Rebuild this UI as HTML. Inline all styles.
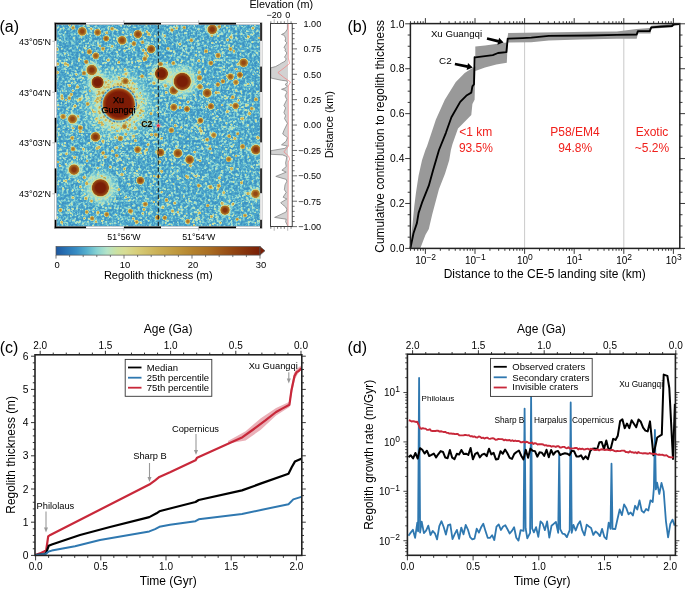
<!DOCTYPE html><html><head><meta charset="utf-8"><style>html,body{margin:0;padding:0;background:#fff;overflow:hidden}svg{display:block;will-change:transform}</style></head><body><svg width="685" height="589" viewBox="0 0 685 589" font-family="'Liberation Sans', sans-serif"><rect width="685" height="589" fill="#fff"/><text x="347.5" y="32.2" font-size="16" text-anchor="start" fill="#000" >(b)</text>
<line x1="524.6" y1="23.6" x2="524.6" y2="248.4" stroke="#bbb" stroke-width="0.8" />
<line x1="623.8" y1="23.6" x2="623.8" y2="248.4" stroke="#bbb" stroke-width="0.8" />
<polygon points="410.4,248.2 411.8,231.6 414.3,206.1 416,192.5 418.6,175.5 422,160.2 425.4,150 427.1,146.1 435.9,119.6 444.8,99.7 455.8,82 464.7,73.1 471.3,68.7 475.3,66.5 475.3,46.6 485,45.5 506.8,42.5 508.2,32.9 590,31.7 616.8,31.6 636.7,29.1 649.7,28 651.3,25.7 672,23.9 679.6,23.5 679.6,24.5 675,25 672,27.3 651.3,28.8 650.5,33.4 637.9,33.4 636.7,38.8 616.8,38.8 580,39.5 548.8,40.4 531.3,42.2 507.7,42.5 506.8,62.7 496.3,64.4 485,67.6 475.3,70.9 474.6,99.7 472.4,104.1 471.3,115.1 466.9,119.6 458,128.4 452.5,143.9 450.9,150 449.2,160.2 445,173.8 439,189.1 432.2,214.6 428.8,229 425.4,235 420.3,248.2" fill="#999" />
<polyline points="410.4,248.2 413.5,233.3 416.9,223.1 418.6,212.9 422,202.7 428.8,185.7 433,170.4 439,150 445.9,132.8 451.4,117.3 460.2,101.9 466.9,95.2 471.3,92.6 472.4,86.4 474,84.2 474.6,57.2 475.3,57.4 492.8,55.1 498,53 506.4,52.2 507.7,38.7 522.6,38.1 531.3,37.6 548.8,35.9 590,35.5 616.8,34.9 636.7,34.5 637.9,31.1 649.7,31.1 651.3,27.3 662.8,26.5 672,26 673.5,24.5 679.6,24.2" fill="none" stroke="#000" stroke-width="1.85" stroke-linejoin="round" />
<rect x="410.4" y="23.6" width="269.4" height="224.8" fill="none" stroke="#222" stroke-width="1.5"/>
<line x1="405.2" y1="248.4" x2="410.4" y2="248.4" stroke="#222" stroke-width="0.9" />
<line x1="679.8" y1="248.4" x2="685" y2="248.4" stroke="#222" stroke-width="0.9" />
<line x1="407.7" y1="237.17" x2="410.4" y2="237.17" stroke="#222" stroke-width="0.9" />
<line x1="679.8" y1="237.17" x2="682.5" y2="237.17" stroke="#222" stroke-width="0.9" />
<line x1="407.7" y1="225.94" x2="410.4" y2="225.94" stroke="#222" stroke-width="0.9" />
<line x1="679.8" y1="225.94" x2="682.5" y2="225.94" stroke="#222" stroke-width="0.9" />
<line x1="407.7" y1="214.71" x2="410.4" y2="214.71" stroke="#222" stroke-width="0.9" />
<line x1="679.8" y1="214.71" x2="682.5" y2="214.71" stroke="#222" stroke-width="0.9" />
<line x1="405.2" y1="203.48" x2="410.4" y2="203.48" stroke="#222" stroke-width="0.9" />
<line x1="679.8" y1="203.48" x2="685" y2="203.48" stroke="#222" stroke-width="0.9" />
<line x1="407.7" y1="192.25" x2="410.4" y2="192.25" stroke="#222" stroke-width="0.9" />
<line x1="679.8" y1="192.25" x2="682.5" y2="192.25" stroke="#222" stroke-width="0.9" />
<line x1="407.7" y1="181.02" x2="410.4" y2="181.02" stroke="#222" stroke-width="0.9" />
<line x1="679.8" y1="181.02" x2="682.5" y2="181.02" stroke="#222" stroke-width="0.9" />
<line x1="407.7" y1="169.79" x2="410.4" y2="169.79" stroke="#222" stroke-width="0.9" />
<line x1="679.8" y1="169.79" x2="682.5" y2="169.79" stroke="#222" stroke-width="0.9" />
<line x1="405.2" y1="158.56" x2="410.4" y2="158.56" stroke="#222" stroke-width="0.9" />
<line x1="679.8" y1="158.56" x2="685" y2="158.56" stroke="#222" stroke-width="0.9" />
<line x1="407.7" y1="147.33" x2="410.4" y2="147.33" stroke="#222" stroke-width="0.9" />
<line x1="679.8" y1="147.33" x2="682.5" y2="147.33" stroke="#222" stroke-width="0.9" />
<line x1="407.7" y1="136.1" x2="410.4" y2="136.1" stroke="#222" stroke-width="0.9" />
<line x1="679.8" y1="136.1" x2="682.5" y2="136.1" stroke="#222" stroke-width="0.9" />
<line x1="407.7" y1="124.87" x2="410.4" y2="124.87" stroke="#222" stroke-width="0.9" />
<line x1="679.8" y1="124.87" x2="682.5" y2="124.87" stroke="#222" stroke-width="0.9" />
<line x1="405.2" y1="113.64" x2="410.4" y2="113.64" stroke="#222" stroke-width="0.9" />
<line x1="679.8" y1="113.64" x2="685" y2="113.64" stroke="#222" stroke-width="0.9" />
<line x1="407.7" y1="102.41" x2="410.4" y2="102.41" stroke="#222" stroke-width="0.9" />
<line x1="679.8" y1="102.41" x2="682.5" y2="102.41" stroke="#222" stroke-width="0.9" />
<line x1="407.7" y1="91.18" x2="410.4" y2="91.18" stroke="#222" stroke-width="0.9" />
<line x1="679.8" y1="91.18" x2="682.5" y2="91.18" stroke="#222" stroke-width="0.9" />
<line x1="407.7" y1="79.95" x2="410.4" y2="79.95" stroke="#222" stroke-width="0.9" />
<line x1="679.8" y1="79.95" x2="682.5" y2="79.95" stroke="#222" stroke-width="0.9" />
<line x1="405.2" y1="68.72" x2="410.4" y2="68.72" stroke="#222" stroke-width="0.9" />
<line x1="679.8" y1="68.72" x2="685" y2="68.72" stroke="#222" stroke-width="0.9" />
<line x1="407.7" y1="57.49" x2="410.4" y2="57.49" stroke="#222" stroke-width="0.9" />
<line x1="679.8" y1="57.49" x2="682.5" y2="57.49" stroke="#222" stroke-width="0.9" />
<line x1="407.7" y1="46.26" x2="410.4" y2="46.26" stroke="#222" stroke-width="0.9" />
<line x1="679.8" y1="46.26" x2="682.5" y2="46.26" stroke="#222" stroke-width="0.9" />
<line x1="407.7" y1="35.03" x2="410.4" y2="35.03" stroke="#222" stroke-width="0.9" />
<line x1="679.8" y1="35.03" x2="682.5" y2="35.03" stroke="#222" stroke-width="0.9" />
<line x1="405.2" y1="23.8" x2="410.4" y2="23.8" stroke="#222" stroke-width="0.9" />
<line x1="679.8" y1="23.8" x2="685" y2="23.8" stroke="#222" stroke-width="0.9" />
<text x="404.4" y="252.1" font-size="10.3" text-anchor="end" fill="#000" >0.0</text>
<text x="404.4" y="207.18" font-size="10.3" text-anchor="end" fill="#000" >0.2</text>
<text x="404.4" y="162.26" font-size="10.3" text-anchor="end" fill="#000" >0.4</text>
<text x="404.4" y="117.34" font-size="10.3" text-anchor="end" fill="#000" >0.6</text>
<text x="404.4" y="72.42" font-size="10.3" text-anchor="end" fill="#000" >0.8</text>
<text x="404.4" y="27.5" font-size="10.3" text-anchor="end" fill="#000" >1.0</text>
<line x1="410.47" y1="248.4" x2="410.47" y2="250.8" stroke="#222" stroke-width="0.9" />
<line x1="410.47" y1="21.2" x2="410.47" y2="23.6" stroke="#222" stroke-width="0.9" />
<line x1="414.4" y1="248.4" x2="414.4" y2="250.8" stroke="#222" stroke-width="0.9" />
<line x1="414.4" y1="21.2" x2="414.4" y2="23.6" stroke="#222" stroke-width="0.9" />
<line x1="417.72" y1="248.4" x2="417.72" y2="250.8" stroke="#222" stroke-width="0.9" />
<line x1="417.72" y1="21.2" x2="417.72" y2="23.6" stroke="#222" stroke-width="0.9" />
<line x1="420.59" y1="248.4" x2="420.59" y2="250.8" stroke="#222" stroke-width="0.9" />
<line x1="420.59" y1="21.2" x2="420.59" y2="23.6" stroke="#222" stroke-width="0.9" />
<line x1="423.13" y1="248.4" x2="423.13" y2="250.8" stroke="#222" stroke-width="0.9" />
<line x1="423.13" y1="21.2" x2="423.13" y2="23.6" stroke="#222" stroke-width="0.9" />
<line x1="425.4" y1="248.4" x2="425.4" y2="253.9" stroke="#222" stroke-width="0.9" />
<line x1="425.4" y1="18.1" x2="425.4" y2="23.6" stroke="#222" stroke-width="0.9" />
<line x1="440.33" y1="248.4" x2="440.33" y2="250.8" stroke="#222" stroke-width="0.9" />
<line x1="440.33" y1="21.2" x2="440.33" y2="23.6" stroke="#222" stroke-width="0.9" />
<line x1="449.07" y1="248.4" x2="449.07" y2="250.8" stroke="#222" stroke-width="0.9" />
<line x1="449.07" y1="21.2" x2="449.07" y2="23.6" stroke="#222" stroke-width="0.9" />
<line x1="455.26" y1="248.4" x2="455.26" y2="250.8" stroke="#222" stroke-width="0.9" />
<line x1="455.26" y1="21.2" x2="455.26" y2="23.6" stroke="#222" stroke-width="0.9" />
<line x1="460.07" y1="248.4" x2="460.07" y2="250.8" stroke="#222" stroke-width="0.9" />
<line x1="460.07" y1="21.2" x2="460.07" y2="23.6" stroke="#222" stroke-width="0.9" />
<line x1="464" y1="248.4" x2="464" y2="250.8" stroke="#222" stroke-width="0.9" />
<line x1="464" y1="21.2" x2="464" y2="23.6" stroke="#222" stroke-width="0.9" />
<line x1="467.32" y1="248.4" x2="467.32" y2="250.8" stroke="#222" stroke-width="0.9" />
<line x1="467.32" y1="21.2" x2="467.32" y2="23.6" stroke="#222" stroke-width="0.9" />
<line x1="470.19" y1="248.4" x2="470.19" y2="250.8" stroke="#222" stroke-width="0.9" />
<line x1="470.19" y1="21.2" x2="470.19" y2="23.6" stroke="#222" stroke-width="0.9" />
<line x1="472.73" y1="248.4" x2="472.73" y2="250.8" stroke="#222" stroke-width="0.9" />
<line x1="472.73" y1="21.2" x2="472.73" y2="23.6" stroke="#222" stroke-width="0.9" />
<line x1="475" y1="248.4" x2="475" y2="253.9" stroke="#222" stroke-width="0.9" />
<line x1="475" y1="18.1" x2="475" y2="23.6" stroke="#222" stroke-width="0.9" />
<line x1="489.93" y1="248.4" x2="489.93" y2="250.8" stroke="#222" stroke-width="0.9" />
<line x1="489.93" y1="21.2" x2="489.93" y2="23.6" stroke="#222" stroke-width="0.9" />
<line x1="498.67" y1="248.4" x2="498.67" y2="250.8" stroke="#222" stroke-width="0.9" />
<line x1="498.67" y1="21.2" x2="498.67" y2="23.6" stroke="#222" stroke-width="0.9" />
<line x1="504.86" y1="248.4" x2="504.86" y2="250.8" stroke="#222" stroke-width="0.9" />
<line x1="504.86" y1="21.2" x2="504.86" y2="23.6" stroke="#222" stroke-width="0.9" />
<line x1="509.67" y1="248.4" x2="509.67" y2="250.8" stroke="#222" stroke-width="0.9" />
<line x1="509.67" y1="21.2" x2="509.67" y2="23.6" stroke="#222" stroke-width="0.9" />
<line x1="513.6" y1="248.4" x2="513.6" y2="250.8" stroke="#222" stroke-width="0.9" />
<line x1="513.6" y1="21.2" x2="513.6" y2="23.6" stroke="#222" stroke-width="0.9" />
<line x1="516.92" y1="248.4" x2="516.92" y2="250.8" stroke="#222" stroke-width="0.9" />
<line x1="516.92" y1="21.2" x2="516.92" y2="23.6" stroke="#222" stroke-width="0.9" />
<line x1="519.79" y1="248.4" x2="519.79" y2="250.8" stroke="#222" stroke-width="0.9" />
<line x1="519.79" y1="21.2" x2="519.79" y2="23.6" stroke="#222" stroke-width="0.9" />
<line x1="522.33" y1="248.4" x2="522.33" y2="250.8" stroke="#222" stroke-width="0.9" />
<line x1="522.33" y1="21.2" x2="522.33" y2="23.6" stroke="#222" stroke-width="0.9" />
<line x1="524.6" y1="248.4" x2="524.6" y2="253.9" stroke="#222" stroke-width="0.9" />
<line x1="524.6" y1="18.1" x2="524.6" y2="23.6" stroke="#222" stroke-width="0.9" />
<line x1="539.53" y1="248.4" x2="539.53" y2="250.8" stroke="#222" stroke-width="0.9" />
<line x1="539.53" y1="21.2" x2="539.53" y2="23.6" stroke="#222" stroke-width="0.9" />
<line x1="548.27" y1="248.4" x2="548.27" y2="250.8" stroke="#222" stroke-width="0.9" />
<line x1="548.27" y1="21.2" x2="548.27" y2="23.6" stroke="#222" stroke-width="0.9" />
<line x1="554.46" y1="248.4" x2="554.46" y2="250.8" stroke="#222" stroke-width="0.9" />
<line x1="554.46" y1="21.2" x2="554.46" y2="23.6" stroke="#222" stroke-width="0.9" />
<line x1="559.27" y1="248.4" x2="559.27" y2="250.8" stroke="#222" stroke-width="0.9" />
<line x1="559.27" y1="21.2" x2="559.27" y2="23.6" stroke="#222" stroke-width="0.9" />
<line x1="563.2" y1="248.4" x2="563.2" y2="250.8" stroke="#222" stroke-width="0.9" />
<line x1="563.2" y1="21.2" x2="563.2" y2="23.6" stroke="#222" stroke-width="0.9" />
<line x1="566.52" y1="248.4" x2="566.52" y2="250.8" stroke="#222" stroke-width="0.9" />
<line x1="566.52" y1="21.2" x2="566.52" y2="23.6" stroke="#222" stroke-width="0.9" />
<line x1="569.39" y1="248.4" x2="569.39" y2="250.8" stroke="#222" stroke-width="0.9" />
<line x1="569.39" y1="21.2" x2="569.39" y2="23.6" stroke="#222" stroke-width="0.9" />
<line x1="571.93" y1="248.4" x2="571.93" y2="250.8" stroke="#222" stroke-width="0.9" />
<line x1="571.93" y1="21.2" x2="571.93" y2="23.6" stroke="#222" stroke-width="0.9" />
<line x1="574.2" y1="248.4" x2="574.2" y2="253.9" stroke="#222" stroke-width="0.9" />
<line x1="574.2" y1="18.1" x2="574.2" y2="23.6" stroke="#222" stroke-width="0.9" />
<line x1="589.13" y1="248.4" x2="589.13" y2="250.8" stroke="#222" stroke-width="0.9" />
<line x1="589.13" y1="21.2" x2="589.13" y2="23.6" stroke="#222" stroke-width="0.9" />
<line x1="597.87" y1="248.4" x2="597.87" y2="250.8" stroke="#222" stroke-width="0.9" />
<line x1="597.87" y1="21.2" x2="597.87" y2="23.6" stroke="#222" stroke-width="0.9" />
<line x1="604.06" y1="248.4" x2="604.06" y2="250.8" stroke="#222" stroke-width="0.9" />
<line x1="604.06" y1="21.2" x2="604.06" y2="23.6" stroke="#222" stroke-width="0.9" />
<line x1="608.87" y1="248.4" x2="608.87" y2="250.8" stroke="#222" stroke-width="0.9" />
<line x1="608.87" y1="21.2" x2="608.87" y2="23.6" stroke="#222" stroke-width="0.9" />
<line x1="612.8" y1="248.4" x2="612.8" y2="250.8" stroke="#222" stroke-width="0.9" />
<line x1="612.8" y1="21.2" x2="612.8" y2="23.6" stroke="#222" stroke-width="0.9" />
<line x1="616.12" y1="248.4" x2="616.12" y2="250.8" stroke="#222" stroke-width="0.9" />
<line x1="616.12" y1="21.2" x2="616.12" y2="23.6" stroke="#222" stroke-width="0.9" />
<line x1="618.99" y1="248.4" x2="618.99" y2="250.8" stroke="#222" stroke-width="0.9" />
<line x1="618.99" y1="21.2" x2="618.99" y2="23.6" stroke="#222" stroke-width="0.9" />
<line x1="621.53" y1="248.4" x2="621.53" y2="250.8" stroke="#222" stroke-width="0.9" />
<line x1="621.53" y1="21.2" x2="621.53" y2="23.6" stroke="#222" stroke-width="0.9" />
<line x1="623.8" y1="248.4" x2="623.8" y2="253.9" stroke="#222" stroke-width="0.9" />
<line x1="623.8" y1="18.1" x2="623.8" y2="23.6" stroke="#222" stroke-width="0.9" />
<line x1="638.73" y1="248.4" x2="638.73" y2="250.8" stroke="#222" stroke-width="0.9" />
<line x1="638.73" y1="21.2" x2="638.73" y2="23.6" stroke="#222" stroke-width="0.9" />
<line x1="647.47" y1="248.4" x2="647.47" y2="250.8" stroke="#222" stroke-width="0.9" />
<line x1="647.47" y1="21.2" x2="647.47" y2="23.6" stroke="#222" stroke-width="0.9" />
<line x1="653.66" y1="248.4" x2="653.66" y2="250.8" stroke="#222" stroke-width="0.9" />
<line x1="653.66" y1="21.2" x2="653.66" y2="23.6" stroke="#222" stroke-width="0.9" />
<line x1="658.47" y1="248.4" x2="658.47" y2="250.8" stroke="#222" stroke-width="0.9" />
<line x1="658.47" y1="21.2" x2="658.47" y2="23.6" stroke="#222" stroke-width="0.9" />
<line x1="662.4" y1="248.4" x2="662.4" y2="250.8" stroke="#222" stroke-width="0.9" />
<line x1="662.4" y1="21.2" x2="662.4" y2="23.6" stroke="#222" stroke-width="0.9" />
<line x1="665.72" y1="248.4" x2="665.72" y2="250.8" stroke="#222" stroke-width="0.9" />
<line x1="665.72" y1="21.2" x2="665.72" y2="23.6" stroke="#222" stroke-width="0.9" />
<line x1="668.59" y1="248.4" x2="668.59" y2="250.8" stroke="#222" stroke-width="0.9" />
<line x1="668.59" y1="21.2" x2="668.59" y2="23.6" stroke="#222" stroke-width="0.9" />
<line x1="671.13" y1="248.4" x2="671.13" y2="250.8" stroke="#222" stroke-width="0.9" />
<line x1="671.13" y1="21.2" x2="671.13" y2="23.6" stroke="#222" stroke-width="0.9" />
<line x1="673.4" y1="248.4" x2="673.4" y2="253.9" stroke="#222" stroke-width="0.9" />
<line x1="673.4" y1="18.1" x2="673.4" y2="23.6" stroke="#222" stroke-width="0.9" />
<text x="425.7" y="264.2" font-size="10" text-anchor="middle">10<tspan font-size="8.5" dy="-4.3">−2</tspan></text>
<text x="475.3" y="264.2" font-size="10" text-anchor="middle">10<tspan font-size="8.5" dy="-4.3">−1</tspan></text>
<text x="524.9" y="264.2" font-size="10" text-anchor="middle">10<tspan font-size="8.5" dy="-4.3">0</tspan></text>
<text x="574.5" y="264.2" font-size="10" text-anchor="middle">10<tspan font-size="8.5" dy="-4.3">1</tspan></text>
<text x="624.1" y="264.2" font-size="10" text-anchor="middle">10<tspan font-size="8.5" dy="-4.3">2</tspan></text>
<text x="673.7" y="264.2" font-size="10" text-anchor="middle">10<tspan font-size="8.5" dy="-4.3">3</tspan></text>
<text x="544.7" y="277.6" font-size="12" text-anchor="middle" fill="#000" >Distance to the CE-5 landing site (km)</text>
<text transform="translate(383.5,136.3) rotate(-90)" font-size="11.9" text-anchor="middle">Cumulative contribution to regolith thickness</text>
<text x="475.7" y="136.4" font-size="12" text-anchor="middle" fill="#f0201c" >&lt;1 km</text>
<text x="475.9" y="151.6" font-size="12" text-anchor="middle" fill="#f0201c" >93.5%</text>
<text x="574.9" y="136.4" font-size="12" text-anchor="middle" fill="#f0201c" >P58/EM4</text>
<text x="575.2" y="151.6" font-size="12" text-anchor="middle" fill="#f0201c" >94.8%</text>
<text x="652" y="136.4" font-size="12" text-anchor="middle" fill="#f0201c" >Exotic</text>
<text x="651.9" y="151.6" font-size="12" text-anchor="middle" fill="#f0201c" >~5.2%</text>
<text x="456.5" y="37" font-size="9.7" text-anchor="middle" fill="#000" >Xu Guangqi</text>
<text x="445.4" y="64" font-size="9.9" text-anchor="middle" fill="#000" >C2</text>
<line x1="487" y1="38.5" x2="498.75" y2="41.4" stroke="#000" stroke-width="2.8" />
<polygon points="503.6,42.6 497.4,44.78 499.12,37.79" fill="#000" />
<line x1="454.9" y1="64" x2="467.79" y2="66.54" stroke="#000" stroke-width="2.8" />
<polygon points="472.7,67.5 466.61,69.97 468,62.91" fill="#000" />
<text x="-0.3" y="352.8" font-size="16" text-anchor="start" fill="#000" >(c)</text>
<polygon points="228,441 245.6,431.2 260.8,418.2 276.1,408 289,402 291,388 294,373 297,368.5 301.3,365.5 301.3,370 298,373.5 295,379 292,393 289.5,407 276.1,415.5 260.8,429.8 245.6,440.5 228,443.5" fill="#eab0b8" />
<polyline points="35.3,555 40,553.4 44,551.4 46.2,550.2 48.2,536.3 50.3,534.9 149.3,484.6 155.1,480.3 159.4,476.9 170,472.3 195.5,460.3 197.1,457.7 242.5,437.2 253.2,429.5 265.4,420.4 276.1,412 282.2,408.6 289.4,404.8 291.4,390.6 294.5,376 296.8,371.9 298.7,371 301.3,368.4" fill="none" stroke="#c8283a" stroke-width="2.2" stroke-linejoin="round" />
<polyline points="35.3,555 44,554 46.1,553 48.7,545.8 51.8,544.5 80,535 110,527 149.3,517.1 156.5,513.3 159.4,511.3 170,508.5 195.5,502 198.7,500 242,490.4 261.2,483.4 288.5,473.8 291.7,467.3 294.9,461.6 301.3,458.7" fill="none" stroke="#000" stroke-width="2.2" stroke-linejoin="round" />
<polyline points="35.3,555 45.7,554.1 48.7,551.5 51.8,550.6 75,546.2 100,540 149.3,531.4 155.1,529.1 159.4,526.8 170,524.8 195.5,521.2 198.7,519.3 242,513.9 288.5,504.2 293.3,499.4 301.3,496.9" fill="none" stroke="#2f78b0" stroke-width="2.0" stroke-linejoin="round" />
<rect x="35.0" y="354.8" width="266.8" height="200.59999999999997" fill="none" stroke="#222" stroke-width="1.6"/>
<line x1="31" y1="555.4" x2="35" y2="555.4" stroke="#222" stroke-width="0.9" />
<line x1="301.8" y1="555.4" x2="305.8" y2="555.4" stroke="#222" stroke-width="0.9" />
<line x1="32.8" y1="548.76" x2="35" y2="548.76" stroke="#222" stroke-width="0.9" />
<line x1="301.8" y1="548.76" x2="304" y2="548.76" stroke="#222" stroke-width="0.9" />
<line x1="32.8" y1="542.12" x2="35" y2="542.12" stroke="#222" stroke-width="0.9" />
<line x1="301.8" y1="542.12" x2="304" y2="542.12" stroke="#222" stroke-width="0.9" />
<line x1="32.8" y1="535.48" x2="35" y2="535.48" stroke="#222" stroke-width="0.9" />
<line x1="301.8" y1="535.48" x2="304" y2="535.48" stroke="#222" stroke-width="0.9" />
<line x1="32.8" y1="528.84" x2="35" y2="528.84" stroke="#222" stroke-width="0.9" />
<line x1="301.8" y1="528.84" x2="304" y2="528.84" stroke="#222" stroke-width="0.9" />
<line x1="31" y1="522.2" x2="35" y2="522.2" stroke="#222" stroke-width="0.9" />
<line x1="301.8" y1="522.2" x2="305.8" y2="522.2" stroke="#222" stroke-width="0.9" />
<line x1="32.8" y1="515.56" x2="35" y2="515.56" stroke="#222" stroke-width="0.9" />
<line x1="301.8" y1="515.56" x2="304" y2="515.56" stroke="#222" stroke-width="0.9" />
<line x1="32.8" y1="508.92" x2="35" y2="508.92" stroke="#222" stroke-width="0.9" />
<line x1="301.8" y1="508.92" x2="304" y2="508.92" stroke="#222" stroke-width="0.9" />
<line x1="32.8" y1="502.28" x2="35" y2="502.28" stroke="#222" stroke-width="0.9" />
<line x1="301.8" y1="502.28" x2="304" y2="502.28" stroke="#222" stroke-width="0.9" />
<line x1="32.8" y1="495.64" x2="35" y2="495.64" stroke="#222" stroke-width="0.9" />
<line x1="301.8" y1="495.64" x2="304" y2="495.64" stroke="#222" stroke-width="0.9" />
<line x1="31" y1="489" x2="35" y2="489" stroke="#222" stroke-width="0.9" />
<line x1="301.8" y1="489" x2="305.8" y2="489" stroke="#222" stroke-width="0.9" />
<line x1="32.8" y1="482.36" x2="35" y2="482.36" stroke="#222" stroke-width="0.9" />
<line x1="301.8" y1="482.36" x2="304" y2="482.36" stroke="#222" stroke-width="0.9" />
<line x1="32.8" y1="475.72" x2="35" y2="475.72" stroke="#222" stroke-width="0.9" />
<line x1="301.8" y1="475.72" x2="304" y2="475.72" stroke="#222" stroke-width="0.9" />
<line x1="32.8" y1="469.08" x2="35" y2="469.08" stroke="#222" stroke-width="0.9" />
<line x1="301.8" y1="469.08" x2="304" y2="469.08" stroke="#222" stroke-width="0.9" />
<line x1="32.8" y1="462.44" x2="35" y2="462.44" stroke="#222" stroke-width="0.9" />
<line x1="301.8" y1="462.44" x2="304" y2="462.44" stroke="#222" stroke-width="0.9" />
<line x1="31" y1="455.8" x2="35" y2="455.8" stroke="#222" stroke-width="0.9" />
<line x1="301.8" y1="455.8" x2="305.8" y2="455.8" stroke="#222" stroke-width="0.9" />
<line x1="32.8" y1="449.16" x2="35" y2="449.16" stroke="#222" stroke-width="0.9" />
<line x1="301.8" y1="449.16" x2="304" y2="449.16" stroke="#222" stroke-width="0.9" />
<line x1="32.8" y1="442.52" x2="35" y2="442.52" stroke="#222" stroke-width="0.9" />
<line x1="301.8" y1="442.52" x2="304" y2="442.52" stroke="#222" stroke-width="0.9" />
<line x1="32.8" y1="435.88" x2="35" y2="435.88" stroke="#222" stroke-width="0.9" />
<line x1="301.8" y1="435.88" x2="304" y2="435.88" stroke="#222" stroke-width="0.9" />
<line x1="32.8" y1="429.24" x2="35" y2="429.24" stroke="#222" stroke-width="0.9" />
<line x1="301.8" y1="429.24" x2="304" y2="429.24" stroke="#222" stroke-width="0.9" />
<line x1="31" y1="422.6" x2="35" y2="422.6" stroke="#222" stroke-width="0.9" />
<line x1="301.8" y1="422.6" x2="305.8" y2="422.6" stroke="#222" stroke-width="0.9" />
<line x1="32.8" y1="415.96" x2="35" y2="415.96" stroke="#222" stroke-width="0.9" />
<line x1="301.8" y1="415.96" x2="304" y2="415.96" stroke="#222" stroke-width="0.9" />
<line x1="32.8" y1="409.32" x2="35" y2="409.32" stroke="#222" stroke-width="0.9" />
<line x1="301.8" y1="409.32" x2="304" y2="409.32" stroke="#222" stroke-width="0.9" />
<line x1="32.8" y1="402.68" x2="35" y2="402.68" stroke="#222" stroke-width="0.9" />
<line x1="301.8" y1="402.68" x2="304" y2="402.68" stroke="#222" stroke-width="0.9" />
<line x1="32.8" y1="396.04" x2="35" y2="396.04" stroke="#222" stroke-width="0.9" />
<line x1="301.8" y1="396.04" x2="304" y2="396.04" stroke="#222" stroke-width="0.9" />
<line x1="31" y1="389.4" x2="35" y2="389.4" stroke="#222" stroke-width="0.9" />
<line x1="301.8" y1="389.4" x2="305.8" y2="389.4" stroke="#222" stroke-width="0.9" />
<line x1="32.8" y1="382.76" x2="35" y2="382.76" stroke="#222" stroke-width="0.9" />
<line x1="301.8" y1="382.76" x2="304" y2="382.76" stroke="#222" stroke-width="0.9" />
<line x1="32.8" y1="376.12" x2="35" y2="376.12" stroke="#222" stroke-width="0.9" />
<line x1="301.8" y1="376.12" x2="304" y2="376.12" stroke="#222" stroke-width="0.9" />
<line x1="32.8" y1="369.48" x2="35" y2="369.48" stroke="#222" stroke-width="0.9" />
<line x1="301.8" y1="369.48" x2="304" y2="369.48" stroke="#222" stroke-width="0.9" />
<line x1="32.8" y1="362.84" x2="35" y2="362.84" stroke="#222" stroke-width="0.9" />
<line x1="301.8" y1="362.84" x2="304" y2="362.84" stroke="#222" stroke-width="0.9" />
<line x1="31" y1="356.2" x2="35" y2="356.2" stroke="#222" stroke-width="0.9" />
<line x1="301.8" y1="356.2" x2="305.8" y2="356.2" stroke="#222" stroke-width="0.9" />
<text x="28.5" y="559" font-size="10.3" text-anchor="end" fill="#000" >0</text>
<text x="28.5" y="525.8" font-size="10.3" text-anchor="end" fill="#000" >1</text>
<text x="28.5" y="492.6" font-size="10.3" text-anchor="end" fill="#000" >2</text>
<text x="28.5" y="459.4" font-size="10.3" text-anchor="end" fill="#000" >3</text>
<text x="28.5" y="426.2" font-size="10.3" text-anchor="end" fill="#000" >4</text>
<text x="28.5" y="393" font-size="10.3" text-anchor="end" fill="#000" >5</text>
<text x="28.5" y="359.8" font-size="10.3" text-anchor="end" fill="#000" >6</text>
<line x1="35.6" y1="555.4" x2="35.6" y2="560.4" stroke="#222" stroke-width="0.9" />
<line x1="48.64" y1="555.4" x2="48.64" y2="557.9" stroke="#222" stroke-width="0.9" />
<line x1="61.68" y1="555.4" x2="61.68" y2="557.9" stroke="#222" stroke-width="0.9" />
<line x1="74.72" y1="555.4" x2="74.72" y2="557.9" stroke="#222" stroke-width="0.9" />
<line x1="87.76" y1="555.4" x2="87.76" y2="557.9" stroke="#222" stroke-width="0.9" />
<line x1="100.8" y1="555.4" x2="100.8" y2="560.4" stroke="#222" stroke-width="0.9" />
<line x1="113.84" y1="555.4" x2="113.84" y2="557.9" stroke="#222" stroke-width="0.9" />
<line x1="126.88" y1="555.4" x2="126.88" y2="557.9" stroke="#222" stroke-width="0.9" />
<line x1="139.92" y1="555.4" x2="139.92" y2="557.9" stroke="#222" stroke-width="0.9" />
<line x1="152.96" y1="555.4" x2="152.96" y2="557.9" stroke="#222" stroke-width="0.9" />
<line x1="166" y1="555.4" x2="166" y2="560.4" stroke="#222" stroke-width="0.9" />
<line x1="179.04" y1="555.4" x2="179.04" y2="557.9" stroke="#222" stroke-width="0.9" />
<line x1="192.08" y1="555.4" x2="192.08" y2="557.9" stroke="#222" stroke-width="0.9" />
<line x1="205.12" y1="555.4" x2="205.12" y2="557.9" stroke="#222" stroke-width="0.9" />
<line x1="218.16" y1="555.4" x2="218.16" y2="557.9" stroke="#222" stroke-width="0.9" />
<line x1="231.2" y1="555.4" x2="231.2" y2="560.4" stroke="#222" stroke-width="0.9" />
<line x1="244.24" y1="555.4" x2="244.24" y2="557.9" stroke="#222" stroke-width="0.9" />
<line x1="257.28" y1="555.4" x2="257.28" y2="557.9" stroke="#222" stroke-width="0.9" />
<line x1="270.32" y1="555.4" x2="270.32" y2="557.9" stroke="#222" stroke-width="0.9" />
<line x1="283.36" y1="555.4" x2="283.36" y2="557.9" stroke="#222" stroke-width="0.9" />
<line x1="296.4" y1="555.4" x2="296.4" y2="560.4" stroke="#222" stroke-width="0.9" />
<text x="35.6" y="569.5" font-size="10" text-anchor="middle" fill="#000" >0.0</text>
<text x="100.8" y="569.5" font-size="10" text-anchor="middle" fill="#000" >0.5</text>
<text x="166" y="569.5" font-size="10" text-anchor="middle" fill="#000" >1.0</text>
<text x="231.2" y="569.5" font-size="10" text-anchor="middle" fill="#000" >1.5</text>
<text x="296.4" y="569.5" font-size="10" text-anchor="middle" fill="#000" >2.0</text>
<line x1="301" y1="350.8" x2="301" y2="354.8" stroke="#222" stroke-width="0.9" />
<line x1="287.96" y1="352.6" x2="287.96" y2="354.8" stroke="#222" stroke-width="0.9" />
<line x1="274.92" y1="352.6" x2="274.92" y2="354.8" stroke="#222" stroke-width="0.9" />
<line x1="261.88" y1="352.6" x2="261.88" y2="354.8" stroke="#222" stroke-width="0.9" />
<line x1="248.84" y1="352.6" x2="248.84" y2="354.8" stroke="#222" stroke-width="0.9" />
<line x1="235.8" y1="350.8" x2="235.8" y2="354.8" stroke="#222" stroke-width="0.9" />
<line x1="222.76" y1="352.6" x2="222.76" y2="354.8" stroke="#222" stroke-width="0.9" />
<line x1="209.72" y1="352.6" x2="209.72" y2="354.8" stroke="#222" stroke-width="0.9" />
<line x1="196.68" y1="352.6" x2="196.68" y2="354.8" stroke="#222" stroke-width="0.9" />
<line x1="183.64" y1="352.6" x2="183.64" y2="354.8" stroke="#222" stroke-width="0.9" />
<line x1="170.6" y1="350.8" x2="170.6" y2="354.8" stroke="#222" stroke-width="0.9" />
<line x1="157.56" y1="352.6" x2="157.56" y2="354.8" stroke="#222" stroke-width="0.9" />
<line x1="144.52" y1="352.6" x2="144.52" y2="354.8" stroke="#222" stroke-width="0.9" />
<line x1="131.48" y1="352.6" x2="131.48" y2="354.8" stroke="#222" stroke-width="0.9" />
<line x1="118.44" y1="352.6" x2="118.44" y2="354.8" stroke="#222" stroke-width="0.9" />
<line x1="105.4" y1="350.8" x2="105.4" y2="354.8" stroke="#222" stroke-width="0.9" />
<line x1="92.36" y1="352.6" x2="92.36" y2="354.8" stroke="#222" stroke-width="0.9" />
<line x1="79.32" y1="352.6" x2="79.32" y2="354.8" stroke="#222" stroke-width="0.9" />
<line x1="66.28" y1="352.6" x2="66.28" y2="354.8" stroke="#222" stroke-width="0.9" />
<line x1="53.24" y1="352.6" x2="53.24" y2="354.8" stroke="#222" stroke-width="0.9" />
<line x1="40.2" y1="350.8" x2="40.2" y2="354.8" stroke="#222" stroke-width="0.9" />
<text x="301" y="348.5" font-size="10" text-anchor="middle" fill="#000" >0.0</text>
<text x="235.8" y="348.5" font-size="10" text-anchor="middle" fill="#000" >0.5</text>
<text x="170.6" y="348.5" font-size="10" text-anchor="middle" fill="#000" >1.0</text>
<text x="105.4" y="348.5" font-size="10" text-anchor="middle" fill="#000" >1.5</text>
<text x="40.2" y="348.5" font-size="10" text-anchor="middle" fill="#000" >2.0</text>
<text x="168.2" y="585.3" font-size="12" text-anchor="middle" fill="#000" >Time (Gyr)</text>
<text x="168.2" y="333" font-size="12" text-anchor="middle" fill="#000" >Age (Ga)</text>
<text transform="translate(14.8,454.85) rotate(-90)" font-size="11.9" text-anchor="middle">Regolith thickness (m)</text>
<rect x="125.2" y="359.4" width="86.6" height="36.9" fill="#fff" stroke="#333" stroke-width="0.9"/>
<line x1="128" y1="367.5" x2="141.5" y2="367.5" stroke="#000" stroke-width="1.8" />
<line x1="128" y1="377.7" x2="141.5" y2="377.7" stroke="#2f78b0" stroke-width="1.8" />
<line x1="128" y1="387.7" x2="141.5" y2="387.7" stroke="#c8283a" stroke-width="1.8" />
<text x="146.8" y="370.8" font-size="9.5" text-anchor="start" fill="#000" >Median</text>
<text x="146.8" y="381" font-size="9.5" text-anchor="start" fill="#000" >25th percentile</text>
<text x="146.8" y="391" font-size="9.5" text-anchor="start" fill="#000" >75th percentile</text>
<text x="55.4" y="508.8" font-size="9.3" text-anchor="middle" fill="#000" >Philolaus</text>
<line x1="46" y1="511.5" x2="46" y2="528.5" stroke="#999" stroke-width="1.1" />
<polygon points="46,532.5 44,527.5 48,527.5" fill="#999" />
<text x="150" y="459" font-size="9.3" text-anchor="middle" fill="#000" >Sharp B</text>
<line x1="149.5" y1="463" x2="149.5" y2="478" stroke="#999" stroke-width="1.1" />
<polygon points="149.5,482 147.5,477 151.5,477" fill="#999" />
<text x="195.5" y="432" font-size="9.3" text-anchor="middle" fill="#000" >Copernicus</text>
<line x1="196" y1="434" x2="196" y2="451" stroke="#999" stroke-width="1.1" />
<polygon points="196,455 194,450 198,450" fill="#999" />
<text x="273.2" y="368.8" font-size="9.3" text-anchor="middle" fill="#000" >Xu Guangqi</text>
<line x1="288.8" y1="372.3" x2="288.8" y2="379.5" stroke="#999" stroke-width="1.1" />
<polygon points="288.8,383.5 286.8,378.5 290.8,378.5" fill="#999" />
<text x="347.5" y="352.8" font-size="16" text-anchor="start" fill="#000" >(d)</text>
<polyline points="408.5,535.7 410.7,532.62 412.9,529.81 415.1,537.77 417.3,522.68 418.1,531.3 419.1,378 420.1,532.61 421.7,521.6 423.9,533.03 426.1,530.62 428.3,525.6 430.5,534.97 432.7,530.95 434.9,533.29 437.1,539.41 439.3,526.12 441.5,521.23 443.7,527.02 445.9,534.56 448.1,525.05 450.3,524.39 452.5,539.11 454.7,534.2 456.9,529.84 459.1,538.83 461.3,527.54 463.5,534.32 465.7,524.97 467.9,529.62 470.1,537.12 472.3,539.28 474.5,538.61 476.7,528.69 478.9,532.66 481.1,527.33 483.3,523.72 485.5,530.93 487.7,537.74 489.9,537.97 492.1,535.22 494.3,540 496.5,526.54 498.7,524.38 500.9,530.01 503.1,526.5 505.3,525.28 507.5,529.28 509.7,533.51 511.9,530.88 514.1,527.31 516.3,537.78 518.5,540.64 520.7,530.05 523.6,530.92 524.6,408.6 525.6,528.17 527.3,538.46 530.1,532.85 531.1,396 532.1,528.38 533.9,532.41 536.1,527.18 538.3,536.83 540.5,521.38 542.7,523.72 544.9,530.1 547.1,521.49 549.3,537.59 551.5,525.75 553.7,523.82 555.9,521.94 558.2,532.8 559.2,454 560.2,529.04 562.5,533.6 564.7,534.1 566.9,537.15 569.7,530.01 570.7,402.4 571.7,532.73 573.5,524.99 575.7,530.5 577.9,524.57 580.1,521.22 582.3,530.44 584.5,535.28 586.7,524.58 588.9,526.45 591.1,527.91 593.3,534.95 595.5,531.41 597.7,533.29 599.9,536.12 602.1,528.87 604.3,536.84 606.5,539.12 608.7,522.74 610.5,528.84 611.5,463.7 612.5,528.89 615.3,528.98 617.5,519.07 619.7,509.47 621.9,515.1 624.1,504.37 626.3,508.14 628.5,514.28 630.7,512.57 632.9,515.45 635.1,505.77 637.3,509.46 639.5,500.46 641.7,510.74 643.9,512.6 646.1,509 648.3,510.45 650.5,500.3 652.7,502.06 653.9,488.14 654.9,430 655.9,489.38 657.1,482.75 659.3,493.96 661.5,482.9 663.7,491.37 665.9,520.76 668.1,537.33 670.3,523.84 672.5,519.6 674.7,525.6" fill="none" stroke="#2f78b0" stroke-width="1.8" stroke-linejoin="round" />
<polyline points="408.5,457.09 410.8,455.3 413.1,458.41 415.4,452.99 417.7,458.5 420,448.16 422.3,449.81 424.6,453.5 426.9,450.69 429.2,455.98 431.5,454.92 433.8,453.56 436.1,457.43 438.4,454.05 440.7,451.1 443,451.96 445.3,457.55 447.6,458.24 449.9,449.96 452.2,457.69 454.5,459.13 456.8,453.83 459.1,454.44 461.4,450 463.7,454.04 466,453.68 468.3,454.93 470.6,448.02 472.9,459.35 475.2,453.93 477.5,452.57 479.8,457.4 482.1,454.57 484.4,453.73 486.7,456.16 489,448.68 491.3,454.38 493.6,452.91 495.9,459.45 498.2,459.07 500.5,451.25 502.8,453.72 505.1,449.59 507.4,453.3 509.7,457.91 512,458.95 514.3,453.89 516.6,452 518.9,450.52 521.2,455.66 523.5,459.37 525.8,449.85 528.1,457.67 530.4,448.62 532.7,450.7 535,451.12 537.3,456.67 539.6,452.31 541.9,452.74 544.2,455.93 546.5,449.78 548.8,457.32 551.1,450.05 553.4,454.72 555.7,451.63 558,451.02 560.3,455.04 562.6,453.94 564.9,453.23 567.2,453.71 569.5,455.13 571.8,450.72 574.1,451.28 576.4,456.43 578.7,456.54 581,455.26 583.3,459.14 585.6,456.29 587.9,459.26 590.2,451.05 592.5,448.63 594.8,448.55 597.1,449.45 599.4,442.22 601.7,442.01 604,449.1 606.3,440.45 608.6,449.62 610.9,448.09 613.2,438.85 615.5,439.92 617.8,435.66 620.1,421.16 622.4,419.36 624.7,428.33 627,423.55 629.3,428.11 631.6,420.29 633.9,423.76 636.2,427.3 638.5,419.44 640.8,421.78 643.1,427.71 645.4,430.6 647.7,431.43 650,421.35 652.3,443.86 653.4,455.3 657.2,437.5 661.8,434.7 663.7,374.6 667.4,375.9 669.3,388 673,459 674.9,403.9" fill="none" stroke="#000" stroke-width="2.0" stroke-linejoin="round" />
<polyline points="408.8,420.23 410.2,420.69 411.6,421.51 413,421.17 414.4,421.53 415.8,421.95 417.2,421.69 418.6,424.76 420,428.15 421.4,428.84 422.8,428.1 424.2,428.64 425.6,428.59 427,429.84 428.4,429.92 429.8,429.25 431.2,430.81 432.6,431.03 434,430.84 435.4,431.03 436.8,430.63 438.2,430.68 439.6,431.64 441,431.23 442.4,431.66 443.8,431.97 445.2,431.92 446.6,432.74 448,432.9 449.4,433.65 450.8,433.39 452.2,433.75 453.6,433.74 455,434.15 456.4,434.06 457.8,433.99 459.2,435.19 460.6,435.38 462,435.35 463.4,435.35 464.8,434.99 466.2,435.06 467.6,435.33 469,435.21 470.4,436.38 471.8,436.05 473.2,436.87 474.6,436.41 476,437.4 477.4,437.43 478.8,436.44 480.2,436.92 481.6,438.09 483,437.66 484.4,438.56 485.8,437.94 487.2,437.65 488.6,438.57 490,438.92 491.4,438.35 492.8,438.23 494.2,438.72 495.6,439.74 497,439.59 498.4,438.84 499.8,439.16 501.2,439.1 502.6,439.18 504,440.35 505.4,439.62 506.8,440.3 508.2,440.28 509.6,440.06 511,440.96 512.4,440.26 513.8,441.12 515.2,440.52 516.6,441.09 518,440.94 519.4,441.16 520.8,442.28 522.2,442.18 523.6,441.62 525,442.58 526.4,441.77 527.8,442.19 529.2,443.08 530.6,443.03 532,442.52 533.4,444.02 534.8,443.18 536.2,443.49 537.6,444.46 539,444.09 540.4,444.3 541.8,444.23 543.2,444.51 544.6,445.44 546,445.14 547.4,445.78 548.8,445.6 550.2,445.85 551.6,446.7 553,446.18 554.4,446.44 555.8,446.99 557.2,446.18 558.6,446.28 560,447.47 561.4,447.49 562.8,446.83 564.2,446.89 565.6,447.8 567,448.23 568.4,447.33 569.8,448.53 571.2,448.57 572.6,448.33 574,448.21 575.4,447.91 576.8,447.96 578.2,449.4 579.6,448.48 581,449.2 582.4,448.64 583.8,449.5 585.2,449.25 586.6,448.89 588,448.79 589.4,449.62 590.8,448.78 592.2,449.07 593.6,449.6 595,450.08 596.4,449.81 597.8,449.41 599.2,450.37 600.6,449.44 602,449.24 603.4,449.67 604.8,449.98 606.2,449.51 607.6,449.74 609,450.07 610.4,450.43 611.8,449.88 613.2,450.27 614.6,451.08 616,451.27 617.4,450.95 618.8,451.14 620.2,451.14 621.6,450.66 623,450.65 624.4,450.77 625.8,452.17 627.2,452.02 628.6,452.52 630,451.35 631.4,452.35 632.8,452.28 634.2,452.77 635.6,452.29 637,453.31 638.4,452.08 639.8,452.81 641.2,453.14 642.6,453.44 644,453.28 645.4,453.3 646.8,453.49 648.2,453.73 649.6,453.01 651,453.54 652.4,453.91 653.8,453.99 655.2,453.59 656.6,454.35 658,454.69 659.4,454.52 660.8,454.83 662.2,454.73 663.6,455.25 665,455.55 666.4,455.13 667.8,456.24 669.2,457.07 670.6,457.24 672,457.35 673.4,457.2" fill="none" stroke="#c8283a" stroke-width="1.9" stroke-linejoin="round" />
<rect x="407.4" y="354.2" width="268.0" height="201.09999999999997" fill="none" stroke="#222" stroke-width="1.6"/>
<line x1="405.2" y1="555.57" x2="407.4" y2="555.57" stroke="#222" stroke-width="0.8" />
<line x1="675.4" y1="555.57" x2="677.6" y2="555.57" stroke="#222" stroke-width="0.8" />
<line x1="405.2" y1="551.66" x2="407.4" y2="551.66" stroke="#222" stroke-width="0.8" />
<line x1="675.4" y1="551.66" x2="677.6" y2="551.66" stroke="#222" stroke-width="0.8" />
<line x1="405.2" y1="548.35" x2="407.4" y2="548.35" stroke="#222" stroke-width="0.8" />
<line x1="675.4" y1="548.35" x2="677.6" y2="548.35" stroke="#222" stroke-width="0.8" />
<line x1="405.2" y1="545.49" x2="407.4" y2="545.49" stroke="#222" stroke-width="0.8" />
<line x1="675.4" y1="545.49" x2="677.6" y2="545.49" stroke="#222" stroke-width="0.8" />
<line x1="405.2" y1="542.96" x2="407.4" y2="542.96" stroke="#222" stroke-width="0.8" />
<line x1="675.4" y1="542.96" x2="677.6" y2="542.96" stroke="#222" stroke-width="0.8" />
<line x1="403.4" y1="540.7" x2="407.4" y2="540.7" stroke="#222" stroke-width="0.8" />
<line x1="675.4" y1="540.7" x2="679.4" y2="540.7" stroke="#222" stroke-width="0.8" />
<line x1="405.2" y1="525.83" x2="407.4" y2="525.83" stroke="#222" stroke-width="0.8" />
<line x1="675.4" y1="525.83" x2="677.6" y2="525.83" stroke="#222" stroke-width="0.8" />
<line x1="405.2" y1="517.13" x2="407.4" y2="517.13" stroke="#222" stroke-width="0.8" />
<line x1="675.4" y1="517.13" x2="677.6" y2="517.13" stroke="#222" stroke-width="0.8" />
<line x1="405.2" y1="510.96" x2="407.4" y2="510.96" stroke="#222" stroke-width="0.8" />
<line x1="675.4" y1="510.96" x2="677.6" y2="510.96" stroke="#222" stroke-width="0.8" />
<line x1="405.2" y1="506.17" x2="407.4" y2="506.17" stroke="#222" stroke-width="0.8" />
<line x1="675.4" y1="506.17" x2="677.6" y2="506.17" stroke="#222" stroke-width="0.8" />
<line x1="405.2" y1="502.26" x2="407.4" y2="502.26" stroke="#222" stroke-width="0.8" />
<line x1="675.4" y1="502.26" x2="677.6" y2="502.26" stroke="#222" stroke-width="0.8" />
<line x1="405.2" y1="498.95" x2="407.4" y2="498.95" stroke="#222" stroke-width="0.8" />
<line x1="675.4" y1="498.95" x2="677.6" y2="498.95" stroke="#222" stroke-width="0.8" />
<line x1="405.2" y1="496.09" x2="407.4" y2="496.09" stroke="#222" stroke-width="0.8" />
<line x1="675.4" y1="496.09" x2="677.6" y2="496.09" stroke="#222" stroke-width="0.8" />
<line x1="405.2" y1="493.56" x2="407.4" y2="493.56" stroke="#222" stroke-width="0.8" />
<line x1="675.4" y1="493.56" x2="677.6" y2="493.56" stroke="#222" stroke-width="0.8" />
<line x1="403.4" y1="491.3" x2="407.4" y2="491.3" stroke="#222" stroke-width="0.8" />
<line x1="675.4" y1="491.3" x2="679.4" y2="491.3" stroke="#222" stroke-width="0.8" />
<line x1="405.2" y1="476.43" x2="407.4" y2="476.43" stroke="#222" stroke-width="0.8" />
<line x1="675.4" y1="476.43" x2="677.6" y2="476.43" stroke="#222" stroke-width="0.8" />
<line x1="405.2" y1="467.73" x2="407.4" y2="467.73" stroke="#222" stroke-width="0.8" />
<line x1="675.4" y1="467.73" x2="677.6" y2="467.73" stroke="#222" stroke-width="0.8" />
<line x1="405.2" y1="461.56" x2="407.4" y2="461.56" stroke="#222" stroke-width="0.8" />
<line x1="675.4" y1="461.56" x2="677.6" y2="461.56" stroke="#222" stroke-width="0.8" />
<line x1="405.2" y1="456.77" x2="407.4" y2="456.77" stroke="#222" stroke-width="0.8" />
<line x1="675.4" y1="456.77" x2="677.6" y2="456.77" stroke="#222" stroke-width="0.8" />
<line x1="405.2" y1="452.86" x2="407.4" y2="452.86" stroke="#222" stroke-width="0.8" />
<line x1="675.4" y1="452.86" x2="677.6" y2="452.86" stroke="#222" stroke-width="0.8" />
<line x1="405.2" y1="449.55" x2="407.4" y2="449.55" stroke="#222" stroke-width="0.8" />
<line x1="675.4" y1="449.55" x2="677.6" y2="449.55" stroke="#222" stroke-width="0.8" />
<line x1="405.2" y1="446.69" x2="407.4" y2="446.69" stroke="#222" stroke-width="0.8" />
<line x1="675.4" y1="446.69" x2="677.6" y2="446.69" stroke="#222" stroke-width="0.8" />
<line x1="405.2" y1="444.16" x2="407.4" y2="444.16" stroke="#222" stroke-width="0.8" />
<line x1="675.4" y1="444.16" x2="677.6" y2="444.16" stroke="#222" stroke-width="0.8" />
<line x1="403.4" y1="441.9" x2="407.4" y2="441.9" stroke="#222" stroke-width="0.8" />
<line x1="675.4" y1="441.9" x2="679.4" y2="441.9" stroke="#222" stroke-width="0.8" />
<line x1="405.2" y1="427.03" x2="407.4" y2="427.03" stroke="#222" stroke-width="0.8" />
<line x1="675.4" y1="427.03" x2="677.6" y2="427.03" stroke="#222" stroke-width="0.8" />
<line x1="405.2" y1="418.33" x2="407.4" y2="418.33" stroke="#222" stroke-width="0.8" />
<line x1="675.4" y1="418.33" x2="677.6" y2="418.33" stroke="#222" stroke-width="0.8" />
<line x1="405.2" y1="412.16" x2="407.4" y2="412.16" stroke="#222" stroke-width="0.8" />
<line x1="675.4" y1="412.16" x2="677.6" y2="412.16" stroke="#222" stroke-width="0.8" />
<line x1="405.2" y1="407.37" x2="407.4" y2="407.37" stroke="#222" stroke-width="0.8" />
<line x1="675.4" y1="407.37" x2="677.6" y2="407.37" stroke="#222" stroke-width="0.8" />
<line x1="405.2" y1="403.46" x2="407.4" y2="403.46" stroke="#222" stroke-width="0.8" />
<line x1="675.4" y1="403.46" x2="677.6" y2="403.46" stroke="#222" stroke-width="0.8" />
<line x1="405.2" y1="400.15" x2="407.4" y2="400.15" stroke="#222" stroke-width="0.8" />
<line x1="675.4" y1="400.15" x2="677.6" y2="400.15" stroke="#222" stroke-width="0.8" />
<line x1="405.2" y1="397.29" x2="407.4" y2="397.29" stroke="#222" stroke-width="0.8" />
<line x1="675.4" y1="397.29" x2="677.6" y2="397.29" stroke="#222" stroke-width="0.8" />
<line x1="405.2" y1="394.76" x2="407.4" y2="394.76" stroke="#222" stroke-width="0.8" />
<line x1="675.4" y1="394.76" x2="677.6" y2="394.76" stroke="#222" stroke-width="0.8" />
<line x1="403.4" y1="392.5" x2="407.4" y2="392.5" stroke="#222" stroke-width="0.8" />
<line x1="675.4" y1="392.5" x2="679.4" y2="392.5" stroke="#222" stroke-width="0.8" />
<line x1="405.2" y1="377.63" x2="407.4" y2="377.63" stroke="#222" stroke-width="0.8" />
<line x1="675.4" y1="377.63" x2="677.6" y2="377.63" stroke="#222" stroke-width="0.8" />
<line x1="405.2" y1="368.93" x2="407.4" y2="368.93" stroke="#222" stroke-width="0.8" />
<line x1="675.4" y1="368.93" x2="677.6" y2="368.93" stroke="#222" stroke-width="0.8" />
<line x1="405.2" y1="362.76" x2="407.4" y2="362.76" stroke="#222" stroke-width="0.8" />
<line x1="675.4" y1="362.76" x2="677.6" y2="362.76" stroke="#222" stroke-width="0.8" />
<line x1="405.2" y1="357.97" x2="407.4" y2="357.97" stroke="#222" stroke-width="0.8" />
<line x1="675.4" y1="357.97" x2="677.6" y2="357.97" stroke="#222" stroke-width="0.8" />
<line x1="405.2" y1="354.06" x2="407.4" y2="354.06" stroke="#222" stroke-width="0.8" />
<line x1="675.4" y1="354.06" x2="677.6" y2="354.06" stroke="#222" stroke-width="0.8" />
<text x="399.9" y="544.6" font-size="10" text-anchor="end">10<tspan font-size="8.5" dy="-4.3">−2</tspan></text>
<text x="399.9" y="495.2" font-size="10" text-anchor="end">10<tspan font-size="8.5" dy="-4.3">−1</tspan></text>
<text x="399.9" y="445.8" font-size="10" text-anchor="end">10<tspan font-size="8.5" dy="-4.3">0</tspan></text>
<text x="399.9" y="396.4" font-size="10" text-anchor="end">10<tspan font-size="8.5" dy="-4.3">1</tspan></text>
<line x1="407.4" y1="555.3" x2="407.4" y2="560.3" stroke="#222" stroke-width="0.9" />
<line x1="420.54" y1="555.3" x2="420.54" y2="557.8" stroke="#222" stroke-width="0.9" />
<line x1="433.68" y1="555.3" x2="433.68" y2="557.8" stroke="#222" stroke-width="0.9" />
<line x1="446.82" y1="555.3" x2="446.82" y2="557.8" stroke="#222" stroke-width="0.9" />
<line x1="459.96" y1="555.3" x2="459.96" y2="557.8" stroke="#222" stroke-width="0.9" />
<line x1="473.1" y1="555.3" x2="473.1" y2="560.3" stroke="#222" stroke-width="0.9" />
<line x1="486.24" y1="555.3" x2="486.24" y2="557.8" stroke="#222" stroke-width="0.9" />
<line x1="499.38" y1="555.3" x2="499.38" y2="557.8" stroke="#222" stroke-width="0.9" />
<line x1="512.52" y1="555.3" x2="512.52" y2="557.8" stroke="#222" stroke-width="0.9" />
<line x1="525.66" y1="555.3" x2="525.66" y2="557.8" stroke="#222" stroke-width="0.9" />
<line x1="538.8" y1="555.3" x2="538.8" y2="560.3" stroke="#222" stroke-width="0.9" />
<line x1="551.94" y1="555.3" x2="551.94" y2="557.8" stroke="#222" stroke-width="0.9" />
<line x1="565.08" y1="555.3" x2="565.08" y2="557.8" stroke="#222" stroke-width="0.9" />
<line x1="578.22" y1="555.3" x2="578.22" y2="557.8" stroke="#222" stroke-width="0.9" />
<line x1="591.36" y1="555.3" x2="591.36" y2="557.8" stroke="#222" stroke-width="0.9" />
<line x1="604.5" y1="555.3" x2="604.5" y2="560.3" stroke="#222" stroke-width="0.9" />
<line x1="617.64" y1="555.3" x2="617.64" y2="557.8" stroke="#222" stroke-width="0.9" />
<line x1="630.78" y1="555.3" x2="630.78" y2="557.8" stroke="#222" stroke-width="0.9" />
<line x1="643.92" y1="555.3" x2="643.92" y2="557.8" stroke="#222" stroke-width="0.9" />
<line x1="657.06" y1="555.3" x2="657.06" y2="557.8" stroke="#222" stroke-width="0.9" />
<line x1="670.2" y1="555.3" x2="670.2" y2="560.3" stroke="#222" stroke-width="0.9" />
<text x="407.4" y="569.5" font-size="10" text-anchor="middle" fill="#000" >0.0</text>
<text x="473.1" y="569.5" font-size="10" text-anchor="middle" fill="#000" >0.5</text>
<text x="538.8" y="569.5" font-size="10" text-anchor="middle" fill="#000" >1.0</text>
<text x="604.5" y="569.5" font-size="10" text-anchor="middle" fill="#000" >1.5</text>
<text x="670.2" y="569.5" font-size="10" text-anchor="middle" fill="#000" >2.0</text>
<line x1="675.8" y1="350.2" x2="675.8" y2="354.2" stroke="#222" stroke-width="0.9" />
<line x1="662.64" y1="352" x2="662.64" y2="354.2" stroke="#222" stroke-width="0.9" />
<line x1="649.48" y1="352" x2="649.48" y2="354.2" stroke="#222" stroke-width="0.9" />
<line x1="636.32" y1="352" x2="636.32" y2="354.2" stroke="#222" stroke-width="0.9" />
<line x1="623.16" y1="352" x2="623.16" y2="354.2" stroke="#222" stroke-width="0.9" />
<line x1="610" y1="350.2" x2="610" y2="354.2" stroke="#222" stroke-width="0.9" />
<line x1="596.84" y1="352" x2="596.84" y2="354.2" stroke="#222" stroke-width="0.9" />
<line x1="583.68" y1="352" x2="583.68" y2="354.2" stroke="#222" stroke-width="0.9" />
<line x1="570.52" y1="352" x2="570.52" y2="354.2" stroke="#222" stroke-width="0.9" />
<line x1="557.36" y1="352" x2="557.36" y2="354.2" stroke="#222" stroke-width="0.9" />
<line x1="544.2" y1="350.2" x2="544.2" y2="354.2" stroke="#222" stroke-width="0.9" />
<line x1="531.04" y1="352" x2="531.04" y2="354.2" stroke="#222" stroke-width="0.9" />
<line x1="517.88" y1="352" x2="517.88" y2="354.2" stroke="#222" stroke-width="0.9" />
<line x1="504.72" y1="352" x2="504.72" y2="354.2" stroke="#222" stroke-width="0.9" />
<line x1="491.56" y1="352" x2="491.56" y2="354.2" stroke="#222" stroke-width="0.9" />
<line x1="478.4" y1="350.2" x2="478.4" y2="354.2" stroke="#222" stroke-width="0.9" />
<line x1="465.24" y1="352" x2="465.24" y2="354.2" stroke="#222" stroke-width="0.9" />
<line x1="452.08" y1="352" x2="452.08" y2="354.2" stroke="#222" stroke-width="0.9" />
<line x1="438.92" y1="352" x2="438.92" y2="354.2" stroke="#222" stroke-width="0.9" />
<line x1="425.76" y1="352" x2="425.76" y2="354.2" stroke="#222" stroke-width="0.9" />
<line x1="412.6" y1="350.2" x2="412.6" y2="354.2" stroke="#222" stroke-width="0.9" />
<text x="675.8" y="348.5" font-size="10" text-anchor="middle" fill="#000" >0.0</text>
<text x="610" y="348.5" font-size="10" text-anchor="middle" fill="#000" >0.5</text>
<text x="544.2" y="348.5" font-size="10" text-anchor="middle" fill="#000" >1.0</text>
<text x="478.4" y="348.5" font-size="10" text-anchor="middle" fill="#000" >1.5</text>
<text x="412.6" y="348.5" font-size="10" text-anchor="middle" fill="#000" >2.0</text>
<text x="542.1" y="585.3" font-size="12" text-anchor="middle" fill="#000" >Time (Gyr)</text>
<text x="541.35" y="333" font-size="12" text-anchor="middle" fill="#000" >Age (Ga)</text>
<text transform="translate(372.6,454.8) rotate(-90)" font-size="11.9" text-anchor="middle">Regolith growth rate (m/Gyr)</text>
<rect x="490.5" y="358.4" width="101.7" height="38" fill="#fff" stroke="#333" stroke-width="0.9"/>
<line x1="493.7" y1="366.8" x2="506.8" y2="366.8" stroke="#000" stroke-width="1.8" />
<line x1="493.7" y1="377.3" x2="506.8" y2="377.3" stroke="#2f78b0" stroke-width="1.8" />
<line x1="493.7" y1="387.5" x2="506.8" y2="387.5" stroke="#c8283a" stroke-width="1.8" />
<text x="512.3" y="370" font-size="9.5" text-anchor="start" fill="#000" >Observed craters</text>
<text x="512.3" y="380.5" font-size="9.5" text-anchor="start" fill="#000" >Secondary craters</text>
<text x="512.3" y="390.4" font-size="9.5" text-anchor="start" fill="#000" >Invisible craters</text>
<text x="421.5" y="400.8" font-size="8.1" text-anchor="start" fill="#000" >Philolaus</text>
<text x="494.4" y="422.5" font-size="8.3" text-anchor="start" fill="#000" >Sharp B</text>
<text x="533.9" y="422.5" font-size="8.3" text-anchor="start" fill="#000" >Harpalus</text>
<text x="571.9" y="422.5" font-size="8.3" text-anchor="start" fill="#000" >Copernicus</text>
<text x="619.2" y="387.2" font-size="8.3" text-anchor="start" fill="#000" >Xu Guangqi</text>
<text x="-0.5" y="31.6" font-size="16" text-anchor="start" fill="#000" >(a)</text>
<defs><clipPath id="mc"><rect x="56.4" y="24.6" width="203.7" height="201.8"/></clipPath>
<radialGradient id="k0"><stop offset="0" stop-color="#b88b33"/><stop offset="0.3" stop-color="#b88b33"/><stop offset="0.75" stop-color="#d4c771"/><stop offset="0.8" stop-color="#d4c771"/><stop offset="0.87" stop-color="#cde1a0"/><stop offset="0.94" stop-color="#87d2d2" stop-opacity="0.55"/><stop offset="1" stop-color="#87d2d2" stop-opacity="0"/></radialGradient>
<radialGradient id="k1"><stop offset="0" stop-color="#ae7627"/><stop offset="0.3" stop-color="#ae7627"/><stop offset="0.75" stop-color="#caaf55"/><stop offset="0.8" stop-color="#d4c771"/><stop offset="0.87" stop-color="#cde1a0"/><stop offset="0.94" stop-color="#87d2d2" stop-opacity="0.55"/><stop offset="1" stop-color="#87d2d2" stop-opacity="0"/></radialGradient>
<radialGradient id="k2"><stop offset="0" stop-color="#a05c1b"/><stop offset="0.3" stop-color="#a05c1b"/><stop offset="0.75" stop-color="#c09b41"/><stop offset="0.8" stop-color="#d4c771"/><stop offset="0.87" stop-color="#cde1a0"/><stop offset="0.94" stop-color="#87d2d2" stop-opacity="0.55"/><stop offset="1" stop-color="#87d2d2" stop-opacity="0"/></radialGradient>
<radialGradient id="k3"><stop offset="0" stop-color="#944813"/><stop offset="0.3" stop-color="#944813"/><stop offset="0.75" stop-color="#b88b33"/><stop offset="0.8" stop-color="#d4c771"/><stop offset="0.87" stop-color="#cde1a0"/><stop offset="0.94" stop-color="#87d2d2" stop-opacity="0.55"/><stop offset="1" stop-color="#87d2d2" stop-opacity="0"/></radialGradient>
<radialGradient id="k4"><stop offset="0" stop-color="#88360d"/><stop offset="0.3" stop-color="#88360d"/><stop offset="0.75" stop-color="#b07a29"/><stop offset="0.8" stop-color="#d4c771"/><stop offset="0.87" stop-color="#cde1a0"/><stop offset="0.94" stop-color="#87d2d2" stop-opacity="0.55"/><stop offset="1" stop-color="#87d2d2" stop-opacity="0"/></radialGradient>
<radialGradient id="k5"><stop offset="0" stop-color="#7a1e06"/><stop offset="0.45" stop-color="#7a1e06"/><stop offset="0.75" stop-color="#984e16"/><stop offset="0.8" stop-color="#d4c771"/><stop offset="0.87" stop-color="#cde1a0"/><stop offset="0.94" stop-color="#87d2d2" stop-opacity="0.55"/><stop offset="1" stop-color="#87d2d2" stop-opacity="0"/></radialGradient>
<radialGradient id="hx"><stop offset="0" stop-color="#fff" stop-opacity="0.24"/><stop offset="0.42" stop-color="#fff" stop-opacity="0.2"/><stop offset="0.5" stop-color="#fff" stop-opacity="0.13"/><stop offset="0.62" stop-color="#fff" stop-opacity="0.07"/><stop offset="0.78" stop-color="#fff" stop-opacity="0.03"/><stop offset="1" stop-color="#fff" stop-opacity="0"/></radialGradient>
<radialGradient id="hb"><stop offset="0" stop-color="#fff" stop-opacity="0.17"/><stop offset="0.5" stop-color="#fff" stop-opacity="0.13"/><stop offset="0.75" stop-color="#fff" stop-opacity="0.06"/><stop offset="1" stop-color="#fff" stop-opacity="0"/></radialGradient>
<filter id="tf" filterUnits="userSpaceOnUse" x="56.4" y="24.6" width="203.7" height="201.8" color-interpolation-filters="sRGB"><feTurbulence type="fractalNoise" baseFrequency="0.42" numOctaves="2" seed="4" result="t"/><feColorMatrix in="t" type="matrix" values="1 0 0 0 0 1 0 0 0 0 1 0 0 0 0 0 0 0 0 1" result="n0"/><feGaussianBlur in="n0" stdDeviation="0.35" result="n"/><feComponentTransfer in="n" result="c"><feFuncR type="table" tableValues="0.000 0.000 0.000 0.000 0.000 0.000 0.000 0.004 0.010 0.018 0.030 0.044 0.060 0.078 0.095 0.108 0.116 0.120 0.120 0.120 0.120"/><feFuncG type="table" tableValues="0.000 0.000 0.000 0.000 0.000 0.000 0.000 0.004 0.010 0.018 0.030 0.044 0.060 0.078 0.095 0.108 0.116 0.120 0.120 0.120 0.120"/><feFuncB type="table" tableValues="0.000 0.000 0.000 0.000 0.000 0.000 0.000 0.004 0.010 0.018 0.030 0.044 0.060 0.078 0.095 0.108 0.116 0.120 0.120 0.120 0.120"/></feComponentTransfer><feGaussianBlur in="SourceGraphic" stdDeviation="0.5" result="sg"/><feComposite in="c" in2="sg" operator="arithmetic" k1="0" k2="1" k3="1" k4="0" result="s"/><feComponentTransfer in="s"><feFuncR type="table" tableValues="0.118 0.137 0.157 0.188 0.216 0.275 0.333 0.431 0.529 0.620 0.706 0.753 0.804 0.827 0.843 0.843 0.843 0.831 0.816 0.804 0.792 0.780 0.769 0.757 0.745 0.729 0.718 0.702 0.690 0.678 0.667 0.647 0.627 0.608 0.588 0.569 0.549 0.529 0.510 0.494 0.478"/><feFuncG type="table" tableValues="0.345 0.400 0.451 0.502 0.549 0.620 0.686 0.753 0.824 0.859 0.894 0.886 0.882 0.871 0.855 0.827 0.804 0.776 0.745 0.714 0.686 0.663 0.635 0.612 0.588 0.561 0.533 0.506 0.482 0.455 0.431 0.396 0.361 0.329 0.294 0.263 0.235 0.204 0.176 0.149 0.118"/><feFuncB type="table" tableValues="0.627 0.667 0.706 0.737 0.765 0.784 0.804 0.816 0.824 0.804 0.784 0.706 0.627 0.596 0.561 0.518 0.471 0.435 0.400 0.369 0.333 0.310 0.282 0.259 0.235 0.216 0.192 0.173 0.161 0.149 0.137 0.122 0.106 0.094 0.078 0.067 0.059 0.047 0.039 0.031 0.024"/><feFuncA type="identity"/></feComponentTransfer></filter>
</defs>
<g clip-path="url(#mc)"><g filter="url(#tf)">
<rect x="56.4" y="24.6" width="203.7" height="201.8" fill="rgb(28,28,28)"/>
<circle cx="118.6" cy="104.3" r="42" fill="url(#hx)"/>
<circle cx="182.3" cy="81.4" r="19" fill="url(#hb)"/>
<circle cx="100.4" cy="187.8" r="20" fill="url(#hb)"/>
<circle cx="161.5" cy="73.6" r="14" fill="url(#hb)"/>
<circle cx="97.6" cy="82.3" r="12" fill="url(#hb)"/>
<circle cx="91.8" cy="70" r="10" fill="url(#hb)"/>
<circle cx="74" cy="169.6" r="10" fill="url(#hb)"/>
<circle cx="72.5" cy="119" r="8" fill="url(#hb)"/>
<circle cx="212.3" cy="29.4" r="8" fill="url(#hb)"/>
<circle cx="255.9" cy="149.6" r="8" fill="url(#hb)"/>
<circle cx="225" cy="210.1" r="8" fill="url(#hb)"/>
<circle cx="255.5" cy="193.8" r="8" fill="url(#hb)"/>
<path d="M104.1 134.0h1.4v1.4h-1.4zM242.9 119.7h1.7v1.7h-1.7zM68.8 26.3h1.4v1.4h-1.4zM108.5 71.1h1.7v1.7h-1.7zM151.7 193.2h1.4v1.4h-1.4zM136.7 198.2h1.1v1.1h-1.1zM185.4 199.6h1.7v1.7h-1.7zM135.2 26.7h1.1v1.1h-1.1zM88.0 217.8h1.1v1.1h-1.1zM117.1 29.9h1.4v1.4h-1.4zM152.2 169.4h1.4v1.4h-1.4zM201.6 210.4h1.4v1.4h-1.4zM204.4 140.6h1.1v1.1h-1.1zM235.3 43.4h1.1v1.1h-1.1zM156.7 75.9h1.7v1.7h-1.7zM144.7 150.7h1.4v1.4h-1.4zM141.6 192.6h1.7v1.7h-1.7zM127.2 142.3h1.7v1.7h-1.7zM103.0 91.9h1.1v1.1h-1.1zM230.7 224.6h1.7v1.7h-1.7zM197.8 165.3h1.4v1.4h-1.4zM252.9 207.1h1.7v1.7h-1.7zM76.7 156.5h1.7v1.7h-1.7zM225.6 139.9h1.4v1.4h-1.4zM80.9 121.3h1.7v1.7h-1.7zM258.0 41.6h1.1v1.1h-1.1zM139.4 54.2h1.4v1.4h-1.4zM142.8 107.8h1.1v1.1h-1.1zM64.4 148.2h1.1v1.1h-1.1zM132.7 142.5h1.7v1.7h-1.7zM235.7 222.5h1.7v1.7h-1.7zM103.7 30.9h1.1v1.1h-1.1zM71.2 145.2h1.1v1.1h-1.1zM249.6 220.6h1.4v1.4h-1.4zM180.4 55.3h1.1v1.1h-1.1zM256.0 92.5h1.4v1.4h-1.4zM251.6 205.4h1.4v1.4h-1.4zM132.5 200.0h1.4v1.4h-1.4zM187.2 144.4h1.7v1.7h-1.7zM76.4 220.9h1.7v1.7h-1.7zM110.9 152.2h1.7v1.7h-1.7zM104.0 84.7h1.4v1.4h-1.4zM162.1 134.8h1.1v1.1h-1.1zM216.8 223.9h1.4v1.4h-1.4zM59.5 148.5h1.7v1.7h-1.7zM82.7 152.1h1.4v1.4h-1.4zM150.8 161.4h1.4v1.4h-1.4zM180.0 80.2h1.4v1.4h-1.4zM59.9 35.9h1.7v1.7h-1.7zM59.8 98.5h1.7v1.7h-1.7zM148.8 143.8h1.4v1.4h-1.4zM91.7 61.2h1.4v1.4h-1.4zM228.1 77.2h1.4v1.4h-1.4zM76.9 188.5h1.7v1.7h-1.7zM195.4 50.3h1.7v1.7h-1.7zM101.0 186.6h1.1v1.1h-1.1zM122.5 161.1h1.7v1.7h-1.7zM198.3 44.3h1.4v1.4h-1.4zM249.7 160.5h1.1v1.1h-1.1zM145.1 197.1h1.1v1.1h-1.1zM71.8 174.1h1.1v1.1h-1.1zM236.5 115.1h1.1v1.1h-1.1zM216.5 30.5h1.1v1.1h-1.1zM119.9 193.2h1.7v1.7h-1.7zM93.0 80.1h1.7v1.7h-1.7zM72.9 149.2h1.7v1.7h-1.7zM81.9 82.8h1.4v1.4h-1.4zM150.5 152.2h1.4v1.4h-1.4zM141.3 106.7h1.4v1.4h-1.4zM87.3 24.5h1.7v1.7h-1.7zM257.4 111.7h1.7v1.7h-1.7zM100.9 174.8h1.7v1.7h-1.7zM208.5 219.0h1.7v1.7h-1.7zM125.2 69.7h1.1v1.1h-1.1zM231.0 220.5h1.1v1.1h-1.1zM221.2 32.7h1.7v1.7h-1.7zM160.3 63.8h1.4v1.4h-1.4zM173.5 26.3h1.7v1.7h-1.7zM80.1 125.6h1.1v1.1h-1.1zM191.1 130.1h1.4v1.4h-1.4zM66.3 208.8h1.1v1.1h-1.1zM125.3 74.8h1.7v1.7h-1.7zM153.1 182.3h1.4v1.4h-1.4zM100.6 48.4h1.1v1.1h-1.1zM90.5 184.2h1.1v1.1h-1.1zM224.0 25.1h1.7v1.7h-1.7zM172.3 104.8h1.4v1.4h-1.4zM106.2 148.9h1.7v1.7h-1.7zM142.0 119.5h1.1v1.1h-1.1zM230.8 180.8h1.1v1.1h-1.1zM80.9 37.5h1.1v1.1h-1.1zM230.3 41.1h1.7v1.7h-1.7zM155.7 55.4h1.1v1.1h-1.1zM127.3 154.8h1.7v1.7h-1.7zM117.7 77.3h1.4v1.4h-1.4zM143.2 49.5h1.1v1.1h-1.1zM202.0 100.7h1.1v1.1h-1.1zM171.4 32.3h1.4v1.4h-1.4zM179.1 182.3h1.4v1.4h-1.4zM185.7 32.4h1.4v1.4h-1.4zM66.3 150.8h1.7v1.7h-1.7zM119.9 216.3h1.4v1.4h-1.4zM149.7 73.3h1.7v1.7h-1.7zM110.7 143.2h1.4v1.4h-1.4zM101.3 50.0h1.1v1.1h-1.1zM247.1 99.5h1.7v1.7h-1.7zM217.3 76.8h1.4v1.4h-1.4zM196.8 214.0h1.7v1.7h-1.7zM191.0 203.6h1.4v1.4h-1.4zM192.0 172.4h1.7v1.7h-1.7zM164.3 188.2h1.7v1.7h-1.7zM56.4 52.7h1.4v1.4h-1.4zM64.5 42.2h1.1v1.1h-1.1zM190.3 99.8h1.1v1.1h-1.1zM125.3 196.4h1.1v1.1h-1.1zM228.2 160.2h1.7v1.7h-1.7zM250.4 141.0h1.1v1.1h-1.1zM62.8 179.2h1.7v1.7h-1.7zM163.7 71.9h1.7v1.7h-1.7zM208.7 213.1h1.1v1.1h-1.1zM168.0 199.9h1.1v1.1h-1.1zM224.9 72.7h1.1v1.1h-1.1zM187.6 115.7h1.7v1.7h-1.7zM209.7 103.4h1.4v1.4h-1.4zM178.1 214.0h1.7v1.7h-1.7zM141.0 40.5h1.7v1.7h-1.7zM103.6 212.1h1.7v1.7h-1.7zM253.4 107.8h1.7v1.7h-1.7zM210.2 160.3h1.7v1.7h-1.7zM195.7 55.3h1.4v1.4h-1.4zM239.1 53.9h1.1v1.1h-1.1zM157.3 121.7h1.7v1.7h-1.7zM161.3 113.5h1.7v1.7h-1.7zM231.1 51.2h1.1v1.1h-1.1zM85.4 128.2h1.1v1.1h-1.1zM229.7 132.7h1.4v1.4h-1.4zM192.8 197.1h1.7v1.7h-1.7zM230.1 142.2h1.4v1.4h-1.4zM237.5 85.9h1.4v1.4h-1.4zM153.6 101.2h1.1v1.1h-1.1zM172.1 72.0h1.4v1.4h-1.4zM213.9 52.7h1.7v1.7h-1.7zM153.6 145.1h1.4v1.4h-1.4zM174.2 206.5h1.7v1.7h-1.7zM169.4 121.2h1.7v1.7h-1.7zM70.2 215.8h1.7v1.7h-1.7zM235.9 32.9h1.1v1.1h-1.1zM237.8 155.1h1.7v1.7h-1.7zM69.6 67.7h1.4v1.4h-1.4zM105.0 62.1h1.4v1.4h-1.4zM83.5 149.7h1.7v1.7h-1.7zM231.2 206.1h1.4v1.4h-1.4zM90.1 32.7h1.1v1.1h-1.1zM142.0 171.4h1.1v1.1h-1.1zM79.5 77.2h1.4v1.4h-1.4zM62.8 115.3h1.7v1.7h-1.7zM193.7 25.0h1.4v1.4h-1.4zM123.3 100.6h1.1v1.1h-1.1zM98.4 142.3h1.4v1.4h-1.4zM135.4 134.0h1.1v1.1h-1.1zM236.2 39.1h1.4v1.4h-1.4zM78.4 203.5h1.4v1.4h-1.4zM75.2 214.5h1.4v1.4h-1.4zM194.3 98.3h1.4v1.4h-1.4zM115.9 160.7h1.7v1.7h-1.7zM248.7 189.4h1.1v1.1h-1.1zM209.8 218.6h1.7v1.7h-1.7zM171.3 130.2h1.7v1.7h-1.7zM156.5 95.0h1.7v1.7h-1.7zM115.7 171.2h1.7v1.7h-1.7zM92.7 154.5h1.7v1.7h-1.7zM86.0 98.8h1.7v1.7h-1.7zM148.4 45.5h1.7v1.7h-1.7zM84.3 90.8h1.7v1.7h-1.7zM188.4 108.8h1.4v1.4h-1.4zM187.9 116.4h1.4v1.4h-1.4zM215.5 166.7h1.1v1.1h-1.1zM201.9 176.6h1.7v1.7h-1.7zM173.3 103.1h1.1v1.1h-1.1zM109.8 101.3h1.1v1.1h-1.1zM64.0 126.0h1.1v1.1h-1.1zM197.8 128.0h1.4v1.4h-1.4zM248.9 114.5h1.1v1.1h-1.1zM127.6 195.3h1.1v1.1h-1.1zM86.4 143.3h1.7v1.7h-1.7zM78.5 181.6h1.7v1.7h-1.7zM78.3 165.2h1.7v1.7h-1.7zM140.7 174.3h1.7v1.7h-1.7zM81.7 146.9h1.4v1.4h-1.4zM218.8 134.1h1.1v1.1h-1.1zM171.7 64.6h1.4v1.4h-1.4zM131.1 83.0h1.4v1.4h-1.4zM237.8 216.1h1.4v1.4h-1.4zM120.1 207.4h1.4v1.4h-1.4zM185.1 221.7h1.7v1.7h-1.7zM200.1 205.2h1.7v1.7h-1.7zM154.5 145.6h1.7v1.7h-1.7zM185.2 45.4h1.7v1.7h-1.7zM103.3 58.7h1.7v1.7h-1.7zM149.7 62.8h1.7v1.7h-1.7zM98.8 188.4h1.7v1.7h-1.7zM249.2 46.2h1.4v1.4h-1.4zM251.7 204.5h1.1v1.1h-1.1zM151.0 41.6h1.1v1.1h-1.1zM60.6 149.0h1.7v1.7h-1.7zM71.3 132.9h1.4v1.4h-1.4zM121.5 200.1h1.7v1.7h-1.7zM197.3 39.9h1.7v1.7h-1.7zM214.1 30.5h1.1v1.1h-1.1zM206.8 93.3h1.1v1.1h-1.1zM246.1 198.3h1.4v1.4h-1.4zM198.5 68.4h1.4v1.4h-1.4zM77.7 32.3h1.1v1.1h-1.1zM228.4 166.7h1.4v1.4h-1.4zM157.2 165.4h1.7v1.7h-1.7zM229.8 65.9h1.4v1.4h-1.4zM117.8 117.8h1.7v1.7h-1.7zM137.6 60.2h1.1v1.1h-1.1zM202.7 98.0h1.4v1.4h-1.4zM147.1 96.9h1.4v1.4h-1.4zM101.2 24.1h1.1v1.1h-1.1zM108.4 98.6h1.4v1.4h-1.4zM164.7 55.9h1.1v1.1h-1.1zM90.4 105.5h1.1v1.1h-1.1zM185.7 51.8h1.7v1.7h-1.7zM89.8 123.0h1.1v1.1h-1.1zM227.7 105.4h1.4v1.4h-1.4zM138.9 166.3h1.1v1.1h-1.1zM104.4 31.5h1.4v1.4h-1.4zM60.9 219.4h1.1v1.1h-1.1zM104.8 102.5h1.1v1.1h-1.1zM89.1 149.8h1.4v1.4h-1.4zM242.2 144.1h1.7v1.7h-1.7zM114.9 222.6h1.4v1.4h-1.4zM217.0 218.6h1.4v1.4h-1.4zM106.6 77.5h1.4v1.4h-1.4zM184.2 93.5h1.1v1.1h-1.1zM67.0 111.9h1.1v1.1h-1.1zM176.6 24.3h1.1v1.1h-1.1zM194.8 27.5h1.7v1.7h-1.7zM62.9 34.5h1.7v1.7h-1.7zM159.7 90.8h1.4v1.4h-1.4zM125.0 120.7h1.4v1.4h-1.4zM247.8 30.5h1.4v1.4h-1.4zM209.2 151.7h1.4v1.4h-1.4zM73.4 83.1h1.4v1.4h-1.4zM78.9 102.7h1.4v1.4h-1.4zM165.2 181.4h1.4v1.4h-1.4zM91.1 173.6h1.7v1.7h-1.7zM134.4 213.8h1.4v1.4h-1.4zM244.4 97.2h1.4v1.4h-1.4zM145.2 113.7h1.7v1.7h-1.7zM153.8 78.2h1.1v1.1h-1.1zM159.2 176.3h1.7v1.7h-1.7zM198.1 216.1h1.1v1.1h-1.1zM86.9 167.7h1.1v1.1h-1.1zM223.8 42.3h1.7v1.7h-1.7zM194.0 43.3h1.1v1.1h-1.1zM178.4 186.1h1.1v1.1h-1.1zM235.2 200.5h1.4v1.4h-1.4zM150.9 199.8h1.7v1.7h-1.7zM123.7 98.7h1.1v1.1h-1.1zM95.3 183.2h1.1v1.1h-1.1zM124.7 86.7h1.4v1.4h-1.4zM72.0 155.2h1.1v1.1h-1.1zM196.3 221.9h1.7v1.7h-1.7zM84.7 223.4h1.1v1.1h-1.1zM102.5 219.8h1.1v1.1h-1.1zM229.5 128.2h1.7v1.7h-1.7zM215.3 146.2h1.7v1.7h-1.7zM215.5 118.4h1.7v1.7h-1.7zM71.6 191.0h1.1v1.1h-1.1zM177.8 197.8h1.1v1.1h-1.1zM96.2 204.8h1.1v1.1h-1.1zM77.7 104.5h1.7v1.7h-1.7zM181.4 153.8h1.7v1.7h-1.7zM233.8 93.8h1.7v1.7h-1.7zM190.7 181.3h1.4v1.4h-1.4zM226.4 144.1h1.4v1.4h-1.4zM97.6 132.9h1.4v1.4h-1.4zM116.7 153.9h1.4v1.4h-1.4zM126.3 121.9h1.1v1.1h-1.1zM244.5 162.8h1.4v1.4h-1.4zM142.0 155.1h1.7v1.7h-1.7zM161.6 74.3h1.1v1.1h-1.1zM124.0 111.0h1.1v1.1h-1.1zM106.8 89.2h1.7v1.7h-1.7zM246.0 170.9h1.7v1.7h-1.7zM180.7 212.5h1.7v1.7h-1.7zM229.9 98.2h1.1v1.1h-1.1zM240.3 216.2h1.4v1.4h-1.4zM238.3 223.0h1.4v1.4h-1.4zM259.5 210.2h1.4v1.4h-1.4zM251.4 27.3h1.1v1.1h-1.1zM61.2 54.2h1.7v1.7h-1.7zM161.7 153.2h1.1v1.1h-1.1zM95.3 65.6h1.4v1.4h-1.4zM143.9 93.5h1.7v1.7h-1.7zM95.7 182.2h1.1v1.1h-1.1zM76.6 84.3h1.4v1.4h-1.4zM146.3 65.3h1.4v1.4h-1.4zM211.5 165.6h1.4v1.4h-1.4zM255.9 201.3h1.4v1.4h-1.4zM248.4 111.1h1.4v1.4h-1.4zM152.4 226.1h1.1v1.1h-1.1zM129.0 196.5h1.4v1.4h-1.4zM61.4 99.3h1.4v1.4h-1.4zM220.6 83.9h1.1v1.1h-1.1zM245.8 129.0h1.1v1.1h-1.1zM82.3 131.3h1.7v1.7h-1.7zM59.7 216.3h1.1v1.1h-1.1zM97.1 179.8h1.4v1.4h-1.4zM128.0 219.4h1.4v1.4h-1.4zM255.8 30.7h1.1v1.1h-1.1zM104.3 79.7h1.4v1.4h-1.4zM226.4 146.0h1.1v1.1h-1.1zM147.5 76.7h1.7v1.7h-1.7zM219.6 108.4h1.4v1.4h-1.4zM124.9 29.6h1.1v1.1h-1.1zM183.8 160.5h1.7v1.7h-1.7zM106.0 51.1h1.4v1.4h-1.4zM159.6 192.1h1.7v1.7h-1.7zM82.8 27.0h1.1v1.1h-1.1zM58.9 154.0h1.4v1.4h-1.4zM151.1 158.6h1.7v1.7h-1.7zM160.9 98.8h1.7v1.7h-1.7zM90.4 60.7h1.7v1.7h-1.7zM84.0 192.4h1.1v1.1h-1.1zM138.9 95.0h1.4v1.4h-1.4zM112.4 75.4h1.4v1.4h-1.4zM251.8 55.1h1.4v1.4h-1.4zM84.0 31.3h1.4v1.4h-1.4zM229.6 191.4h1.7v1.7h-1.7zM180.8 29.8h1.7v1.7h-1.7zM177.8 47.1h1.1v1.1h-1.1zM112.7 167.5h1.4v1.4h-1.4zM76.4 159.2h1.4v1.4h-1.4zM62.3 122.4h1.7v1.7h-1.7zM147.1 86.7h1.4v1.4h-1.4zM92.5 101.3h1.4v1.4h-1.4zM120.1 78.5h1.1v1.1h-1.1zM248.6 88.0h1.4v1.4h-1.4zM169.0 30.8h1.4v1.4h-1.4zM106.6 222.4h1.1v1.1h-1.1zM156.8 217.6h1.7v1.7h-1.7zM71.7 130.3h1.7v1.7h-1.7zM184.8 48.7h1.1v1.1h-1.1zM248.3 221.2h1.7v1.7h-1.7zM69.6 77.9h1.4v1.4h-1.4zM149.9 82.3h1.7v1.7h-1.7zM65.0 71.4h1.1v1.1h-1.1zM84.9 207.2h1.1v1.1h-1.1zM196.6 118.4h1.4v1.4h-1.4zM187.8 52.4h1.1v1.1h-1.1zM92.3 150.7h1.4v1.4h-1.4zM94.2 190.4h1.1v1.1h-1.1zM65.4 218.4h1.7v1.7h-1.7zM99.3 181.5h1.4v1.4h-1.4zM135.2 223.9h1.4v1.4h-1.4zM76.8 46.9h1.4v1.4h-1.4zM81.4 95.1h1.7v1.7h-1.7zM71.2 62.5h1.4v1.4h-1.4zM259.5 222.3h1.1v1.1h-1.1zM68.6 134.3h1.4v1.4h-1.4zM76.6 195.3h1.4v1.4h-1.4zM59.8 93.6h1.7v1.7h-1.7zM230.2 113.3h1.4v1.4h-1.4zM150.4 132.7h1.4v1.4h-1.4zM85.9 116.1h1.4v1.4h-1.4zM96.4 144.1h1.7v1.7h-1.7zM229.1 60.0h1.1v1.1h-1.1zM120.3 193.9h1.1v1.1h-1.1zM66.3 222.0h1.4v1.4h-1.4zM181.2 59.7h1.7v1.7h-1.7zM58.3 200.0h1.4v1.4h-1.4zM258.4 162.6h1.7v1.7h-1.7zM198.1 79.4h1.4v1.4h-1.4zM166.0 113.1h1.1v1.1h-1.1zM176.3 67.9h1.4v1.4h-1.4zM159.1 99.3h1.4v1.4h-1.4zM176.4 166.1h1.7v1.7h-1.7zM247.0 198.5h1.4v1.4h-1.4zM114.1 221.7h1.4v1.4h-1.4zM92.7 145.7h1.1v1.1h-1.1zM205.3 92.8h1.7v1.7h-1.7zM106.3 111.8h1.4v1.4h-1.4zM148.1 120.5h1.7v1.7h-1.7zM216.8 59.3h1.7v1.7h-1.7zM163.6 113.1h1.7v1.7h-1.7zM66.0 108.3h1.7v1.7h-1.7zM228.9 181.3h1.1v1.1h-1.1zM103.8 101.0h1.1v1.1h-1.1zM256.3 97.9h1.1v1.1h-1.1zM66.7 123.8h1.1v1.1h-1.1zM143.6 199.5h1.7v1.7h-1.7zM170.1 26.0h1.4v1.4h-1.4zM158.8 104.5h1.4v1.4h-1.4zM241.2 162.6h1.1v1.1h-1.1zM175.0 53.2h1.1v1.1h-1.1zM55.4 36.6h1.1v1.1h-1.1zM84.0 40.1h1.4v1.4h-1.4zM144.5 63.5h1.1v1.1h-1.1zM165.7 210.4h1.7v1.7h-1.7zM146.4 97.4h1.7v1.7h-1.7zM226.9 208.8h1.4v1.4h-1.4zM124.8 142.1h1.7v1.7h-1.7zM235.5 100.3h1.4v1.4h-1.4zM83.8 85.8h1.7v1.7h-1.7zM94.3 190.6h1.7v1.7h-1.7zM236.1 111.0h1.4v1.4h-1.4zM133.8 123.0h1.1v1.1h-1.1zM152.2 52.0h1.1v1.1h-1.1zM160.1 111.3h1.7v1.7h-1.7zM249.8 84.0h1.4v1.4h-1.4zM75.3 222.2h1.7v1.7h-1.7zM235.1 36.7h1.7v1.7h-1.7zM258.4 37.0h1.1v1.1h-1.1zM121.8 208.7h1.7v1.7h-1.7zM238.5 191.2h1.4v1.4h-1.4zM187.3 202.4h1.1v1.1h-1.1zM236.4 64.6h1.4v1.4h-1.4zM251.5 34.1h1.7v1.7h-1.7zM60.8 213.2h1.7v1.7h-1.7zM104.4 191.7h1.1v1.1h-1.1zM102.9 118.7h1.7v1.7h-1.7zM136.5 93.3h1.4v1.4h-1.4zM190.8 130.8h1.1v1.1h-1.1zM172.7 93.1h1.7v1.7h-1.7zM82.6 131.4h1.7v1.7h-1.7zM161.4 87.5h1.7v1.7h-1.7zM230.9 173.3h1.1v1.1h-1.1zM146.9 169.9h1.4v1.4h-1.4zM184.3 123.7h1.1v1.1h-1.1zM93.0 44.6h1.4v1.4h-1.4zM79.9 208.9h1.4v1.4h-1.4zM227.8 87.6h1.1v1.1h-1.1zM122.3 73.7h1.7v1.7h-1.7zM225.9 35.2h1.4v1.4h-1.4zM130.5 68.9h1.4v1.4h-1.4zM106.7 77.0h1.7v1.7h-1.7zM253.1 172.1h1.1v1.1h-1.1zM100.5 113.3h1.7v1.7h-1.7zM89.9 121.5h1.1v1.1h-1.1zM99.5 159.6h1.7v1.7h-1.7zM103.0 162.3h1.7v1.7h-1.7zM136.1 133.0h1.7v1.7h-1.7zM91.7 84.8h1.4v1.4h-1.4zM66.9 183.1h1.4v1.4h-1.4zM155.7 141.0h1.4v1.4h-1.4zM161.8 108.7h1.4v1.4h-1.4zM100.8 189.4h1.4v1.4h-1.4zM126.2 225.5h1.4v1.4h-1.4zM210.6 46.9h1.4v1.4h-1.4zM124.8 172.1h1.7v1.7h-1.7zM121.2 94.4h1.1v1.1h-1.1zM229.6 120.5h1.7v1.7h-1.7zM86.5 210.6h1.4v1.4h-1.4zM156.3 141.8h1.7v1.7h-1.7zM97.0 42.6h1.7v1.7h-1.7zM176.8 142.1h1.7v1.7h-1.7zM236.5 133.4h1.4v1.4h-1.4zM226.5 175.3h1.4v1.4h-1.4zM244.5 109.4h1.7v1.7h-1.7zM205.9 94.7h1.4v1.4h-1.4zM131.1 60.4h1.4v1.4h-1.4zM198.2 137.7h1.4v1.4h-1.4zM201.4 89.3h1.1v1.1h-1.1zM120.8 170.6h1.1v1.1h-1.1zM166.2 118.0h1.4v1.4h-1.4zM168.6 97.8h1.7v1.7h-1.7zM66.6 121.4h1.1v1.1h-1.1zM89.3 158.6h1.1v1.1h-1.1zM76.0 132.6h1.4v1.4h-1.4zM233.2 128.1h1.4v1.4h-1.4zM111.5 120.8h1.7v1.7h-1.7zM119.7 214.5h1.1v1.1h-1.1zM98.7 45.9h1.4v1.4h-1.4zM144.2 76.8h1.7v1.7h-1.7zM93.5 139.5h1.7v1.7h-1.7zM249.3 158.9h1.1v1.1h-1.1zM257.1 184.0h1.7v1.7h-1.7zM125.7 45.3h1.7v1.7h-1.7zM83.1 40.5h1.4v1.4h-1.4zM123.8 46.9h1.1v1.1h-1.1zM89.2 158.9h1.4v1.4h-1.4zM259.1 50.6h1.4v1.4h-1.4zM207.9 125.8h1.7v1.7h-1.7zM172.9 221.9h1.4v1.4h-1.4zM108.1 134.0h1.7v1.7h-1.7zM239.8 54.8h1.1v1.1h-1.1zM90.2 153.5h1.1v1.1h-1.1zM217.3 50.2h1.7v1.7h-1.7zM250.5 195.5h1.7v1.7h-1.7zM187.3 75.7h1.7v1.7h-1.7zM169.3 174.8h1.4v1.4h-1.4zM96.9 55.7h1.7v1.7h-1.7zM70.5 110.3h1.4v1.4h-1.4zM86.0 133.9h1.7v1.7h-1.7zM222.2 171.8h1.4v1.4h-1.4zM83.4 150.3h1.7v1.7h-1.7zM83.7 25.0h1.1v1.1h-1.1zM184.2 128.8h1.7v1.7h-1.7zM148.7 225.2h1.7v1.7h-1.7zM146.0 59.3h1.1v1.1h-1.1zM69.7 162.0h1.4v1.4h-1.4zM90.4 30.2h1.7v1.7h-1.7zM204.1 192.8h1.4v1.4h-1.4zM76.2 186.3h1.4v1.4h-1.4zM57.8 132.2h1.7v1.7h-1.7zM203.0 150.8h1.4v1.4h-1.4zM148.0 185.9h1.4v1.4h-1.4zM99.4 55.6h1.4v1.4h-1.4zM75.0 87.6h1.7v1.7h-1.7zM78.9 158.8h1.1v1.1h-1.1zM114.8 28.6h1.1v1.1h-1.1zM175.9 68.9h1.4v1.4h-1.4zM171.9 77.4h1.7v1.7h-1.7zM133.5 205.7h1.1v1.1h-1.1zM162.2 110.1h1.4v1.4h-1.4zM219.2 59.6h1.4v1.4h-1.4zM157.8 43.8h1.7v1.7h-1.7zM247.5 53.6h1.7v1.7h-1.7zM81.2 226.3h1.1v1.1h-1.1zM101.7 130.3h1.4v1.4h-1.4zM80.4 124.9h1.4v1.4h-1.4zM219.7 173.8h1.4v1.4h-1.4zM59.6 28.3h1.7v1.7h-1.7zM56.4 167.3h1.4v1.4h-1.4zM240.8 33.3h1.7v1.7h-1.7zM116.1 189.2h1.4v1.4h-1.4zM116.9 85.5h1.1v1.1h-1.1zM118.7 137.8h1.4v1.4h-1.4zM252.8 32.5h1.7v1.7h-1.7zM94.6 40.5h1.7v1.7h-1.7zM135.5 175.4h1.7v1.7h-1.7zM159.5 151.5h1.1v1.1h-1.1zM252.3 84.6h1.7v1.7h-1.7zM56.7 37.5h1.7v1.7h-1.7zM157.7 41.0h1.7v1.7h-1.7zM200.9 137.3h1.4v1.4h-1.4zM144.2 93.2h1.1v1.1h-1.1zM121.5 121.2h1.7v1.7h-1.7zM108.2 119.6h1.4v1.4h-1.4zM97.5 43.4h1.4v1.4h-1.4zM207.6 217.6h1.4v1.4h-1.4zM209.6 169.6h1.7v1.7h-1.7zM67.4 72.2h1.7v1.7h-1.7zM65.3 105.1h1.4v1.4h-1.4zM92.6 43.5h1.1v1.1h-1.1zM242.4 115.3h1.4v1.4h-1.4zM236.3 138.2h1.4v1.4h-1.4zM132.6 189.7h1.4v1.4h-1.4zM205.4 175.9h1.4v1.4h-1.4zM240.5 103.0h1.7v1.7h-1.7zM100.3 69.9h1.1v1.1h-1.1zM212.1 29.9h1.4v1.4h-1.4zM204.4 44.6h1.4v1.4h-1.4zM153.3 100.4h1.7v1.7h-1.7zM169.7 147.9h1.4v1.4h-1.4zM136.3 154.6h1.7v1.7h-1.7zM88.5 28.0h1.7v1.7h-1.7zM237.8 185.9h1.7v1.7h-1.7zM75.3 189.2h1.4v1.4h-1.4zM214.4 206.0h1.1v1.1h-1.1zM76.7 67.1h1.4v1.4h-1.4zM167.8 49.7h1.4v1.4h-1.4zM144.5 53.0h1.1v1.1h-1.1zM196.7 150.7h1.4v1.4h-1.4zM120.0 113.4h1.1v1.1h-1.1zM107.4 27.3h1.4v1.4h-1.4zM120.3 101.8h1.1v1.1h-1.1zM113.1 41.0h1.4v1.4h-1.4zM105.3 68.5h1.4v1.4h-1.4zM102.3 206.3h1.4v1.4h-1.4zM169.7 180.5h1.7v1.7h-1.7zM97.9 171.5h1.1v1.1h-1.1zM159.3 84.1h1.1v1.1h-1.1zM246.6 176.3h1.7v1.7h-1.7zM69.9 74.4h1.1v1.1h-1.1zM114.9 93.5h1.1v1.1h-1.1zM240.7 209.0h1.7v1.7h-1.7zM215.3 115.7h1.4v1.4h-1.4zM66.9 207.1h1.4v1.4h-1.4zM173.8 191.5h1.7v1.7h-1.7zM96.4 210.7h1.4v1.4h-1.4zM126.9 41.6h1.4v1.4h-1.4zM239.3 104.4h1.4v1.4h-1.4zM218.1 181.5h1.1v1.1h-1.1zM106.8 48.8h1.7v1.7h-1.7zM80.4 58.7h1.4v1.4h-1.4zM125.8 58.0h1.4v1.4h-1.4zM65.1 181.6h1.7v1.7h-1.7zM166.6 106.1h1.4v1.4h-1.4zM169.2 27.7h1.4v1.4h-1.4zM214.8 112.4h1.1v1.1h-1.1zM154.2 48.0h1.1v1.1h-1.1zM131.0 196.8h1.4v1.4h-1.4zM133.7 128.2h1.4v1.4h-1.4zM132.2 96.9h1.4v1.4h-1.4zM205.2 213.0h1.4v1.4h-1.4zM153.5 124.1h1.4v1.4h-1.4zM57.5 38.6h1.4v1.4h-1.4zM93.5 222.6h1.1v1.1h-1.1zM190.4 58.8h1.7v1.7h-1.7zM218.2 76.4h1.1v1.1h-1.1zM129.6 24.5h1.1v1.1h-1.1zM228.5 201.5h1.7v1.7h-1.7zM66.3 100.5h1.1v1.1h-1.1zM186.6 125.4h1.4v1.4h-1.4zM207.7 185.0h1.4v1.4h-1.4zM194.0 201.1h1.7v1.7h-1.7zM207.1 45.7h1.1v1.1h-1.1zM191.7 64.5h1.1v1.1h-1.1zM112.8 157.9h1.1v1.1h-1.1zM219.1 33.6h1.4v1.4h-1.4zM63.1 127.2h1.7v1.7h-1.7zM99.3 166.5h1.7v1.7h-1.7zM255.9 85.2h1.4v1.4h-1.4zM198.3 26.5h1.1v1.1h-1.1zM199.1 154.6h1.1v1.1h-1.1zM99.8 142.6h1.1v1.1h-1.1zM199.0 94.3h1.7v1.7h-1.7zM162.2 159.3h1.1v1.1h-1.1zM182.3 209.1h1.4v1.4h-1.4zM231.4 80.7h1.1v1.1h-1.1zM210.7 134.1h1.4v1.4h-1.4zM145.1 102.7h1.7v1.7h-1.7zM241.2 132.2h1.4v1.4h-1.4zM124.2 179.0h1.1v1.1h-1.1zM116.0 38.5h1.4v1.4h-1.4zM204.8 144.1h1.4v1.4h-1.4zM253.1 127.1h1.1v1.1h-1.1zM244.0 150.5h1.1v1.1h-1.1zM178.4 97.5h1.1v1.1h-1.1zM188.4 116.5h1.7v1.7h-1.7zM224.3 74.7h1.4v1.4h-1.4zM164.9 174.6h1.7v1.7h-1.7zM94.7 182.9h1.4v1.4h-1.4zM73.3 163.7h1.4v1.4h-1.4zM215.6 103.9h1.1v1.1h-1.1zM96.8 76.8h1.1v1.1h-1.1zM251.8 207.6h1.4v1.4h-1.4zM55.5 59.7h1.1v1.1h-1.1zM183.4 71.8h1.7v1.7h-1.7zM171.2 82.3h1.7v1.7h-1.7zM94.7 128.4h1.1v1.1h-1.1zM55.7 112.7h1.4v1.4h-1.4zM178.0 208.6h1.7v1.7h-1.7zM120.7 83.1h1.7v1.7h-1.7zM149.5 138.1h1.4v1.4h-1.4zM231.3 128.8h1.4v1.4h-1.4zM104.7 64.5h1.1v1.1h-1.1zM129.8 132.4h1.4v1.4h-1.4zM223.6 59.9h1.4v1.4h-1.4zM87.7 42.7h1.4v1.4h-1.4zM174.3 72.0h1.7v1.7h-1.7zM159.6 132.7h1.1v1.1h-1.1zM209.2 70.0h1.4v1.4h-1.4zM84.4 81.6h1.1v1.1h-1.1zM126.9 182.7h1.4v1.4h-1.4zM174.0 53.8h1.4v1.4h-1.4zM192.6 105.7h1.4v1.4h-1.4zM243.9 194.2h1.7v1.7h-1.7zM198.4 148.9h1.4v1.4h-1.4zM141.2 97.6h1.1v1.1h-1.1zM92.3 185.5h1.1v1.1h-1.1zM138.8 32.5h1.7v1.7h-1.7zM235.0 177.7h1.7v1.7h-1.7zM71.2 111.7h1.4v1.4h-1.4zM248.2 60.9h1.7v1.7h-1.7zM126.7 107.4h1.1v1.1h-1.1zM245.5 164.7h1.4v1.4h-1.4zM253.7 70.8h1.4v1.4h-1.4zM131.1 95.7h1.7v1.7h-1.7zM88.0 97.3h1.7v1.7h-1.7zM55.4 155.2h1.4v1.4h-1.4zM109.3 51.5h1.4v1.4h-1.4zM256.0 177.6h1.7v1.7h-1.7zM175.5 200.3h1.1v1.1h-1.1zM209.2 105.7h1.4v1.4h-1.4zM258.2 177.7h1.4v1.4h-1.4zM74.3 100.2h1.1v1.1h-1.1zM98.5 177.2h1.7v1.7h-1.7zM129.5 184.3h1.4v1.4h-1.4zM117.4 207.0h1.7v1.7h-1.7zM187.8 154.5h1.4v1.4h-1.4zM86.9 93.4h1.1v1.1h-1.1zM113.9 222.3h1.7v1.7h-1.7zM210.7 80.0h1.1v1.1h-1.1zM95.0 164.4h1.4v1.4h-1.4zM189.0 66.9h1.7v1.7h-1.7zM99.6 70.9h1.7v1.7h-1.7zM109.3 73.6h1.1v1.1h-1.1zM256.6 46.1h1.7v1.7h-1.7zM251.3 27.5h1.7v1.7h-1.7zM140.0 195.6h1.7v1.7h-1.7zM167.3 213.9h1.4v1.4h-1.4zM182.2 49.0h1.7v1.7h-1.7zM82.4 208.6h1.1v1.1h-1.1zM220.1 119.5h1.7v1.7h-1.7zM134.2 129.8h1.1v1.1h-1.1zM193.8 142.6h1.4v1.4h-1.4zM72.4 189.8h1.1v1.1h-1.1zM257.7 159.9h1.1v1.1h-1.1zM169.7 111.4h1.1v1.1h-1.1zM183.2 87.4h1.4v1.4h-1.4zM128.2 205.5h1.4v1.4h-1.4zM230.6 117.7h1.1v1.1h-1.1zM69.9 74.9h1.7v1.7h-1.7zM79.0 134.0h1.1v1.1h-1.1zM176.2 94.2h1.7v1.7h-1.7zM224.4 141.1h1.7v1.7h-1.7zM242.2 199.0h1.1v1.1h-1.1zM258.4 220.7h1.1v1.1h-1.1zM85.6 150.3h1.7v1.7h-1.7zM217.7 64.3h1.1v1.1h-1.1zM164.6 41.1h1.4v1.4h-1.4zM255.5 115.9h1.1v1.1h-1.1zM223.2 65.6h1.4v1.4h-1.4zM215.1 45.7h1.1v1.1h-1.1zM199.3 137.4h1.4v1.4h-1.4zM193.2 195.5h1.1v1.1h-1.1zM146.4 41.3h1.4v1.4h-1.4zM70.2 122.2h1.7v1.7h-1.7zM86.8 71.6h1.7v1.7h-1.7zM154.7 105.6h1.7v1.7h-1.7zM67.8 199.8h1.7v1.7h-1.7zM116.9 160.3h1.1v1.1h-1.1zM186.5 55.9h1.7v1.7h-1.7zM60.7 45.9h1.1v1.1h-1.1zM235.1 197.2h1.1v1.1h-1.1zM169.0 201.1h1.7v1.7h-1.7zM98.7 181.0h1.1v1.1h-1.1zM115.7 112.4h1.7v1.7h-1.7zM149.7 48.1h1.7v1.7h-1.7zM183.5 146.4h1.1v1.1h-1.1zM101.7 203.3h1.7v1.7h-1.7zM110.2 49.0h1.4v1.4h-1.4zM60.9 101.9h1.1v1.1h-1.1zM166.8 199.4h1.1v1.1h-1.1zM73.6 211.9h1.1v1.1h-1.1zM221.4 59.2h1.4v1.4h-1.4zM223.0 189.5h1.4v1.4h-1.4zM151.6 165.3h1.4v1.4h-1.4zM71.1 207.5h1.4v1.4h-1.4zM176.6 36.2h1.4v1.4h-1.4zM120.1 37.4h1.4v1.4h-1.4zM79.9 198.4h1.7v1.7h-1.7zM200.7 224.1h1.7v1.7h-1.7zM56.8 212.6h1.4v1.4h-1.4zM201.7 101.6h1.4v1.4h-1.4zM125.7 194.8h1.4v1.4h-1.4zM97.2 173.7h1.4v1.4h-1.4zM215.5 84.3h1.7v1.7h-1.7zM183.9 55.1h1.4v1.4h-1.4zM72.3 142.2h1.4v1.4h-1.4zM192.9 219.3h1.4v1.4h-1.4zM118.1 38.1h1.7v1.7h-1.7zM163.1 176.3h1.7v1.7h-1.7zM105.9 68.4h1.7v1.7h-1.7zM174.3 117.6h1.7v1.7h-1.7zM185.2 82.5h1.7v1.7h-1.7zM221.7 52.7h1.7v1.7h-1.7zM195.5 157.8h1.7v1.7h-1.7zM55.9 58.6h1.4v1.4h-1.4zM131.6 166.7h1.7v1.7h-1.7zM220.5 174.2h1.7v1.7h-1.7zM170.5 223.4h1.7v1.7h-1.7zM133.3 218.2h1.1v1.1h-1.1zM201.1 146.2h1.7v1.7h-1.7zM120.0 45.1h1.4v1.4h-1.4zM180.3 76.3h1.4v1.4h-1.4zM116.2 226.1h1.4v1.4h-1.4zM226.9 167.8h1.4v1.4h-1.4zM88.6 45.5h1.4v1.4h-1.4zM201.9 66.5h1.4v1.4h-1.4zM116.5 173.1h1.7v1.7h-1.7zM256.7 161.2h1.4v1.4h-1.4zM70.5 143.7h1.1v1.1h-1.1zM203.4 32.1h1.4v1.4h-1.4zM161.8 147.8h1.4v1.4h-1.4zM231.8 110.9h1.1v1.1h-1.1zM86.9 24.6h1.4v1.4h-1.4zM147.6 73.2h1.7v1.7h-1.7zM195.2 154.3h1.1v1.1h-1.1zM194.0 95.0h1.7v1.7h-1.7zM241.7 209.9h1.7v1.7h-1.7zM184.0 150.5h1.4v1.4h-1.4zM129.7 33.7h1.7v1.7h-1.7zM112.5 90.4h1.1v1.1h-1.1zM97.3 168.3h1.1v1.1h-1.1zM235.5 214.6h1.1v1.1h-1.1zM72.3 189.4h1.7v1.7h-1.7zM152.7 120.6h1.4v1.4h-1.4zM57.0 195.8h1.4v1.4h-1.4zM147.9 220.0h1.7v1.7h-1.7zM83.4 105.3h1.1v1.1h-1.1zM144.5 125.0h1.1v1.1h-1.1zM70.5 47.1h1.1v1.1h-1.1zM106.0 89.1h1.4v1.4h-1.4zM217.0 33.0h1.1v1.1h-1.1zM249.3 92.7h1.4v1.4h-1.4zM189.3 166.1h1.4v1.4h-1.4zM91.0 193.2h1.4v1.4h-1.4zM90.5 216.1h1.4v1.4h-1.4zM131.7 91.1h1.1v1.1h-1.1zM241.1 59.8h1.1v1.1h-1.1zM125.4 59.4h1.1v1.1h-1.1zM74.6 217.9h1.4v1.4h-1.4zM168.9 150.3h1.7v1.7h-1.7zM114.9 43.7h1.1v1.1h-1.1zM94.6 190.1h1.7v1.7h-1.7zM104.8 87.7h1.7v1.7h-1.7zM96.7 58.3h1.7v1.7h-1.7zM205.5 183.2h1.7v1.7h-1.7zM77.9 222.1h1.1v1.1h-1.1zM95.6 152.4h1.4v1.4h-1.4zM217.6 176.9h1.1v1.1h-1.1zM192.0 58.8h1.7v1.7h-1.7zM57.6 183.6h1.4v1.4h-1.4zM65.1 115.7h1.4v1.4h-1.4zM123.5 85.0h1.7v1.7h-1.7zM145.7 226.0h1.1v1.1h-1.1zM231.1 167.0h1.1v1.1h-1.1zM198.3 76.4h1.4v1.4h-1.4zM101.7 114.2h1.7v1.7h-1.7zM95.9 208.6h1.4v1.4h-1.4zM221.4 120.2h1.1v1.1h-1.1zM160.0 160.7h1.4v1.4h-1.4zM191.2 33.8h1.1v1.1h-1.1zM226.0 79.1h1.1v1.1h-1.1zM117.7 205.5h1.1v1.1h-1.1zM178.7 160.9h1.1v1.1h-1.1zM119.9 223.6h1.7v1.7h-1.7zM165.4 67.5h1.4v1.4h-1.4zM234.8 109.7h1.7v1.7h-1.7zM72.0 108.0h1.7v1.7h-1.7zM80.8 139.0h1.1v1.1h-1.1zM228.5 128.1h1.4v1.4h-1.4zM145.3 197.8h1.4v1.4h-1.4zM98.2 104.6h1.7v1.7h-1.7zM71.3 27.1h1.7v1.7h-1.7zM142.7 183.5h1.1v1.1h-1.1zM203.2 56.2h1.7v1.7h-1.7zM148.1 79.0h1.7v1.7h-1.7zM143.1 219.5h1.4v1.4h-1.4zM104.5 100.0h1.7v1.7h-1.7zM169.0 81.0h1.4v1.4h-1.4zM87.6 193.3h1.1v1.1h-1.1zM100.8 39.5h1.1v1.1h-1.1zM216.8 146.9h1.1v1.1h-1.1zM140.7 113.4h1.7v1.7h-1.7zM253.3 178.9h1.1v1.1h-1.1zM74.3 179.3h1.7v1.7h-1.7zM108.2 94.0h1.1v1.1h-1.1zM175.2 137.2h1.7v1.7h-1.7zM176.9 145.6h1.7v1.7h-1.7zM181.0 162.4h1.1v1.1h-1.1zM208.0 124.6h1.7v1.7h-1.7zM125.4 218.0h1.1v1.1h-1.1zM127.1 28.6h1.4v1.4h-1.4zM164.4 87.1h1.7v1.7h-1.7zM75.4 140.6h1.4v1.4h-1.4zM84.7 215.2h1.1v1.1h-1.1zM115.3 191.1h1.4v1.4h-1.4zM155.4 127.8h1.4v1.4h-1.4zM66.2 110.7h1.1v1.1h-1.1zM247.9 155.8h1.1v1.1h-1.1zM235.0 120.2h1.7v1.7h-1.7zM131.7 153.0h1.1v1.1h-1.1zM169.0 144.8h1.4v1.4h-1.4zM190.8 191.2h1.4v1.4h-1.4zM198.4 100.0h1.4v1.4h-1.4zM148.4 152.4h1.1v1.1h-1.1zM226.6 109.6h1.1v1.1h-1.1zM93.0 74.0h1.4v1.4h-1.4zM126.9 62.6h1.4v1.4h-1.4zM158.2 178.8h1.4v1.4h-1.4zM127.3 89.0h1.1v1.1h-1.1zM56.8 27.3h1.4v1.4h-1.4zM73.6 143.4h1.4v1.4h-1.4zM225.3 111.3h1.1v1.1h-1.1zM82.3 164.8h1.4v1.4h-1.4zM224.2 59.2h1.1v1.1h-1.1zM241.3 183.1h1.7v1.7h-1.7zM174.9 62.4h1.1v1.1h-1.1zM193.8 156.0h1.4v1.4h-1.4zM117.7 65.8h1.7v1.7h-1.7zM120.4 85.7h1.7v1.7h-1.7zM231.6 195.7h1.7v1.7h-1.7zM173.2 153.6h1.7v1.7h-1.7zM95.4 187.4h1.1v1.1h-1.1zM114.1 207.7h1.4v1.4h-1.4zM205.4 108.5h1.4v1.4h-1.4zM150.4 164.9h1.1v1.1h-1.1zM72.1 26.5h1.7v1.7h-1.7zM145.4 173.4h1.7v1.7h-1.7zM162.9 95.9h1.4v1.4h-1.4zM128.9 175.2h1.1v1.1h-1.1zM224.4 48.0h1.1v1.1h-1.1zM65.1 81.3h1.4v1.4h-1.4zM163.9 142.7h1.7v1.7h-1.7zM205.1 24.5h1.1v1.1h-1.1zM231.4 65.1h1.7v1.7h-1.7zM183.4 85.2h1.7v1.7h-1.7zM170.7 70.7h1.4v1.4h-1.4zM137.0 96.3h1.1v1.1h-1.1zM186.1 124.1h1.7v1.7h-1.7zM103.9 62.2h1.1v1.1h-1.1zM82.0 180.9h1.7v1.7h-1.7zM109.3 181.9h1.4v1.4h-1.4zM190.0 50.6h1.4v1.4h-1.4zM238.8 108.9h1.4v1.4h-1.4zM198.8 82.5h1.1v1.1h-1.1zM154.9 204.3h1.1v1.1h-1.1zM259.4 174.4h1.1v1.1h-1.1zM208.9 50.7h1.4v1.4h-1.4zM248.9 159.7h1.7v1.7h-1.7zM258.3 189.9h1.7v1.7h-1.7zM157.3 119.4h1.7v1.7h-1.7zM143.3 30.4h1.4v1.4h-1.4zM80.1 146.6h1.7v1.7h-1.7zM176.2 79.4h1.1v1.1h-1.1zM194.7 137.1h1.7v1.7h-1.7zM200.7 199.7h1.1v1.1h-1.1zM152.7 135.9h1.4v1.4h-1.4zM245.8 151.8h1.7v1.7h-1.7zM73.8 219.8h1.4v1.4h-1.4zM240.3 91.0h1.7v1.7h-1.7zM119.7 144.8h1.1v1.1h-1.1zM117.2 79.9h1.1v1.1h-1.1zM227.6 130.8h1.1v1.1h-1.1zM87.2 95.7h1.7v1.7h-1.7zM106.0 190.8h1.1v1.1h-1.1zM228.0 153.4h1.1v1.1h-1.1zM117.5 199.9h1.1v1.1h-1.1zM163.8 28.3h1.1v1.1h-1.1zM211.8 130.4h1.7v1.7h-1.7zM203.7 126.6h1.7v1.7h-1.7zM179.9 217.7h1.1v1.1h-1.1zM260.1 65.3h1.7v1.7h-1.7zM156.2 108.0h1.7v1.7h-1.7zM127.2 71.8h1.7v1.7h-1.7zM230.7 204.5h1.7v1.7h-1.7zM137.4 174.6h1.4v1.4h-1.4zM132.2 176.8h1.4v1.4h-1.4zM152.5 177.4h1.4v1.4h-1.4zM203.7 176.2h1.1v1.1h-1.1zM215.0 92.9h1.1v1.1h-1.1zM98.0 172.0h1.1v1.1h-1.1zM110.3 89.0h1.4v1.4h-1.4zM126.8 196.9h1.4v1.4h-1.4zM191.3 207.3h1.7v1.7h-1.7zM138.2 61.3h1.4v1.4h-1.4zM209.3 134.2h1.4v1.4h-1.4zM198.5 208.3h1.1v1.1h-1.1zM70.3 134.1h1.1v1.1h-1.1zM75.6 222.6h1.4v1.4h-1.4zM155.7 75.7h1.7v1.7h-1.7zM111.1 66.8h1.1v1.1h-1.1zM255.9 186.9h1.7v1.7h-1.7zM154.1 175.3h1.7v1.7h-1.7zM226.2 82.1h1.4v1.4h-1.4zM250.6 140.1h1.1v1.1h-1.1zM236.0 72.2h1.4v1.4h-1.4zM130.3 150.6h1.4v1.4h-1.4zM198.6 54.3h1.7v1.7h-1.7zM114.4 99.3h1.1v1.1h-1.1zM240.0 77.1h1.7v1.7h-1.7zM139.5 188.5h1.1v1.1h-1.1zM179.7 102.5h1.4v1.4h-1.4zM101.5 185.7h1.4v1.4h-1.4zM220.9 31.7h1.7v1.7h-1.7zM197.9 72.8h1.7v1.7h-1.7zM232.3 189.4h1.7v1.7h-1.7zM123.7 140.3h1.1v1.1h-1.1zM70.8 146.6h1.7v1.7h-1.7zM124.3 119.2h1.7v1.7h-1.7zM77.1 205.1h1.4v1.4h-1.4zM159.4 39.2h1.1v1.1h-1.1zM63.5 67.5h1.7v1.7h-1.7zM163.1 38.2h1.7v1.7h-1.7zM186.8 29.8h1.4v1.4h-1.4zM60.8 119.9h1.1v1.1h-1.1zM185.9 216.2h1.7v1.7h-1.7zM225.1 113.3h1.4v1.4h-1.4zM148.8 172.0h1.7v1.7h-1.7zM232.2 98.1h1.4v1.4h-1.4zM199.5 34.0h1.4v1.4h-1.4zM172.0 43.3h1.7v1.7h-1.7zM130.9 49.6h1.4v1.4h-1.4zM222.0 64.7h1.1v1.1h-1.1zM238.0 77.5h1.7v1.7h-1.7zM84.0 121.6h1.7v1.7h-1.7zM175.9 148.5h1.1v1.1h-1.1zM164.3 150.9h1.4v1.4h-1.4zM181.3 192.4h1.1v1.1h-1.1zM177.6 122.4h1.7v1.7h-1.7zM96.7 126.7h1.4v1.4h-1.4zM208.6 76.2h1.1v1.1h-1.1zM148.0 99.7h1.4v1.4h-1.4zM257.3 220.1h1.1v1.1h-1.1zM204.3 47.4h1.1v1.1h-1.1zM72.4 41.8h1.1v1.1h-1.1zM97.4 204.5h1.7v1.7h-1.7zM144.1 43.6h1.1v1.1h-1.1zM258.7 163.1h1.7v1.7h-1.7zM90.0 38.7h1.4v1.4h-1.4zM117.6 54.0h1.4v1.4h-1.4zM248.0 223.5h1.1v1.1h-1.1zM239.1 195.6h1.7v1.7h-1.7zM127.4 115.0h1.7v1.7h-1.7zM229.8 149.4h1.4v1.4h-1.4zM160.3 135.0h1.1v1.1h-1.1zM126.9 24.3h1.4v1.4h-1.4zM221.3 40.2h1.1v1.1h-1.1zM183.6 50.5h1.4v1.4h-1.4zM71.9 214.1h1.1v1.1h-1.1zM148.4 142.6h1.4v1.4h-1.4zM76.3 195.2h1.1v1.1h-1.1zM112.5 177.9h1.4v1.4h-1.4zM177.4 143.5h1.7v1.7h-1.7zM178.0 32.2h1.1v1.1h-1.1zM110.9 155.4h1.7v1.7h-1.7zM149.2 179.6h1.1v1.1h-1.1zM119.8 135.4h1.7v1.7h-1.7zM94.6 104.8h1.4v1.4h-1.4zM192.2 47.2h1.7v1.7h-1.7zM163.3 85.7h1.1v1.1h-1.1zM231.0 223.2h1.1v1.1h-1.1zM249.7 211.3h1.7v1.7h-1.7zM96.8 142.2h1.1v1.1h-1.1zM102.2 79.9h1.4v1.4h-1.4zM115.4 28.9h1.1v1.1h-1.1zM114.4 131.7h1.4v1.4h-1.4zM160.7 131.6h1.4v1.4h-1.4zM132.2 162.1h1.7v1.7h-1.7zM102.2 114.8h1.7v1.7h-1.7zM94.8 177.3h1.7v1.7h-1.7zM87.1 33.7h1.4v1.4h-1.4zM69.2 182.5h1.4v1.4h-1.4zM254.0 46.7h1.7v1.7h-1.7zM257.4 67.5h1.7v1.7h-1.7zM180.3 62.0h1.1v1.1h-1.1zM203.4 153.4h1.4v1.4h-1.4zM229.3 142.6h1.1v1.1h-1.1zM254.1 54.3h1.7v1.7h-1.7zM118.1 93.0h1.7v1.7h-1.7zM145.3 99.1h1.4v1.4h-1.4zM195.3 68.4h1.1v1.1h-1.1zM108.3 58.6h1.4v1.4h-1.4zM128.1 138.2h1.7v1.7h-1.7zM186.6 205.5h1.4v1.4h-1.4zM145.9 174.8h1.7v1.7h-1.7zM130.3 207.5h1.1v1.1h-1.1zM132.7 169.2h1.4v1.4h-1.4zM134.6 161.8h1.1v1.1h-1.1zM177.8 114.7h1.7v1.7h-1.7zM231.6 34.3h1.1v1.1h-1.1zM90.5 219.1h1.4v1.4h-1.4zM100.8 82.7h1.1v1.1h-1.1zM118.2 61.4h1.7v1.7h-1.7zM253.2 187.2h1.4v1.4h-1.4zM219.4 220.8h1.1v1.1h-1.1zM122.9 110.0h1.7v1.7h-1.7zM229.8 168.8h1.7v1.7h-1.7zM112.5 30.6h1.4v1.4h-1.4zM222.3 143.3h1.4v1.4h-1.4zM205.1 45.4h1.1v1.1h-1.1zM251.4 174.9h1.1v1.1h-1.1zM178.2 152.6h1.4v1.4h-1.4zM223.5 83.0h1.1v1.1h-1.1zM80.2 167.4h1.7v1.7h-1.7zM124.7 154.3h1.4v1.4h-1.4zM203.2 75.3h1.1v1.1h-1.1zM211.8 130.6h1.1v1.1h-1.1zM239.9 147.9h1.4v1.4h-1.4zM164.4 122.8h1.4v1.4h-1.4zM217.4 197.2h1.7v1.7h-1.7zM100.2 40.0h1.4v1.4h-1.4zM165.3 141.5h1.7v1.7h-1.7zM205.3 76.2h1.4v1.4h-1.4zM84.0 87.8h1.1v1.1h-1.1zM101.5 74.2h1.7v1.7h-1.7zM144.7 134.2h1.7v1.7h-1.7zM259.4 95.1h1.7v1.7h-1.7zM176.6 41.6h1.4v1.4h-1.4zM196.7 42.7h1.7v1.7h-1.7zM204.2 71.0h1.7v1.7h-1.7zM192.2 136.8h1.1v1.1h-1.1zM89.0 38.1h1.4v1.4h-1.4zM145.3 59.5h1.1v1.1h-1.1zM246.1 200.5h1.4v1.4h-1.4zM113.4 125.8h1.1v1.1h-1.1zM175.3 63.3h1.7v1.7h-1.7zM203.0 217.1h1.1v1.1h-1.1zM139.9 168.9h1.7v1.7h-1.7zM246.8 124.2h1.7v1.7h-1.7zM103.1 114.9h1.1v1.1h-1.1zM165.0 225.7h1.4v1.4h-1.4zM144.3 28.6h1.1v1.1h-1.1zM65.0 159.2h1.1v1.1h-1.1zM131.9 161.0h1.1v1.1h-1.1zM181.7 47.5h1.4v1.4h-1.4zM236.4 112.8h1.7v1.7h-1.7zM177.4 196.7h1.1v1.1h-1.1zM190.5 105.8h1.1v1.1h-1.1zM216.6 163.6h1.7v1.7h-1.7zM243.9 119.2h1.1v1.1h-1.1zM93.7 75.0h1.1v1.1h-1.1zM193.7 224.2h1.4v1.4h-1.4zM130.9 88.5h1.7v1.7h-1.7zM195.8 138.4h1.7v1.7h-1.7zM166.6 28.4h1.4v1.4h-1.4zM136.2 115.3h1.7v1.7h-1.7zM248.6 138.6h1.4v1.4h-1.4zM117.3 160.6h1.4v1.4h-1.4zM180.3 107.2h1.1v1.1h-1.1zM249.4 213.7h1.4v1.4h-1.4zM170.9 112.5h1.4v1.4h-1.4zM156.9 25.0h1.1v1.1h-1.1zM95.4 135.7h1.7v1.7h-1.7zM133.6 26.8h1.1v1.1h-1.1zM88.5 153.4h1.1v1.1h-1.1zM102.0 222.5h1.4v1.4h-1.4zM175.5 196.6h1.4v1.4h-1.4zM194.0 202.2h1.1v1.1h-1.1zM192.3 133.7h1.1v1.1h-1.1zM236.4 125.9h1.7v1.7h-1.7zM103.4 58.8h1.7v1.7h-1.7zM228.5 222.7h1.7v1.7h-1.7zM108.0 25.8h1.7v1.7h-1.7zM201.8 42.1h1.4v1.4h-1.4zM104.7 176.0h1.7v1.7h-1.7zM116.1 76.0h1.7v1.7h-1.7zM202.1 168.7h1.4v1.4h-1.4zM136.4 153.5h1.1v1.1h-1.1zM185.8 222.9h1.1v1.1h-1.1zM91.4 50.0h1.1v1.1h-1.1zM194.4 126.0h1.1v1.1h-1.1zM166.5 120.2h1.4v1.4h-1.4zM200.2 31.9h1.1v1.1h-1.1zM203.9 107.9h1.1v1.1h-1.1zM228.6 199.7h1.7v1.7h-1.7zM197.1 39.5h1.4v1.4h-1.4zM227.5 95.9h1.7v1.7h-1.7zM127.2 131.6h1.4v1.4h-1.4zM123.7 96.9h1.1v1.1h-1.1zM202.1 61.3h1.1v1.1h-1.1zM146.5 46.5h1.4v1.4h-1.4zM85.0 96.0h1.7v1.7h-1.7zM244.2 184.8h1.1v1.1h-1.1zM149.5 210.5h1.4v1.4h-1.4zM61.2 181.9h1.4v1.4h-1.4zM236.5 174.4h1.4v1.4h-1.4zM110.0 93.0h1.4v1.4h-1.4zM251.4 114.5h1.1v1.1h-1.1zM141.7 69.8h1.4v1.4h-1.4zM56.9 78.5h1.1v1.1h-1.1zM139.5 28.6h1.4v1.4h-1.4zM109.3 44.0h1.7v1.7h-1.7zM240.7 75.5h1.7v1.7h-1.7zM114.2 28.5h1.1v1.1h-1.1zM126.8 55.3h1.1v1.1h-1.1zM113.5 161.9h1.1v1.1h-1.1zM92.6 154.5h1.1v1.1h-1.1zM61.3 143.9h1.7v1.7h-1.7zM197.9 132.0h1.1v1.1h-1.1zM123.2 153.0h1.1v1.1h-1.1zM64.9 31.0h1.4v1.4h-1.4zM200.3 157.1h1.4v1.4h-1.4zM146.9 197.8h1.7v1.7h-1.7zM189.1 118.9h1.1v1.1h-1.1zM228.4 121.5h1.7v1.7h-1.7zM243.9 65.0h1.4v1.4h-1.4zM149.6 129.1h1.7v1.7h-1.7zM228.4 195.1h1.4v1.4h-1.4zM235.4 117.2h1.1v1.1h-1.1zM216.5 218.1h1.7v1.7h-1.7zM169.3 116.8h1.4v1.4h-1.4zM177.5 96.8h1.7v1.7h-1.7zM249.5 97.9h1.1v1.1h-1.1zM98.4 120.1h1.7v1.7h-1.7zM127.7 137.3h1.1v1.1h-1.1zM117.4 34.2h1.1v1.1h-1.1zM57.8 108.4h1.7v1.7h-1.7zM216.2 165.7h1.7v1.7h-1.7zM104.9 81.4h1.4v1.4h-1.4zM207.6 193.5h1.1v1.1h-1.1zM160.5 172.5h1.4v1.4h-1.4zM225.9 26.6h1.7v1.7h-1.7zM102.6 217.4h1.4v1.4h-1.4zM61.5 160.1h1.4v1.4h-1.4zM150.3 212.5h1.4v1.4h-1.4zM171.9 136.4h1.7v1.7h-1.7zM178.7 34.4h1.1v1.1h-1.1zM153.7 122.8h1.7v1.7h-1.7zM67.2 188.8h1.4v1.4h-1.4zM79.8 179.7h1.1v1.1h-1.1zM208.4 209.5h1.1v1.1h-1.1z" fill="rgb(56,56,56)"/>
<path d="M240.6 137.7h1.5v1.5h-1.5zM95.8 71.9h1.5v1.5h-1.5zM129.3 25.1h1.2v1.2h-1.2zM204.4 104.4h1.2v1.2h-1.2zM88.9 176.9h1.8v1.8h-1.8zM225.0 147.9h1.8v1.8h-1.8zM88.9 71.7h1.8v1.8h-1.8zM120.5 39.3h1.2v1.2h-1.2zM101.7 169.9h1.2v1.2h-1.2zM68.4 138.3h1.2v1.2h-1.2zM67.9 128.9h1.2v1.2h-1.2zM103.2 109.1h1.2v1.2h-1.2zM233.3 199.7h1.2v1.2h-1.2zM70.7 124.9h1.8v1.8h-1.8zM86.1 223.5h1.2v1.2h-1.2zM140.3 124.1h1.5v1.5h-1.5zM71.4 119.5h1.8v1.8h-1.8zM162.5 187.4h1.2v1.2h-1.2zM120.4 25.1h1.8v1.8h-1.8zM183.5 163.5h1.2v1.2h-1.2zM98.4 189.1h1.5v1.5h-1.5zM98.1 108.9h1.5v1.5h-1.5zM121.5 119.1h1.8v1.8h-1.8zM197.0 216.7h1.2v1.2h-1.2zM138.6 168.1h1.8v1.8h-1.8zM244.1 98.6h1.8v1.8h-1.8zM226.6 166.3h1.2v1.2h-1.2zM98.3 72.7h1.8v1.8h-1.8zM212.4 165.3h1.2v1.2h-1.2zM174.2 151.4h1.5v1.5h-1.5zM140.3 48.3h1.5v1.5h-1.5zM134.1 89.4h1.8v1.8h-1.8zM254.6 211.7h1.2v1.2h-1.2zM150.8 210.9h1.8v1.8h-1.8zM128.3 25.7h1.2v1.2h-1.2zM144.3 37.3h1.8v1.8h-1.8zM182.9 45.2h1.8v1.8h-1.8zM226.3 190.6h1.5v1.5h-1.5zM134.0 187.6h1.5v1.5h-1.5zM259.8 202.4h1.8v1.8h-1.8zM226.5 33.6h1.2v1.2h-1.2zM91.9 139.1h1.5v1.5h-1.5zM224.7 197.1h1.5v1.5h-1.5zM173.9 188.3h1.5v1.5h-1.5zM159.6 166.4h1.8v1.8h-1.8zM145.7 133.5h1.8v1.8h-1.8zM64.2 114.4h1.5v1.5h-1.5zM89.7 131.5h1.2v1.2h-1.2zM113.5 108.4h1.2v1.2h-1.2zM130.0 143.3h1.5v1.5h-1.5zM115.5 176.2h1.2v1.2h-1.2zM123.5 110.6h1.8v1.8h-1.8zM80.4 122.6h1.2v1.2h-1.2zM124.3 139.0h1.8v1.8h-1.8zM254.1 24.8h1.5v1.5h-1.5zM219.3 67.0h1.5v1.5h-1.5zM141.7 115.5h1.2v1.2h-1.2zM74.9 81.9h1.5v1.5h-1.5zM81.1 169.6h1.2v1.2h-1.2zM218.8 226.1h1.2v1.2h-1.2zM84.7 48.3h1.2v1.2h-1.2zM55.5 39.7h1.2v1.2h-1.2zM67.1 83.9h1.5v1.5h-1.5zM143.3 133.3h1.2v1.2h-1.2zM63.7 62.8h1.5v1.5h-1.5zM203.0 81.5h1.8v1.8h-1.8zM144.5 139.0h1.2v1.2h-1.2zM105.7 59.6h1.2v1.2h-1.2zM241.8 25.9h1.2v1.2h-1.2zM108.1 103.5h1.5v1.5h-1.5zM173.0 92.8h1.8v1.8h-1.8zM80.4 80.0h1.2v1.2h-1.2zM153.9 180.4h1.8v1.8h-1.8zM132.7 123.7h1.2v1.2h-1.2zM246.7 104.7h1.8v1.8h-1.8zM71.4 201.6h1.2v1.2h-1.2zM152.4 184.9h1.2v1.2h-1.2zM115.5 104.7h1.5v1.5h-1.5zM131.9 94.7h1.8v1.8h-1.8zM141.7 121.6h1.8v1.8h-1.8zM257.4 74.0h1.2v1.2h-1.2zM210.7 185.0h1.8v1.8h-1.8zM119.5 214.9h1.2v1.2h-1.2zM116.3 51.4h1.5v1.5h-1.5zM218.1 128.8h1.2v1.2h-1.2zM107.9 202.9h1.8v1.8h-1.8zM195.6 118.1h1.5v1.5h-1.5zM132.3 164.2h1.5v1.5h-1.5zM141.0 147.8h1.5v1.5h-1.5zM147.8 106.4h1.2v1.2h-1.2zM190.6 213.6h1.2v1.2h-1.2zM163.9 112.4h1.8v1.8h-1.8zM102.8 51.1h1.2v1.2h-1.2zM85.8 47.7h1.2v1.2h-1.2zM156.1 176.1h1.8v1.8h-1.8zM55.6 80.5h1.8v1.8h-1.8zM102.1 159.3h1.8v1.8h-1.8zM142.9 205.8h1.2v1.2h-1.2zM107.6 28.0h1.8v1.8h-1.8zM243.8 76.8h1.2v1.2h-1.2zM226.9 88.6h1.5v1.5h-1.5zM241.5 181.6h1.2v1.2h-1.2zM65.0 102.6h1.5v1.5h-1.5zM255.9 51.9h1.8v1.8h-1.8zM197.9 122.6h1.2v1.2h-1.2zM259.1 185.4h1.5v1.5h-1.5zM235.9 154.8h1.2v1.2h-1.2zM85.5 64.2h1.8v1.8h-1.8zM127.9 184.9h1.5v1.5h-1.5zM231.5 158.5h1.5v1.5h-1.5zM180.9 79.1h1.2v1.2h-1.2zM237.2 25.3h1.5v1.5h-1.5zM231.9 89.1h1.5v1.5h-1.5zM222.9 69.1h1.8v1.8h-1.8zM70.8 203.6h1.8v1.8h-1.8zM120.5 99.7h1.5v1.5h-1.5zM81.8 97.5h1.8v1.8h-1.8zM58.9 205.3h1.5v1.5h-1.5zM57.5 104.3h1.8v1.8h-1.8zM130.4 134.8h1.2v1.2h-1.2zM188.5 200.5h1.8v1.8h-1.8zM231.9 145.8h1.5v1.5h-1.5zM102.7 150.6h1.8v1.8h-1.8zM107.5 128.9h1.5v1.5h-1.5zM118.3 174.3h1.2v1.2h-1.2zM256.2 90.9h1.5v1.5h-1.5zM229.7 149.1h1.5v1.5h-1.5zM215.1 213.8h1.8v1.8h-1.8zM114.1 34.8h1.2v1.2h-1.2zM152.2 92.1h1.5v1.5h-1.5zM81.7 69.2h1.5v1.5h-1.5zM104.2 36.9h1.5v1.5h-1.5zM250.8 165.4h1.8v1.8h-1.8zM103.1 94.1h1.5v1.5h-1.5zM171.9 138.4h1.2v1.2h-1.2zM102.1 62.5h1.8v1.8h-1.8zM236.9 100.6h1.8v1.8h-1.8zM211.8 187.0h1.8v1.8h-1.8zM160.5 215.3h1.2v1.2h-1.2zM204.2 194.1h1.2v1.2h-1.2zM57.6 142.6h1.5v1.5h-1.5zM119.2 55.5h1.5v1.5h-1.5zM215.2 41.3h1.8v1.8h-1.8zM205.2 174.5h1.2v1.2h-1.2zM96.5 119.4h1.5v1.5h-1.5zM221.4 169.9h1.5v1.5h-1.5zM102.6 197.2h1.2v1.2h-1.2zM197.7 188.7h1.2v1.2h-1.2zM136.1 120.4h1.2v1.2h-1.2zM75.6 149.6h1.2v1.2h-1.2zM94.7 195.0h1.8v1.8h-1.8zM180.9 91.3h1.8v1.8h-1.8zM88.7 25.7h1.2v1.2h-1.2zM108.3 140.5h1.5v1.5h-1.5zM235.5 148.4h1.5v1.5h-1.5zM228.8 110.3h1.5v1.5h-1.5zM117.7 193.9h1.2v1.2h-1.2zM240.9 207.1h1.5v1.5h-1.5zM171.5 153.0h1.5v1.5h-1.5zM150.4 175.1h1.5v1.5h-1.5zM206.4 83.9h1.5v1.5h-1.5zM77.1 213.7h1.2v1.2h-1.2zM153.9 87.2h1.8v1.8h-1.8zM100.4 155.4h1.2v1.2h-1.2zM135.2 54.2h1.5v1.5h-1.5zM58.2 128.0h1.2v1.2h-1.2zM180.5 208.4h1.8v1.8h-1.8zM259.5 31.7h1.5v1.5h-1.5zM116.5 135.1h1.2v1.2h-1.2zM96.3 106.9h1.5v1.5h-1.5zM193.2 207.3h1.8v1.8h-1.8zM126.8 226.4h1.2v1.2h-1.2zM139.5 46.0h1.5v1.5h-1.5zM71.0 76.8h1.2v1.2h-1.2zM235.4 220.2h1.5v1.5h-1.5zM180.3 206.2h1.5v1.5h-1.5zM59.6 134.6h1.2v1.2h-1.2zM126.7 118.4h1.8v1.8h-1.8zM189.5 200.4h1.5v1.5h-1.5zM115.4 51.0h1.2v1.2h-1.2zM228.7 47.3h1.5v1.5h-1.5zM257.6 61.3h1.5v1.5h-1.5zM188.1 198.0h1.2v1.2h-1.2zM254.9 119.4h1.8v1.8h-1.8zM86.5 152.3h1.5v1.5h-1.5zM86.4 25.0h1.5v1.5h-1.5zM128.2 130.2h1.2v1.2h-1.2zM248.0 208.6h1.8v1.8h-1.8zM188.2 154.8h1.8v1.8h-1.8zM217.4 116.1h1.2v1.2h-1.2zM188.2 223.1h1.2v1.2h-1.2zM218.8 57.0h1.5v1.5h-1.5zM102.1 154.5h1.5v1.5h-1.5zM239.8 149.5h1.8v1.8h-1.8zM237.3 196.5h1.8v1.8h-1.8zM109.6 222.8h1.8v1.8h-1.8zM192.5 221.2h1.8v1.8h-1.8zM60.1 28.6h1.2v1.2h-1.2zM194.6 83.3h1.2v1.2h-1.2zM173.6 68.3h1.2v1.2h-1.2zM157.1 34.8h1.5v1.5h-1.5zM83.1 91.8h1.2v1.2h-1.2zM246.1 134.6h1.5v1.5h-1.5zM81.7 51.2h1.8v1.8h-1.8zM112.8 151.2h1.5v1.5h-1.5zM204.5 167.9h1.2v1.2h-1.2zM110.7 198.9h1.5v1.5h-1.5zM55.9 168.9h1.2v1.2h-1.2zM81.9 166.3h1.5v1.5h-1.5zM62.6 130.7h1.5v1.5h-1.5zM98.5 27.9h1.2v1.2h-1.2zM237.2 106.3h1.5v1.5h-1.5zM117.6 218.1h1.8v1.8h-1.8zM107.5 135.9h1.8v1.8h-1.8zM203.8 140.9h1.8v1.8h-1.8zM116.8 37.1h1.8v1.8h-1.8zM121.3 155.1h1.2v1.2h-1.2zM129.2 199.0h1.8v1.8h-1.8zM65.6 69.1h1.2v1.2h-1.2zM74.9 70.3h1.5v1.5h-1.5zM115.4 69.8h1.2v1.2h-1.2zM170.8 158.4h1.2v1.2h-1.2zM170.8 26.9h1.8v1.8h-1.8zM214.6 94.5h1.8v1.8h-1.8zM207.9 101.2h1.2v1.2h-1.2zM144.3 190.9h1.2v1.2h-1.2zM163.7 125.3h1.8v1.8h-1.8zM202.3 58.9h1.5v1.5h-1.5zM246.6 124.5h1.8v1.8h-1.8zM203.3 188.3h1.5v1.5h-1.5zM182.1 28.9h1.2v1.2h-1.2zM233.7 102.5h1.8v1.8h-1.8zM181.8 105.7h1.2v1.2h-1.2zM222.2 51.1h1.5v1.5h-1.5zM184.4 32.5h1.2v1.2h-1.2zM215.2 216.5h1.5v1.5h-1.5zM228.7 211.4h1.5v1.5h-1.5zM247.8 110.1h1.5v1.5h-1.5zM241.7 65.8h1.2v1.2h-1.2zM124.8 171.3h1.5v1.5h-1.5zM133.0 189.3h1.5v1.5h-1.5zM115.5 86.3h1.8v1.8h-1.8zM73.7 38.9h1.5v1.5h-1.5zM151.8 106.6h1.8v1.8h-1.8zM131.3 187.1h1.2v1.2h-1.2zM222.2 194.8h1.5v1.5h-1.5zM134.3 26.7h1.2v1.2h-1.2zM227.3 205.7h1.5v1.5h-1.5zM190.6 225.7h1.5v1.5h-1.5zM93.8 33.6h1.5v1.5h-1.5zM182.0 181.2h1.5v1.5h-1.5zM115.9 29.4h1.5v1.5h-1.5zM195.0 130.9h1.2v1.2h-1.2zM116.2 201.6h1.2v1.2h-1.2zM185.7 124.4h1.8v1.8h-1.8zM176.9 141.3h1.8v1.8h-1.8zM100.8 213.9h1.5v1.5h-1.5zM215.3 167.5h1.8v1.8h-1.8zM56.6 138.2h1.2v1.2h-1.2zM201.2 56.8h1.5v1.5h-1.5zM142.8 35.9h1.2v1.2h-1.2zM161.4 205.3h1.8v1.8h-1.8zM162.3 132.8h1.8v1.8h-1.8zM250.6 203.2h1.8v1.8h-1.8zM78.4 181.3h1.8v1.8h-1.8zM102.2 87.7h1.8v1.8h-1.8zM67.9 96.0h1.8v1.8h-1.8zM79.3 73.3h1.2v1.2h-1.2zM256.0 164.1h1.8v1.8h-1.8zM222.3 75.4h1.2v1.2h-1.2zM68.1 212.6h1.2v1.2h-1.2zM227.1 131.1h1.2v1.2h-1.2zM77.2 138.0h1.5v1.5h-1.5zM118.4 136.2h1.8v1.8h-1.8zM89.3 112.1h1.5v1.5h-1.5zM68.0 101.0h1.5v1.5h-1.5zM229.8 199.8h1.5v1.5h-1.5zM57.9 31.3h1.2v1.2h-1.2zM136.4 113.7h1.8v1.8h-1.8zM108.5 133.6h1.2v1.2h-1.2zM158.6 44.3h1.8v1.8h-1.8zM167.1 189.1h1.5v1.5h-1.5zM138.5 135.0h1.2v1.2h-1.2zM197.2 209.1h1.8v1.8h-1.8zM233.1 136.2h1.5v1.5h-1.5zM155.2 23.8h1.2v1.2h-1.2zM193.0 116.3h1.2v1.2h-1.2zM104.1 134.8h1.2v1.2h-1.2zM65.1 224.2h1.2v1.2h-1.2zM229.6 151.1h1.8v1.8h-1.8zM155.4 94.2h1.5v1.5h-1.5zM251.0 215.2h1.2v1.2h-1.2zM235.7 224.2h1.5v1.5h-1.5zM245.2 105.4h1.5v1.5h-1.5zM244.1 84.7h1.8v1.8h-1.8zM126.7 34.8h1.5v1.5h-1.5zM138.0 66.5h1.8v1.8h-1.8zM222.1 194.3h1.8v1.8h-1.8zM116.4 208.3h1.2v1.2h-1.2zM120.5 159.6h1.5v1.5h-1.5zM236.8 220.1h1.2v1.2h-1.2zM258.6 137.3h1.8v1.8h-1.8zM153.4 88.4h1.2v1.2h-1.2zM241.0 92.6h1.2v1.2h-1.2zM117.6 186.2h1.2v1.2h-1.2zM218.9 92.5h1.5v1.5h-1.5zM71.9 139.8h1.2v1.2h-1.2zM200.9 105.8h1.8v1.8h-1.8zM241.7 49.9h1.8v1.8h-1.8zM114.5 69.5h1.2v1.2h-1.2zM236.9 77.2h1.8v1.8h-1.8zM179.8 91.5h1.8v1.8h-1.8zM129.9 42.3h1.5v1.5h-1.5zM58.1 180.2h1.5v1.5h-1.5zM174.0 152.8h1.2v1.2h-1.2zM61.0 47.9h1.5v1.5h-1.5zM203.5 132.3h1.5v1.5h-1.5zM214.0 46.0h1.2v1.2h-1.2zM204.5 70.3h1.5v1.5h-1.5zM228.0 76.8h1.5v1.5h-1.5zM120.8 152.2h1.8v1.8h-1.8zM176.6 175.1h1.5v1.5h-1.5zM160.2 125.4h1.5v1.5h-1.5zM201.5 131.8h1.8v1.8h-1.8zM86.3 65.8h1.8v1.8h-1.8zM113.3 81.3h1.2v1.2h-1.2zM251.1 69.1h1.2v1.2h-1.2zM133.2 198.8h1.5v1.5h-1.5zM189.8 154.9h1.2v1.2h-1.2zM162.2 139.6h1.2v1.2h-1.2zM88.4 113.1h1.8v1.8h-1.8zM171.8 166.7h1.8v1.8h-1.8zM213.8 83.4h1.2v1.2h-1.2zM181.2 69.6h1.2v1.2h-1.2zM106.5 183.8h1.2v1.2h-1.2zM209.7 131.9h1.8v1.8h-1.8zM219.6 184.8h1.5v1.5h-1.5zM107.7 143.3h1.5v1.5h-1.5zM177.4 56.0h1.2v1.2h-1.2zM228.8 171.2h1.5v1.5h-1.5zM241.6 155.3h1.8v1.8h-1.8zM155.8 87.8h1.5v1.5h-1.5zM214.2 61.7h1.2v1.2h-1.2zM79.0 57.6h1.2v1.2h-1.2zM224.6 98.0h1.5v1.5h-1.5zM63.0 157.8h1.2v1.2h-1.2zM110.5 131.7h1.8v1.8h-1.8zM124.5 143.0h1.8v1.8h-1.8zM223.5 66.3h1.5v1.5h-1.5zM70.9 122.7h1.5v1.5h-1.5zM240.8 96.1h1.2v1.2h-1.2zM160.3 150.1h1.2v1.2h-1.2zM158.2 198.2h1.8v1.8h-1.8zM227.6 195.5h1.2v1.2h-1.2zM233.3 75.5h1.2v1.2h-1.2zM241.4 181.8h1.2v1.2h-1.2zM259.1 213.4h1.8v1.8h-1.8zM57.7 134.8h1.5v1.5h-1.5zM213.1 215.5h1.2v1.2h-1.2zM147.6 34.5h1.5v1.5h-1.5zM78.0 86.3h1.2v1.2h-1.2zM181.8 217.7h1.8v1.8h-1.8zM74.3 33.2h1.5v1.5h-1.5zM151.4 120.5h1.5v1.5h-1.5zM60.9 165.5h1.2v1.2h-1.2zM109.1 179.2h1.2v1.2h-1.2zM108.3 46.1h1.2v1.2h-1.2zM86.0 158.0h1.2v1.2h-1.2zM132.5 85.1h1.5v1.5h-1.5zM126.4 111.2h1.2v1.2h-1.2zM117.3 130.6h1.5v1.5h-1.5zM124.1 166.7h1.5v1.5h-1.5zM89.3 212.5h1.2v1.2h-1.2zM78.1 173.7h1.2v1.2h-1.2zM178.1 71.4h1.5v1.5h-1.5zM100.7 183.0h1.8v1.8h-1.8zM76.4 207.4h1.5v1.5h-1.5zM90.8 189.1h1.2v1.2h-1.2zM145.2 23.9h1.5v1.5h-1.5zM83.5 31.7h1.5v1.5h-1.5zM184.5 206.8h1.2v1.2h-1.2zM248.2 128.8h1.2v1.2h-1.2zM241.9 180.0h1.5v1.5h-1.5zM222.3 133.9h1.2v1.2h-1.2zM239.9 101.3h1.5v1.5h-1.5zM179.5 176.9h1.8v1.8h-1.8zM245.4 116.0h1.8v1.8h-1.8zM81.6 50.6h1.8v1.8h-1.8zM162.6 52.7h1.5v1.5h-1.5zM133.6 136.8h1.5v1.5h-1.5zM248.3 35.9h1.8v1.8h-1.8zM180.1 205.4h1.2v1.2h-1.2zM85.2 45.1h1.8v1.8h-1.8zM122.5 191.6h1.2v1.2h-1.2zM81.1 158.6h1.2v1.2h-1.2zM110.4 159.0h1.5v1.5h-1.5zM107.0 196.2h1.2v1.2h-1.2zM256.7 70.9h1.5v1.5h-1.5zM205.0 138.6h1.8v1.8h-1.8zM222.1 170.1h1.2v1.2h-1.2zM249.7 132.8h1.2v1.2h-1.2zM218.6 99.8h1.5v1.5h-1.5zM190.7 181.7h1.2v1.2h-1.2zM179.1 102.1h1.8v1.8h-1.8zM228.2 67.1h1.5v1.5h-1.5zM105.6 94.5h1.8v1.8h-1.8zM242.5 122.3h1.2v1.2h-1.2zM119.9 153.2h1.2v1.2h-1.2zM178.7 102.5h1.5v1.5h-1.5zM166.5 202.9h1.8v1.8h-1.8zM204.0 226.1h1.2v1.2h-1.2zM97.8 186.9h1.8v1.8h-1.8zM157.2 204.8h1.5v1.5h-1.5zM236.1 81.8h1.5v1.5h-1.5zM106.3 185.8h1.5v1.5h-1.5zM232.2 45.7h1.8v1.8h-1.8zM68.9 169.5h1.5v1.5h-1.5zM86.0 155.6h1.8v1.8h-1.8zM113.6 201.0h1.5v1.5h-1.5zM80.3 34.4h1.5v1.5h-1.5zM110.3 187.6h1.2v1.2h-1.2zM194.3 211.2h1.5v1.5h-1.5zM184.4 164.0h1.5v1.5h-1.5zM145.7 211.3h1.5v1.5h-1.5zM226.1 97.0h1.8v1.8h-1.8zM85.4 86.2h1.5v1.5h-1.5zM252.7 152.1h1.2v1.2h-1.2zM136.4 188.7h1.8v1.8h-1.8zM186.4 219.6h1.5v1.5h-1.5zM117.7 72.7h1.5v1.5h-1.5zM89.1 48.0h1.8v1.8h-1.8zM142.1 32.1h1.8v1.8h-1.8zM118.8 128.3h1.2v1.2h-1.2zM117.4 159.4h1.5v1.5h-1.5zM179.0 75.7h1.2v1.2h-1.2zM211.4 219.6h1.2v1.2h-1.2zM142.0 114.8h1.5v1.5h-1.5zM139.7 32.8h1.8v1.8h-1.8zM249.5 170.5h1.8v1.8h-1.8zM171.7 173.9h1.5v1.5h-1.5zM203.7 89.5h1.2v1.2h-1.2zM200.0 185.2h1.8v1.8h-1.8zM192.4 155.9h1.5v1.5h-1.5zM103.4 57.2h1.2v1.2h-1.2zM122.3 150.9h1.2v1.2h-1.2zM221.2 219.9h1.2v1.2h-1.2zM90.0 218.4h1.2v1.2h-1.2zM248.9 201.5h1.2v1.2h-1.2zM133.7 175.3h1.5v1.5h-1.5zM151.4 127.0h1.8v1.8h-1.8zM65.6 113.8h1.5v1.5h-1.5zM128.0 200.1h1.5v1.5h-1.5zM220.8 67.0h1.8v1.8h-1.8zM60.2 202.1h1.2v1.2h-1.2zM250.5 33.5h1.5v1.5h-1.5zM207.6 58.6h1.2v1.2h-1.2zM107.8 179.6h1.2v1.2h-1.2zM71.2 161.3h1.8v1.8h-1.8zM89.6 35.3h1.5v1.5h-1.5zM94.0 177.8h1.5v1.5h-1.5zM107.0 155.0h1.2v1.2h-1.2zM131.6 76.8h1.5v1.5h-1.5zM257.8 90.8h1.2v1.2h-1.2zM231.1 158.2h1.5v1.5h-1.5zM105.4 104.2h1.5v1.5h-1.5zM66.0 59.0h1.8v1.8h-1.8zM143.1 158.8h1.5v1.5h-1.5zM85.8 32.2h1.8v1.8h-1.8zM104.4 78.3h1.2v1.2h-1.2zM88.7 218.2h1.5v1.5h-1.5zM216.0 179.4h1.8v1.8h-1.8zM237.7 118.3h1.5v1.5h-1.5zM206.5 158.0h1.8v1.8h-1.8zM202.1 104.1h1.2v1.2h-1.2zM152.3 178.7h1.8v1.8h-1.8zM230.5 123.7h1.5v1.5h-1.5zM105.2 220.9h1.8v1.8h-1.8zM113.1 29.3h1.2v1.2h-1.2zM117.8 107.0h1.8v1.8h-1.8zM220.5 144.8h1.5v1.5h-1.5zM232.6 102.5h1.2v1.2h-1.2zM171.2 162.8h1.8v1.8h-1.8zM146.5 44.2h1.8v1.8h-1.8zM170.8 55.3h1.5v1.5h-1.5zM157.0 105.3h1.8v1.8h-1.8zM168.8 223.7h1.2v1.2h-1.2zM67.7 95.2h1.5v1.5h-1.5zM195.6 122.7h1.5v1.5h-1.5zM129.1 96.5h1.2v1.2h-1.2zM170.9 192.2h1.5v1.5h-1.5zM78.2 124.9h1.5v1.5h-1.5zM259.4 140.9h1.8v1.8h-1.8zM139.6 63.8h1.2v1.2h-1.2zM199.2 212.2h1.8v1.8h-1.8zM112.5 196.0h1.2v1.2h-1.2zM232.5 176.7h1.5v1.5h-1.5zM201.4 96.3h1.5v1.5h-1.5zM60.6 102.7h1.2v1.2h-1.2zM115.4 124.6h1.5v1.5h-1.5zM228.2 30.4h1.8v1.8h-1.8zM67.6 106.7h1.8v1.8h-1.8zM139.9 221.7h1.5v1.5h-1.5zM159.9 94.8h1.8v1.8h-1.8zM233.1 120.9h1.8v1.8h-1.8zM68.7 138.3h1.2v1.2h-1.2zM69.2 211.3h1.2v1.2h-1.2zM105.6 140.3h1.5v1.5h-1.5zM195.8 132.1h1.2v1.2h-1.2zM148.2 141.5h1.2v1.2h-1.2zM143.5 150.3h1.5v1.5h-1.5zM141.6 213.0h1.8v1.8h-1.8zM227.4 103.9h1.5v1.5h-1.5zM246.1 88.4h1.2v1.2h-1.2zM196.0 45.4h1.2v1.2h-1.2zM95.5 67.4h1.5v1.5h-1.5zM79.1 43.1h1.2v1.2h-1.2zM143.8 139.7h1.5v1.5h-1.5zM156.2 69.8h1.2v1.2h-1.2zM197.8 28.5h1.8v1.8h-1.8zM82.3 194.6h1.2v1.2h-1.2zM232.1 127.0h1.2v1.2h-1.2zM200.5 132.9h1.8v1.8h-1.8zM90.4 181.6h1.2v1.2h-1.2zM208.7 99.5h1.5v1.5h-1.5zM108.1 81.0h1.2v1.2h-1.2zM131.8 70.9h1.2v1.2h-1.2zM107.9 36.7h1.8v1.8h-1.8zM129.2 83.0h1.8v1.8h-1.8zM87.8 178.2h1.5v1.5h-1.5zM227.3 155.8h1.5v1.5h-1.5zM81.1 96.5h1.8v1.8h-1.8zM107.9 138.4h1.2v1.2h-1.2zM145.6 64.5h1.2v1.2h-1.2zM136.4 172.7h1.5v1.5h-1.5zM120.1 125.9h1.5v1.5h-1.5zM235.6 89.7h1.2v1.2h-1.2zM221.3 134.8h1.5v1.5h-1.5zM179.4 118.6h1.5v1.5h-1.5zM237.4 174.6h1.5v1.5h-1.5zM184.1 145.1h1.2v1.2h-1.2zM97.7 160.5h1.5v1.5h-1.5zM235.2 28.0h1.5v1.5h-1.5zM63.0 188.7h1.5v1.5h-1.5zM84.1 163.5h1.8v1.8h-1.8zM167.0 205.0h1.2v1.2h-1.2zM196.5 173.5h1.8v1.8h-1.8zM99.7 43.2h1.2v1.2h-1.2zM259.1 219.9h1.8v1.8h-1.8zM129.7 172.2h1.5v1.5h-1.5zM256.7 29.6h1.8v1.8h-1.8zM233.9 125.0h1.2v1.2h-1.2zM228.4 216.6h1.5v1.5h-1.5zM164.6 99.0h1.8v1.8h-1.8zM146.4 136.2h1.5v1.5h-1.5zM122.6 136.3h1.5v1.5h-1.5zM100.9 204.1h1.8v1.8h-1.8zM166.3 148.5h1.8v1.8h-1.8zM87.2 220.7h1.5v1.5h-1.5zM259.3 158.9h1.5v1.5h-1.5zM95.2 126.7h1.8v1.8h-1.8zM133.2 77.5h1.8v1.8h-1.8zM72.7 136.5h1.5v1.5h-1.5zM97.3 211.8h1.8v1.8h-1.8zM180.5 54.0h1.2v1.2h-1.2zM223.2 137.9h1.2v1.2h-1.2zM205.1 111.8h1.2v1.2h-1.2zM232.6 154.2h1.5v1.5h-1.5zM239.2 109.0h1.5v1.5h-1.5zM154.1 53.2h1.2v1.2h-1.2zM189.3 192.4h1.2v1.2h-1.2zM199.4 220.7h1.8v1.8h-1.8zM115.9 80.0h1.8v1.8h-1.8zM55.5 131.8h1.5v1.5h-1.5zM64.3 142.2h1.5v1.5h-1.5zM79.1 220.6h1.8v1.8h-1.8zM177.1 221.4h1.5v1.5h-1.5zM157.8 205.5h1.5v1.5h-1.5zM89.2 65.5h1.5v1.5h-1.5zM209.6 195.6h1.2v1.2h-1.2zM79.1 49.8h1.2v1.2h-1.2zM149.3 172.7h1.5v1.5h-1.5zM94.9 26.2h1.2v1.2h-1.2zM95.8 34.4h1.2v1.2h-1.2zM83.7 156.0h1.5v1.5h-1.5zM247.3 217.7h1.2v1.2h-1.2zM217.5 195.8h1.5v1.5h-1.5zM66.3 67.0h1.2v1.2h-1.2zM240.7 64.1h1.8v1.8h-1.8zM127.7 61.0h1.8v1.8h-1.8zM73.8 78.9h1.2v1.2h-1.2zM218.3 205.8h1.5v1.5h-1.5zM147.7 41.6h1.8v1.8h-1.8zM215.1 199.8h1.2v1.2h-1.2zM191.4 123.2h1.2v1.2h-1.2zM251.7 180.0h1.8v1.8h-1.8zM145.3 200.6h1.2v1.2h-1.2zM201.8 60.5h1.8v1.8h-1.8zM137.7 206.8h1.8v1.8h-1.8zM196.1 125.6h1.2v1.2h-1.2zM128.0 157.8h1.8v1.8h-1.8zM204.3 128.6h1.8v1.8h-1.8zM231.7 59.9h1.8v1.8h-1.8zM250.0 199.0h1.5v1.5h-1.5zM65.7 135.0h1.2v1.2h-1.2zM175.7 34.8h1.5v1.5h-1.5zM90.5 140.7h1.5v1.5h-1.5zM145.8 216.8h1.2v1.2h-1.2zM136.2 145.9h1.5v1.5h-1.5zM165.5 159.3h1.5v1.5h-1.5zM232.2 73.7h1.5v1.5h-1.5zM125.1 35.0h1.8v1.8h-1.8zM140.4 217.5h1.5v1.5h-1.5zM101.6 108.5h1.8v1.8h-1.8zM259.1 172.3h1.5v1.5h-1.5zM183.4 81.2h1.2v1.2h-1.2zM155.7 136.3h1.5v1.5h-1.5zM133.3 100.5h1.5v1.5h-1.5zM55.6 57.9h1.5v1.5h-1.5zM256.7 176.6h1.2v1.2h-1.2zM131.5 125.6h1.5v1.5h-1.5zM233.9 109.6h1.8v1.8h-1.8zM137.2 146.5h1.2v1.2h-1.2zM165.0 133.0h1.2v1.2h-1.2zM216.3 115.4h1.8v1.8h-1.8zM117.4 157.7h1.2v1.2h-1.2zM135.0 61.1h1.2v1.2h-1.2zM167.4 102.3h1.5v1.5h-1.5zM78.2 60.5h1.5v1.5h-1.5zM112.9 38.0h1.8v1.8h-1.8zM157.7 109.3h1.5v1.5h-1.5zM195.7 219.8h1.8v1.8h-1.8zM221.9 55.2h1.5v1.5h-1.5zM136.3 140.8h1.2v1.2h-1.2zM57.8 193.7h1.8v1.8h-1.8zM111.1 150.2h1.5v1.5h-1.5zM176.7 125.5h1.5v1.5h-1.5zM150.7 32.2h1.2v1.2h-1.2zM94.4 67.5h1.5v1.5h-1.5zM211.8 124.0h1.5v1.5h-1.5zM217.9 194.8h1.5v1.5h-1.5zM165.8 108.2h1.5v1.5h-1.5zM217.2 109.0h1.2v1.2h-1.2zM200.7 106.4h1.5v1.5h-1.5zM65.9 181.5h1.2v1.2h-1.2zM84.7 204.9h1.5v1.5h-1.5zM128.4 208.1h1.8v1.8h-1.8zM153.5 77.7h1.2v1.2h-1.2zM149.2 34.2h1.8v1.8h-1.8zM159.3 224.5h1.8v1.8h-1.8zM252.0 103.7h1.5v1.5h-1.5zM78.2 57.2h1.2v1.2h-1.2zM155.2 95.5h1.2v1.2h-1.2zM239.8 52.7h1.5v1.5h-1.5zM241.2 170.5h1.2v1.2h-1.2zM74.0 98.4h1.5v1.5h-1.5zM221.7 127.9h1.8v1.8h-1.8zM94.4 118.1h1.8v1.8h-1.8zM122.2 218.6h1.2v1.2h-1.2zM189.6 105.5h1.8v1.8h-1.8zM201.8 120.6h1.8v1.8h-1.8zM134.5 188.7h1.8v1.8h-1.8zM59.7 154.9h1.2v1.2h-1.2zM96.1 188.3h1.8v1.8h-1.8zM88.6 143.5h1.2v1.2h-1.2zM184.9 158.3h1.8v1.8h-1.8zM223.2 29.2h1.5v1.5h-1.5zM190.1 218.1h1.8v1.8h-1.8zM246.8 37.8h1.8v1.8h-1.8zM89.9 134.9h1.2v1.2h-1.2zM64.1 52.7h1.8v1.8h-1.8zM167.0 219.9h1.8v1.8h-1.8zM190.2 165.3h1.5v1.5h-1.5zM126.4 155.1h1.2v1.2h-1.2zM232.5 143.8h1.8v1.8h-1.8zM140.1 221.9h1.8v1.8h-1.8zM170.4 50.1h1.8v1.8h-1.8zM197.6 159.3h1.8v1.8h-1.8zM201.9 82.8h1.2v1.2h-1.2zM221.4 157.6h1.5v1.5h-1.5zM242.1 121.1h1.5v1.5h-1.5zM181.1 208.8h1.8v1.8h-1.8zM202.6 38.4h1.5v1.5h-1.5zM109.9 46.6h1.8v1.8h-1.8zM72.2 24.3h1.8v1.8h-1.8zM244.4 191.9h1.8v1.8h-1.8zM74.6 104.7h1.5v1.5h-1.5zM131.7 51.3h1.5v1.5h-1.5zM192.2 164.7h1.5v1.5h-1.5zM137.8 122.7h1.2v1.2h-1.2zM131.5 91.2h1.8v1.8h-1.8zM91.9 45.0h1.2v1.2h-1.2zM187.4 60.6h1.8v1.8h-1.8zM157.9 53.1h1.5v1.5h-1.5zM194.0 224.9h1.2v1.2h-1.2zM120.9 163.9h1.8v1.8h-1.8zM245.1 103.6h1.8v1.8h-1.8zM205.4 70.2h1.2v1.2h-1.2zM138.8 75.8h1.2v1.2h-1.2zM235.0 89.5h1.5v1.5h-1.5zM154.0 34.9h1.8v1.8h-1.8zM122.7 31.7h1.5v1.5h-1.5zM87.0 159.3h1.2v1.2h-1.2zM158.1 137.4h1.2v1.2h-1.2zM194.4 54.5h1.2v1.2h-1.2zM77.2 78.0h1.2v1.2h-1.2zM246.7 47.3h1.8v1.8h-1.8zM58.7 149.4h1.5v1.5h-1.5zM114.3 105.1h1.2v1.2h-1.2zM94.8 170.1h1.2v1.2h-1.2zM104.3 93.7h1.5v1.5h-1.5zM79.6 107.2h1.2v1.2h-1.2zM171.8 84.9h1.5v1.5h-1.5zM258.3 75.1h1.5v1.5h-1.5zM245.8 193.2h1.5v1.5h-1.5zM67.0 125.4h1.8v1.8h-1.8zM217.6 216.4h1.2v1.2h-1.2zM243.1 170.6h1.2v1.2h-1.2zM172.5 182.9h1.5v1.5h-1.5zM220.0 44.5h1.5v1.5h-1.5zM212.0 113.2h1.8v1.8h-1.8zM205.1 67.8h1.2v1.2h-1.2zM94.1 57.3h1.2v1.2h-1.2zM60.0 90.4h1.2v1.2h-1.2zM81.9 214.7h1.5v1.5h-1.5zM156.1 184.6h1.5v1.5h-1.5zM253.9 54.3h1.2v1.2h-1.2zM204.0 93.9h1.5v1.5h-1.5zM220.8 156.1h1.2v1.2h-1.2zM173.0 50.7h1.8v1.8h-1.8zM259.3 72.1h1.5v1.5h-1.5zM251.2 82.0h1.8v1.8h-1.8zM220.6 48.4h1.8v1.8h-1.8zM223.6 125.9h1.8v1.8h-1.8zM129.5 44.6h1.2v1.2h-1.2zM227.1 115.4h1.5v1.5h-1.5zM118.5 48.9h1.8v1.8h-1.8zM122.1 145.6h1.5v1.5h-1.5zM181.5 66.1h1.2v1.2h-1.2zM125.6 155.3h1.2v1.2h-1.2zM95.7 180.2h1.2v1.2h-1.2zM241.1 70.4h1.2v1.2h-1.2zM221.3 202.2h1.5v1.5h-1.5zM195.5 86.3h1.5v1.5h-1.5zM62.0 223.6h1.2v1.2h-1.2zM229.2 125.9h1.8v1.8h-1.8zM110.3 138.8h1.5v1.5h-1.5zM213.0 76.1h1.5v1.5h-1.5zM102.8 141.9h1.8v1.8h-1.8zM154.4 141.3h1.2v1.2h-1.2zM126.5 225.0h1.2v1.2h-1.2zM213.5 157.2h1.8v1.8h-1.8zM59.2 60.0h1.5v1.5h-1.5zM93.5 124.2h1.8v1.8h-1.8zM163.1 163.2h1.2v1.2h-1.2zM115.6 68.8h1.5v1.5h-1.5zM154.2 120.9h1.2v1.2h-1.2zM133.2 49.3h1.8v1.8h-1.8zM88.8 76.7h1.8v1.8h-1.8zM150.1 192.5h1.8v1.8h-1.8zM82.4 222.6h1.5v1.5h-1.5zM126.4 174.0h1.2v1.2h-1.2zM110.1 226.0h1.2v1.2h-1.2zM159.9 138.2h1.5v1.5h-1.5zM184.8 107.7h1.8v1.8h-1.8zM89.2 200.9h1.2v1.2h-1.2zM139.5 40.4h1.8v1.8h-1.8zM122.7 212.6h1.5v1.5h-1.5zM82.5 92.6h1.2v1.2h-1.2zM67.2 209.3h1.8v1.8h-1.8zM97.7 69.6h1.5v1.5h-1.5zM57.1 99.3h1.2v1.2h-1.2zM107.8 36.2h1.5v1.5h-1.5zM84.8 111.1h1.2v1.2h-1.2zM115.8 130.4h1.5v1.5h-1.5zM244.8 37.6h1.2v1.2h-1.2zM244.7 173.7h1.8v1.8h-1.8zM104.9 207.1h1.8v1.8h-1.8zM238.4 62.0h1.5v1.5h-1.5zM206.7 29.5h1.8v1.8h-1.8zM240.2 154.0h1.2v1.2h-1.2zM193.4 33.2h1.2v1.2h-1.2zM95.2 120.8h1.2v1.2h-1.2zM228.4 214.1h1.8v1.8h-1.8zM187.7 110.7h1.2v1.2h-1.2zM151.4 137.0h1.5v1.5h-1.5zM225.9 61.5h1.8v1.8h-1.8zM152.2 109.2h1.8v1.8h-1.8zM73.3 136.1h1.2v1.2h-1.2zM113.4 131.5h1.5v1.5h-1.5zM91.5 124.5h1.2v1.2h-1.2zM101.1 126.2h1.5v1.5h-1.5zM217.0 220.2h1.5v1.5h-1.5zM89.4 165.1h1.5v1.5h-1.5zM143.0 60.2h1.8v1.8h-1.8zM232.9 73.8h1.8v1.8h-1.8zM59.3 38.9h1.8v1.8h-1.8zM115.5 188.6h1.2v1.2h-1.2zM132.3 37.7h1.5v1.5h-1.5zM198.1 213.7h1.2v1.2h-1.2zM130.1 92.5h1.8v1.8h-1.8zM126.1 49.0h1.5v1.5h-1.5zM74.4 72.9h1.5v1.5h-1.5zM124.4 103.5h1.8v1.8h-1.8zM195.5 74.0h1.5v1.5h-1.5zM205.9 100.8h1.5v1.5h-1.5zM216.1 211.6h1.5v1.5h-1.5zM122.9 225.5h1.8v1.8h-1.8zM128.2 178.8h1.5v1.5h-1.5zM218.6 193.3h1.8v1.8h-1.8zM206.2 91.0h1.5v1.5h-1.5zM173.1 160.3h1.2v1.2h-1.2zM255.3 199.6h1.8v1.8h-1.8zM55.6 125.1h1.8v1.8h-1.8zM183.3 95.1h1.5v1.5h-1.5zM119.1 130.2h1.5v1.5h-1.5zM98.9 109.3h1.8v1.8h-1.8zM246.7 113.7h1.8v1.8h-1.8zM68.2 80.4h1.5v1.5h-1.5zM242.6 201.1h1.2v1.2h-1.2zM99.2 134.3h1.2v1.2h-1.2zM230.8 34.3h1.8v1.8h-1.8zM253.7 219.1h1.2v1.2h-1.2zM158.9 39.8h1.5v1.5h-1.5zM213.9 208.2h1.8v1.8h-1.8zM121.5 122.0h1.8v1.8h-1.8zM92.7 125.1h1.2v1.2h-1.2zM123.5 27.7h1.8v1.8h-1.8zM148.8 64.7h1.5v1.5h-1.5zM130.9 114.9h1.2v1.2h-1.2zM145.7 124.5h1.2v1.2h-1.2zM169.1 148.3h1.5v1.5h-1.5zM157.0 135.2h1.8v1.8h-1.8zM94.7 95.9h1.8v1.8h-1.8zM214.6 146.6h1.2v1.2h-1.2zM66.5 149.4h1.5v1.5h-1.5zM231.8 215.3h1.5v1.5h-1.5zM132.0 205.1h1.2v1.2h-1.2zM117.1 62.4h1.5v1.5h-1.5zM83.8 47.3h1.8v1.8h-1.8zM156.6 212.3h1.8v1.8h-1.8zM195.8 211.2h1.5v1.5h-1.5zM183.0 80.9h1.2v1.2h-1.2zM216.0 187.1h1.8v1.8h-1.8zM133.6 212.8h1.2v1.2h-1.2zM134.2 150.0h1.2v1.2h-1.2zM179.8 105.6h1.2v1.2h-1.2zM118.9 158.7h1.5v1.5h-1.5zM134.5 65.7h1.8v1.8h-1.8zM169.2 154.2h1.5v1.5h-1.5zM172.7 172.1h1.8v1.8h-1.8zM233.7 127.0h1.2v1.2h-1.2zM72.7 167.7h1.2v1.2h-1.2zM117.7 221.3h1.2v1.2h-1.2zM158.5 80.4h1.5v1.5h-1.5zM130.7 58.3h1.5v1.5h-1.5zM184.5 124.8h1.5v1.5h-1.5zM196.6 158.8h1.2v1.2h-1.2zM132.5 163.5h1.2v1.2h-1.2zM193.3 37.7h1.5v1.5h-1.5zM214.1 121.2h1.5v1.5h-1.5zM109.0 146.0h1.2v1.2h-1.2zM144.7 46.7h1.5v1.5h-1.5zM198.2 51.4h1.8v1.8h-1.8zM178.4 84.2h1.2v1.2h-1.2zM149.9 183.0h1.5v1.5h-1.5zM151.0 134.7h1.5v1.5h-1.5zM104.8 196.1h1.8v1.8h-1.8zM250.5 187.6h1.5v1.5h-1.5zM60.1 157.2h1.2v1.2h-1.2zM56.0 175.7h1.5v1.5h-1.5zM170.7 159.5h1.8v1.8h-1.8zM190.7 200.9h1.5v1.5h-1.5zM72.1 167.2h1.2v1.2h-1.2zM122.0 110.6h1.2v1.2h-1.2zM160.7 86.1h1.2v1.2h-1.2zM55.5 152.7h1.2v1.2h-1.2zM240.8 202.4h1.2v1.2h-1.2zM124.9 77.7h1.2v1.2h-1.2zM109.2 216.1h1.2v1.2h-1.2zM217.5 188.5h1.2v1.2h-1.2zM181.6 136.1h1.5v1.5h-1.5zM116.1 199.9h1.5v1.5h-1.5zM135.0 183.0h1.5v1.5h-1.5zM239.4 218.7h1.8v1.8h-1.8zM84.9 116.9h1.2v1.2h-1.2zM146.1 66.0h1.5v1.5h-1.5zM221.5 96.2h1.8v1.8h-1.8zM176.0 25.6h1.5v1.5h-1.5zM123.8 179.7h1.8v1.8h-1.8zM129.3 112.9h1.8v1.8h-1.8zM58.4 134.3h1.2v1.2h-1.2zM111.4 203.3h1.5v1.5h-1.5zM248.5 216.7h1.2v1.2h-1.2zM105.4 114.7h1.5v1.5h-1.5zM205.6 182.5h1.2v1.2h-1.2zM138.8 60.1h1.8v1.8h-1.8zM99.5 181.1h1.8v1.8h-1.8zM214.0 222.4h1.5v1.5h-1.5zM114.5 147.6h1.5v1.5h-1.5zM187.8 65.7h1.2v1.2h-1.2z" fill="rgb(66,66,66)"/>
<path d="M221.9 151.2h1.6v1.6h-1.6zM216.8 35.2h1.9v1.9h-1.9zM62.0 187.5h1.9v1.9h-1.9zM82.3 77.3h1.6v1.6h-1.6zM136.3 157.2h1.3v1.3h-1.3zM98.4 110.4h1.6v1.6h-1.6zM246.1 30.5h1.6v1.6h-1.6zM102.3 102.5h1.9v1.9h-1.9zM130.1 33.6h1.9v1.9h-1.9zM82.8 26.0h1.3v1.3h-1.3zM123.3 90.9h1.9v1.9h-1.9zM98.5 101.3h1.3v1.3h-1.3zM68.5 178.5h1.6v1.6h-1.6zM179.8 96.8h1.9v1.9h-1.9zM164.4 39.6h1.6v1.6h-1.6zM234.4 85.1h1.3v1.3h-1.3zM170.2 170.8h1.6v1.6h-1.6zM215.7 109.9h1.3v1.3h-1.3zM196.3 125.8h1.9v1.9h-1.9zM103.1 115.3h1.3v1.3h-1.3zM149.4 64.6h1.3v1.3h-1.3zM230.7 145.5h1.9v1.9h-1.9zM151.5 185.3h1.3v1.3h-1.3zM187.2 111.2h1.3v1.3h-1.3zM255.2 121.3h1.3v1.3h-1.3zM241.6 106.4h1.6v1.6h-1.6zM70.9 82.1h1.6v1.6h-1.6zM213.6 59.7h1.6v1.6h-1.6zM165.9 103.6h1.6v1.6h-1.6zM196.9 146.0h1.6v1.6h-1.6zM154.0 72.5h1.6v1.6h-1.6zM206.1 144.4h1.9v1.9h-1.9zM62.9 27.6h1.6v1.6h-1.6zM97.4 86.7h1.3v1.3h-1.3zM176.2 73.1h1.6v1.6h-1.6zM228.3 79.3h1.3v1.3h-1.3zM162.6 205.6h1.9v1.9h-1.9zM120.0 108.9h1.3v1.3h-1.3zM195.1 54.1h1.9v1.9h-1.9zM205.3 212.7h1.3v1.3h-1.3zM196.2 192.6h1.3v1.3h-1.3zM99.7 65.4h1.9v1.9h-1.9zM92.6 102.8h1.3v1.3h-1.3zM157.0 201.0h1.6v1.6h-1.6zM132.3 42.7h1.3v1.3h-1.3zM165.0 152.4h1.3v1.3h-1.3zM115.0 107.0h1.3v1.3h-1.3zM82.6 153.7h1.3v1.3h-1.3zM235.7 90.5h1.6v1.6h-1.6zM195.5 217.6h1.9v1.9h-1.9zM225.4 122.3h1.9v1.9h-1.9zM64.0 64.2h1.9v1.9h-1.9zM149.6 73.0h1.9v1.9h-1.9zM102.5 181.0h1.6v1.6h-1.6zM182.9 195.6h1.9v1.9h-1.9zM84.5 174.5h1.3v1.3h-1.3zM142.7 191.2h1.3v1.3h-1.3zM111.1 139.0h1.3v1.3h-1.3zM120.5 147.7h1.3v1.3h-1.3zM73.3 127.9h1.6v1.6h-1.6zM184.0 32.7h1.6v1.6h-1.6zM146.3 24.3h1.3v1.3h-1.3zM246.9 103.7h1.6v1.6h-1.6zM71.7 189.8h1.6v1.6h-1.6zM128.7 120.1h1.6v1.6h-1.6zM128.9 126.1h1.9v1.9h-1.9zM90.1 153.0h1.3v1.3h-1.3zM131.2 61.5h1.9v1.9h-1.9zM67.8 209.3h1.9v1.9h-1.9zM186.4 150.0h1.3v1.3h-1.3zM60.3 153.4h1.6v1.6h-1.6zM218.6 209.6h1.9v1.9h-1.9zM99.6 106.2h1.6v1.6h-1.6zM166.5 180.0h1.6v1.6h-1.6zM64.4 142.5h1.3v1.3h-1.3zM100.2 135.5h1.6v1.6h-1.6zM113.0 126.3h1.6v1.6h-1.6zM136.4 102.6h1.9v1.9h-1.9zM195.1 98.9h1.6v1.6h-1.6zM219.2 182.9h1.3v1.3h-1.3zM181.7 163.5h1.6v1.6h-1.6zM187.2 138.3h1.6v1.6h-1.6zM146.3 131.4h1.3v1.3h-1.3zM209.2 144.9h1.9v1.9h-1.9zM245.6 37.9h1.3v1.3h-1.3zM133.6 172.1h1.9v1.9h-1.9zM234.9 68.4h1.3v1.3h-1.3zM169.1 194.5h1.6v1.6h-1.6zM191.3 126.7h1.9v1.9h-1.9zM153.3 141.2h1.6v1.6h-1.6zM245.9 147.5h1.9v1.9h-1.9zM72.2 220.2h1.3v1.3h-1.3zM83.9 193.3h1.6v1.6h-1.6zM104.1 136.0h1.3v1.3h-1.3zM164.9 222.2h1.6v1.6h-1.6zM237.1 168.1h1.6v1.6h-1.6zM210.3 88.0h1.6v1.6h-1.6zM232.7 181.5h1.6v1.6h-1.6zM209.2 224.2h1.9v1.9h-1.9zM190.7 177.5h1.6v1.6h-1.6zM181.4 52.4h1.3v1.3h-1.3zM135.9 92.8h1.9v1.9h-1.9zM117.9 113.4h1.6v1.6h-1.6zM173.2 213.7h1.6v1.6h-1.6zM111.1 187.2h1.9v1.9h-1.9zM176.6 169.6h1.9v1.9h-1.9zM202.1 139.1h1.9v1.9h-1.9zM144.5 153.1h1.9v1.9h-1.9zM92.4 224.4h1.6v1.6h-1.6zM58.0 108.1h1.3v1.3h-1.3zM81.2 188.8h1.9v1.9h-1.9zM115.1 42.7h1.6v1.6h-1.6zM93.9 33.1h1.6v1.6h-1.6zM83.6 91.4h1.3v1.3h-1.3zM173.1 92.8h1.6v1.6h-1.6zM81.1 133.8h1.6v1.6h-1.6zM136.2 170.0h1.9v1.9h-1.9zM125.1 105.2h1.3v1.3h-1.3zM219.4 117.9h1.3v1.3h-1.3zM126.7 137.5h1.9v1.9h-1.9zM172.0 129.0h1.6v1.6h-1.6zM188.1 129.8h1.6v1.6h-1.6zM68.6 204.4h1.6v1.6h-1.6zM112.3 97.3h1.6v1.6h-1.6zM254.7 222.1h1.3v1.3h-1.3zM130.3 87.6h1.9v1.9h-1.9zM128.9 183.5h1.3v1.3h-1.3zM161.8 33.6h1.6v1.6h-1.6zM72.9 77.8h1.6v1.6h-1.6zM248.5 148.9h1.9v1.9h-1.9zM72.4 107.2h1.3v1.3h-1.3zM65.5 90.5h1.3v1.3h-1.3zM69.9 212.3h1.6v1.6h-1.6zM156.2 191.6h1.3v1.3h-1.3zM191.6 63.5h1.9v1.9h-1.9zM252.7 73.8h1.3v1.3h-1.3zM63.6 145.2h1.9v1.9h-1.9zM79.9 76.5h1.6v1.6h-1.6zM155.7 104.8h1.9v1.9h-1.9zM152.7 72.9h1.9v1.9h-1.9zM224.3 95.2h1.9v1.9h-1.9zM163.9 34.2h1.3v1.3h-1.3zM217.0 28.9h1.6v1.6h-1.6zM247.9 156.2h1.3v1.3h-1.3zM230.6 138.4h1.6v1.6h-1.6zM177.4 77.8h1.6v1.6h-1.6zM208.4 199.2h1.9v1.9h-1.9zM70.7 92.9h1.9v1.9h-1.9zM219.5 71.0h1.6v1.6h-1.6zM176.3 73.5h1.3v1.3h-1.3zM87.9 141.9h1.9v1.9h-1.9zM137.3 152.2h1.3v1.3h-1.3zM191.0 172.6h1.3v1.3h-1.3zM211.4 205.2h1.3v1.3h-1.3zM251.6 41.1h1.9v1.9h-1.9zM228.9 218.0h1.6v1.6h-1.6zM109.7 207.1h1.6v1.6h-1.6zM116.4 168.1h1.9v1.9h-1.9zM163.3 144.8h1.6v1.6h-1.6zM126.7 163.5h1.3v1.3h-1.3zM253.1 108.6h1.6v1.6h-1.6zM224.0 153.6h1.6v1.6h-1.6zM56.8 216.9h1.6v1.6h-1.6zM109.5 129.8h1.3v1.3h-1.3zM189.5 183.4h1.9v1.9h-1.9zM252.6 167.1h1.3v1.3h-1.3zM92.5 211.0h1.6v1.6h-1.6zM176.8 175.9h1.6v1.6h-1.6zM119.3 157.7h1.6v1.6h-1.6zM215.1 59.1h1.3v1.3h-1.3zM244.5 84.2h1.9v1.9h-1.9zM177.1 178.6h1.3v1.3h-1.3zM96.6 213.8h1.9v1.9h-1.9zM123.2 90.1h1.9v1.9h-1.9zM80.7 36.6h1.6v1.6h-1.6zM201.9 148.1h1.6v1.6h-1.6zM116.9 81.2h1.6v1.6h-1.6zM226.2 56.0h1.6v1.6h-1.6zM55.8 216.2h1.9v1.9h-1.9zM72.1 208.4h1.6v1.6h-1.6zM94.3 63.5h1.3v1.3h-1.3zM77.1 100.7h1.6v1.6h-1.6zM115.5 214.0h1.6v1.6h-1.6zM191.1 46.6h1.3v1.3h-1.3zM186.0 213.0h1.3v1.3h-1.3zM231.5 127.9h1.3v1.3h-1.3zM76.6 99.0h1.9v1.9h-1.9zM72.7 37.2h1.6v1.6h-1.6zM176.8 131.7h1.6v1.6h-1.6zM117.6 134.6h1.3v1.3h-1.3zM128.3 47.7h1.9v1.9h-1.9zM212.0 222.9h1.9v1.9h-1.9zM123.2 177.3h1.6v1.6h-1.6zM184.4 214.8h1.6v1.6h-1.6zM165.1 220.0h1.3v1.3h-1.3zM114.4 136.0h1.9v1.9h-1.9zM230.8 37.6h1.9v1.9h-1.9zM92.7 208.5h1.6v1.6h-1.6zM213.5 117.3h1.6v1.6h-1.6zM256.4 209.1h1.3v1.3h-1.3zM148.3 212.6h1.9v1.9h-1.9zM207.3 82.5h1.6v1.6h-1.6zM183.6 146.7h1.3v1.3h-1.3zM93.1 121.5h1.3v1.3h-1.3zM140.6 60.7h1.3v1.3h-1.3zM239.8 45.8h1.3v1.3h-1.3zM150.2 72.2h1.6v1.6h-1.6zM155.1 203.5h1.3v1.3h-1.3zM247.4 124.5h1.3v1.3h-1.3zM118.8 116.7h1.3v1.3h-1.3zM168.1 203.7h1.3v1.3h-1.3zM194.4 125.3h1.3v1.3h-1.3zM70.4 95.8h1.3v1.3h-1.3zM245.1 109.0h1.6v1.6h-1.6zM146.1 202.5h1.6v1.6h-1.6zM151.1 38.5h1.9v1.9h-1.9zM138.6 130.3h1.3v1.3h-1.3zM122.1 129.1h1.6v1.6h-1.6zM106.0 97.2h1.3v1.3h-1.3zM78.4 128.5h1.3v1.3h-1.3zM138.3 66.0h1.6v1.6h-1.6zM111.6 67.5h1.9v1.9h-1.9zM174.6 159.3h1.3v1.3h-1.3zM175.1 145.5h1.9v1.9h-1.9zM95.3 68.8h1.3v1.3h-1.3zM55.8 73.4h1.3v1.3h-1.3zM198.1 217.9h1.9v1.9h-1.9zM185.7 117.8h1.3v1.3h-1.3zM131.6 47.0h1.6v1.6h-1.6zM61.3 221.5h1.6v1.6h-1.6zM148.1 130.3h1.3v1.3h-1.3zM170.7 119.2h1.9v1.9h-1.9zM183.7 97.3h1.9v1.9h-1.9zM211.3 42.1h1.9v1.9h-1.9zM114.7 198.6h1.3v1.3h-1.3zM207.2 185.7h1.9v1.9h-1.9zM165.7 61.9h1.9v1.9h-1.9zM178.9 106.5h1.9v1.9h-1.9zM64.9 163.2h1.9v1.9h-1.9zM176.0 27.5h1.9v1.9h-1.9zM172.6 141.0h1.6v1.6h-1.6zM161.6 75.0h1.3v1.3h-1.3zM116.0 58.9h1.6v1.6h-1.6zM136.0 197.2h1.3v1.3h-1.3zM228.1 44.6h1.9v1.9h-1.9zM89.3 75.9h1.6v1.6h-1.6zM86.0 180.5h1.9v1.9h-1.9zM217.5 34.4h1.6v1.6h-1.6zM193.1 93.9h1.6v1.6h-1.6zM132.3 137.5h1.3v1.3h-1.3zM136.8 59.7h1.9v1.9h-1.9zM61.7 62.1h1.9v1.9h-1.9zM57.3 44.7h1.3v1.3h-1.3zM201.2 178.7h1.6v1.6h-1.6zM176.7 58.9h1.9v1.9h-1.9zM117.6 94.9h1.6v1.6h-1.6zM98.0 198.4h1.9v1.9h-1.9zM237.7 96.4h1.9v1.9h-1.9zM151.2 129.5h1.3v1.3h-1.3zM198.4 174.9h1.6v1.6h-1.6zM143.9 151.0h1.9v1.9h-1.9zM183.7 187.0h1.6v1.6h-1.6zM116.8 146.6h1.6v1.6h-1.6zM123.7 49.7h1.9v1.9h-1.9zM122.3 31.8h1.6v1.6h-1.6zM248.4 149.0h1.3v1.3h-1.3zM212.8 213.8h1.3v1.3h-1.3zM144.1 121.4h1.3v1.3h-1.3zM222.4 181.0h1.6v1.6h-1.6zM210.8 152.1h1.9v1.9h-1.9zM135.4 119.9h1.9v1.9h-1.9zM165.5 158.0h1.6v1.6h-1.6zM211.9 187.1h1.6v1.6h-1.6zM208.1 162.2h1.6v1.6h-1.6zM67.7 54.5h1.6v1.6h-1.6zM161.5 144.1h1.3v1.3h-1.3zM242.1 194.9h1.6v1.6h-1.6zM111.9 111.4h1.9v1.9h-1.9zM186.6 39.6h1.6v1.6h-1.6zM193.7 174.8h1.3v1.3h-1.3zM103.0 126.5h1.3v1.3h-1.3zM149.5 185.6h1.3v1.3h-1.3zM180.5 61.7h1.3v1.3h-1.3zM101.6 163.9h1.9v1.9h-1.9zM205.3 49.3h1.9v1.9h-1.9zM61.8 89.8h1.6v1.6h-1.6zM236.1 60.1h1.3v1.3h-1.3zM60.5 153.3h1.3v1.3h-1.3zM84.9 94.0h1.6v1.6h-1.6zM77.1 180.1h1.9v1.9h-1.9zM107.3 116.1h1.6v1.6h-1.6zM123.9 197.4h1.3v1.3h-1.3zM63.1 180.1h1.9v1.9h-1.9zM121.0 143.9h1.3v1.3h-1.3zM232.9 214.0h1.3v1.3h-1.3zM161.4 95.3h1.3v1.3h-1.3zM101.1 219.9h1.9v1.9h-1.9zM179.7 135.1h1.6v1.6h-1.6zM159.8 79.9h1.3v1.3h-1.3zM246.0 196.8h1.3v1.3h-1.3z" fill="rgb(78,78,78)"/>
<path d="M142.5 209.5a1.5 1.5 0 1 0 3.0 0a1.5 1.5 0 1 0-3.0 0zM124.7 197.3a1.1 1.1 0 1 0 2.2 0a1.1 1.1 0 1 0-2.2 0zM234.9 156.0a1.1 1.1 0 1 0 2.2 0a1.1 1.1 0 1 0-2.2 0zM97.2 147.3a1.7 1.7 0 1 0 3.4 0a1.7 1.7 0 1 0-3.4 0zM79.0 186.8a1.3 1.3 0 1 0 2.6 0a1.3 1.3 0 1 0-2.6 0zM220.4 203.2a1.7 1.7 0 1 0 3.4 0a1.7 1.7 0 1 0-3.4 0zM154.7 69.0a1.3 1.3 0 1 0 2.6 0a1.3 1.3 0 1 0-2.6 0zM95.5 148.3a1.7 1.7 0 1 0 3.4 0a1.7 1.7 0 1 0-3.4 0zM124.2 73.9a1.7 1.7 0 1 0 3.4 0a1.7 1.7 0 1 0-3.4 0zM258.0 38.1a1.1 1.1 0 1 0 2.2 0a1.1 1.1 0 1 0-2.2 0zM66.4 64.9a1.5 1.5 0 1 0 3.0 0a1.5 1.5 0 1 0-3.0 0zM71.7 90.7a1.1 1.1 0 1 0 2.2 0a1.1 1.1 0 1 0-2.2 0zM219.5 222.8a1.1 1.1 0 1 0 2.2 0a1.1 1.1 0 1 0-2.2 0zM146.5 144.4a1.5 1.5 0 1 0 3.0 0a1.5 1.5 0 1 0-3.0 0zM110.9 46.3a1.3 1.3 0 1 0 2.6 0a1.3 1.3 0 1 0-2.6 0zM156.5 112.6a1.1 1.1 0 1 0 2.2 0a1.1 1.1 0 1 0-2.2 0zM178.6 107.4a1.5 1.5 0 1 0 3.0 0a1.5 1.5 0 1 0-3.0 0zM123.2 168.8a1.3 1.3 0 1 0 2.6 0a1.3 1.3 0 1 0-2.6 0zM65.2 153.9a1.3 1.3 0 1 0 2.6 0a1.3 1.3 0 1 0-2.6 0zM197.6 72.2a1.7 1.7 0 1 0 3.4 0a1.7 1.7 0 1 0-3.4 0zM199.1 130.7a1.7 1.7 0 1 0 3.4 0a1.7 1.7 0 1 0-3.4 0zM163.6 85.8a1.7 1.7 0 1 0 3.4 0a1.7 1.7 0 1 0-3.4 0zM184.4 160.6a1.3 1.3 0 1 0 2.6 0a1.3 1.3 0 1 0-2.6 0zM56.0 64.1a1.7 1.7 0 1 0 3.4 0a1.7 1.7 0 1 0-3.4 0zM160.5 192.0a1.1 1.1 0 1 0 2.2 0a1.1 1.1 0 1 0-2.2 0zM86.7 70.2a1.7 1.7 0 1 0 3.4 0a1.7 1.7 0 1 0-3.4 0zM199.0 127.8a1.1 1.1 0 1 0 2.2 0a1.1 1.1 0 1 0-2.2 0zM78.3 99.3a1.7 1.7 0 1 0 3.4 0a1.7 1.7 0 1 0-3.4 0zM160.1 171.3a1.5 1.5 0 1 0 3.0 0a1.5 1.5 0 1 0-3.0 0zM133.9 140.6a1.5 1.5 0 1 0 3.0 0a1.5 1.5 0 1 0-3.0 0zM247.8 113.8a1.7 1.7 0 1 0 3.4 0a1.7 1.7 0 1 0-3.4 0zM102.7 178.5a1.7 1.7 0 1 0 3.4 0a1.7 1.7 0 1 0-3.4 0zM84.3 198.3a1.7 1.7 0 1 0 3.4 0a1.7 1.7 0 1 0-3.4 0zM85.0 183.5a1.7 1.7 0 1 0 3.4 0a1.7 1.7 0 1 0-3.4 0zM68.3 85.6a1.3 1.3 0 1 0 2.6 0a1.3 1.3 0 1 0-2.6 0zM258.5 195.3a1.5 1.5 0 1 0 3.0 0a1.5 1.5 0 1 0-3.0 0zM173.8 125.4a1.5 1.5 0 1 0 3.0 0a1.5 1.5 0 1 0-3.0 0zM214.5 92.6a1.7 1.7 0 1 0 3.4 0a1.7 1.7 0 1 0-3.4 0zM225.8 111.5a1.5 1.5 0 1 0 3.0 0a1.5 1.5 0 1 0-3.0 0zM152.6 202.1a1.1 1.1 0 1 0 2.2 0a1.1 1.1 0 1 0-2.2 0zM166.5 48.4a1.5 1.5 0 1 0 3.0 0a1.5 1.5 0 1 0-3.0 0zM78.2 59.3a1.1 1.1 0 1 0 2.2 0a1.1 1.1 0 1 0-2.2 0zM71.5 128.1a1.3 1.3 0 1 0 2.6 0a1.3 1.3 0 1 0-2.6 0zM229.5 37.1a1.5 1.5 0 1 0 3.0 0a1.5 1.5 0 1 0-3.0 0zM78.5 131.4a1.7 1.7 0 1 0 3.4 0a1.7 1.7 0 1 0-3.4 0zM145.4 56.0a1.7 1.7 0 1 0 3.4 0a1.7 1.7 0 1 0-3.4 0zM209.9 216.4a1.5 1.5 0 1 0 3.0 0a1.5 1.5 0 1 0-3.0 0zM71.4 197.6a1.3 1.3 0 1 0 2.6 0a1.3 1.3 0 1 0-2.6 0zM134.0 221.1a1.1 1.1 0 1 0 2.2 0a1.1 1.1 0 1 0-2.2 0zM173.3 202.9a1.5 1.5 0 1 0 3.0 0a1.5 1.5 0 1 0-3.0 0zM82.6 177.6a1.7 1.7 0 1 0 3.4 0a1.7 1.7 0 1 0-3.4 0zM60.8 98.3a1.5 1.5 0 1 0 3.0 0a1.5 1.5 0 1 0-3.0 0zM139.9 110.2a1.1 1.1 0 1 0 2.2 0a1.1 1.1 0 1 0-2.2 0zM96.3 98.6a1.5 1.5 0 1 0 3.0 0a1.5 1.5 0 1 0-3.0 0zM152.1 83.0a1.7 1.7 0 1 0 3.4 0a1.7 1.7 0 1 0-3.4 0zM114.5 103.6a1.5 1.5 0 1 0 3.0 0a1.5 1.5 0 1 0-3.0 0zM105.2 32.7a1.5 1.5 0 1 0 3.0 0a1.5 1.5 0 1 0-3.0 0zM89.9 28.8a1.3 1.3 0 1 0 2.6 0a1.3 1.3 0 1 0-2.6 0zM178.4 43.9a1.5 1.5 0 1 0 3.0 0a1.5 1.5 0 1 0-3.0 0zM145.7 31.8a1.3 1.3 0 1 0 2.6 0a1.3 1.3 0 1 0-2.6 0zM73.3 106.1a1.7 1.7 0 1 0 3.4 0a1.7 1.7 0 1 0-3.4 0zM217.4 92.5a1.1 1.1 0 1 0 2.2 0a1.1 1.1 0 1 0-2.2 0zM94.7 221.8a1.3 1.3 0 1 0 2.6 0a1.3 1.3 0 1 0-2.6 0zM197.4 60.8a1.5 1.5 0 1 0 3.0 0a1.5 1.5 0 1 0-3.0 0zM163.6 36.2a1.3 1.3 0 1 0 2.6 0a1.3 1.3 0 1 0-2.6 0zM193.0 225.3a1.1 1.1 0 1 0 2.2 0a1.1 1.1 0 1 0-2.2 0zM131.9 218.5a1.3 1.3 0 1 0 2.6 0a1.3 1.3 0 1 0-2.6 0zM139.5 110.2a1.3 1.3 0 1 0 2.6 0a1.3 1.3 0 1 0-2.6 0zM60.6 95.9a1.3 1.3 0 1 0 2.6 0a1.3 1.3 0 1 0-2.6 0zM85.7 161.1a1.3 1.3 0 1 0 2.6 0a1.3 1.3 0 1 0-2.6 0zM210.6 35.7a1.3 1.3 0 1 0 2.6 0a1.3 1.3 0 1 0-2.6 0zM221.2 105.0a1.1 1.1 0 1 0 2.2 0a1.1 1.1 0 1 0-2.2 0zM160.5 138.3a1.3 1.3 0 1 0 2.6 0a1.3 1.3 0 1 0-2.6 0zM114.2 137.8a1.3 1.3 0 1 0 2.6 0a1.3 1.3 0 1 0-2.6 0zM97.8 93.6a1.5 1.5 0 1 0 3.0 0a1.5 1.5 0 1 0-3.0 0zM63.9 63.6a1.5 1.5 0 1 0 3.0 0a1.5 1.5 0 1 0-3.0 0zM73.1 157.2a1.5 1.5 0 1 0 3.0 0a1.5 1.5 0 1 0-3.0 0zM103.6 156.8a1.7 1.7 0 1 0 3.4 0a1.7 1.7 0 1 0-3.4 0zM198.1 212.8a1.3 1.3 0 1 0 2.6 0a1.3 1.3 0 1 0-2.6 0zM115.2 147.8a1.5 1.5 0 1 0 3.0 0a1.5 1.5 0 1 0-3.0 0zM65.0 100.0a1.1 1.1 0 1 0 2.2 0a1.1 1.1 0 1 0-2.2 0zM99.9 100.5a1.1 1.1 0 1 0 2.2 0a1.1 1.1 0 1 0-2.2 0zM153.0 176.1a1.1 1.1 0 1 0 2.2 0a1.1 1.1 0 1 0-2.2 0zM111.1 151.0a1.3 1.3 0 1 0 2.6 0a1.3 1.3 0 1 0-2.6 0zM59.6 209.4a1.5 1.5 0 1 0 3.0 0a1.5 1.5 0 1 0-3.0 0zM129.8 213.3a1.3 1.3 0 1 0 2.6 0a1.3 1.3 0 1 0-2.6 0zM149.6 113.6a1.5 1.5 0 1 0 3.0 0a1.5 1.5 0 1 0-3.0 0zM193.2 152.1a1.3 1.3 0 1 0 2.6 0a1.3 1.3 0 1 0-2.6 0zM175.2 28.3a1.3 1.3 0 1 0 2.6 0a1.3 1.3 0 1 0-2.6 0zM101.2 141.1a1.7 1.7 0 1 0 3.4 0a1.7 1.7 0 1 0-3.4 0zM75.2 74.5a1.1 1.1 0 1 0 2.2 0a1.1 1.1 0 1 0-2.2 0zM132.1 135.9a1.5 1.5 0 1 0 3.0 0a1.5 1.5 0 1 0-3.0 0zM147.0 34.0a1.7 1.7 0 1 0 3.4 0a1.7 1.7 0 1 0-3.4 0zM69.5 94.5a1.7 1.7 0 1 0 3.4 0a1.7 1.7 0 1 0-3.4 0zM132.5 44.2a1.5 1.5 0 1 0 3.0 0a1.5 1.5 0 1 0-3.0 0zM141.6 213.5a1.1 1.1 0 1 0 2.2 0a1.1 1.1 0 1 0-2.2 0zM69.0 170.0a1.7 1.7 0 1 0 3.4 0a1.7 1.7 0 1 0-3.4 0zM99.1 97.5a1.3 1.3 0 1 0 2.6 0a1.3 1.3 0 1 0-2.6 0zM98.6 46.0a1.3 1.3 0 1 0 2.6 0a1.3 1.3 0 1 0-2.6 0zM124.4 134.2a1.5 1.5 0 1 0 3.0 0a1.5 1.5 0 1 0-3.0 0zM83.3 218.5a1.1 1.1 0 1 0 2.2 0a1.1 1.1 0 1 0-2.2 0zM99.5 97.8a1.3 1.3 0 1 0 2.6 0a1.3 1.3 0 1 0-2.6 0zM139.9 153.3a1.1 1.1 0 1 0 2.2 0a1.1 1.1 0 1 0-2.2 0zM184.9 176.1a1.3 1.3 0 1 0 2.6 0a1.3 1.3 0 1 0-2.6 0zM246.4 193.5a1.7 1.7 0 1 0 3.4 0a1.7 1.7 0 1 0-3.4 0zM180.3 127.5a1.1 1.1 0 1 0 2.2 0a1.1 1.1 0 1 0-2.2 0zM120.3 174.5a1.7 1.7 0 1 0 3.4 0a1.7 1.7 0 1 0-3.4 0zM186.5 102.0a1.5 1.5 0 1 0 3.0 0a1.5 1.5 0 1 0-3.0 0zM217.9 177.8a1.5 1.5 0 1 0 3.0 0a1.5 1.5 0 1 0-3.0 0zM149.7 134.6a1.7 1.7 0 1 0 3.4 0a1.7 1.7 0 1 0-3.4 0zM103.8 196.2a1.1 1.1 0 1 0 2.2 0a1.1 1.1 0 1 0-2.2 0zM237.1 64.1a1.7 1.7 0 1 0 3.4 0a1.7 1.7 0 1 0-3.4 0zM222.3 192.4a1.5 1.5 0 1 0 3.0 0a1.5 1.5 0 1 0-3.0 0zM68.3 24.8a1.3 1.3 0 1 0 2.6 0a1.3 1.3 0 1 0-2.6 0zM225.9 75.7a1.7 1.7 0 1 0 3.4 0a1.7 1.7 0 1 0-3.4 0zM104.1 82.4a1.1 1.1 0 1 0 2.2 0a1.1 1.1 0 1 0-2.2 0zM223.6 206.1a1.1 1.1 0 1 0 2.2 0a1.1 1.1 0 1 0-2.2 0zM241.1 118.6a1.5 1.5 0 1 0 3.0 0a1.5 1.5 0 1 0-3.0 0zM232.7 51.3a1.3 1.3 0 1 0 2.6 0a1.3 1.3 0 1 0-2.6 0zM76.5 116.4a1.3 1.3 0 1 0 2.6 0a1.3 1.3 0 1 0-2.6 0zM176.6 212.2a1.3 1.3 0 1 0 2.6 0a1.3 1.3 0 1 0-2.6 0zM116.6 84.0a1.3 1.3 0 1 0 2.6 0a1.3 1.3 0 1 0-2.6 0zM229.9 168.8a1.7 1.7 0 1 0 3.4 0a1.7 1.7 0 1 0-3.4 0zM247.2 83.9a1.1 1.1 0 1 0 2.2 0a1.1 1.1 0 1 0-2.2 0zM226.5 39.9a1.3 1.3 0 1 0 2.6 0a1.3 1.3 0 1 0-2.6 0zM164.8 92.5a1.3 1.3 0 1 0 2.6 0a1.3 1.3 0 1 0-2.6 0zM226.6 206.3a1.3 1.3 0 1 0 2.6 0a1.3 1.3 0 1 0-2.6 0zM88.8 91.1a1.1 1.1 0 1 0 2.2 0a1.1 1.1 0 1 0-2.2 0zM145.1 149.8a1.5 1.5 0 1 0 3.0 0a1.5 1.5 0 1 0-3.0 0zM96.4 212.4a1.5 1.5 0 1 0 3.0 0a1.5 1.5 0 1 0-3.0 0zM123.8 69.5a1.3 1.3 0 1 0 2.6 0a1.3 1.3 0 1 0-2.6 0zM106.7 59.9a1.5 1.5 0 1 0 3.0 0a1.5 1.5 0 1 0-3.0 0zM246.9 36.5a1.3 1.3 0 1 0 2.6 0a1.3 1.3 0 1 0-2.6 0zM55.6 72.5a1.7 1.7 0 1 0 3.4 0a1.7 1.7 0 1 0-3.4 0zM117.5 62.3a1.3 1.3 0 1 0 2.6 0a1.3 1.3 0 1 0-2.6 0zM229.4 105.1a1.5 1.5 0 1 0 3.0 0a1.5 1.5 0 1 0-3.0 0zM186.0 177.2a1.7 1.7 0 1 0 3.4 0a1.7 1.7 0 1 0-3.4 0zM170.9 211.0a1.7 1.7 0 1 0 3.4 0a1.7 1.7 0 1 0-3.4 0zM237.4 100.2a1.1 1.1 0 1 0 2.2 0a1.1 1.1 0 1 0-2.2 0zM216.8 189.4a1.1 1.1 0 1 0 2.2 0a1.1 1.1 0 1 0-2.2 0zM240.1 118.7a1.1 1.1 0 1 0 2.2 0a1.1 1.1 0 1 0-2.2 0zM188.7 165.4a1.5 1.5 0 1 0 3.0 0a1.5 1.5 0 1 0-3.0 0zM141.7 50.3a1.5 1.5 0 1 0 3.0 0a1.5 1.5 0 1 0-3.0 0zM117.4 189.6a1.5 1.5 0 1 0 3.0 0a1.5 1.5 0 1 0-3.0 0zM143.8 53.3a1.7 1.7 0 1 0 3.4 0a1.7 1.7 0 1 0-3.4 0zM55.1 49.3a1.7 1.7 0 1 0 3.4 0a1.7 1.7 0 1 0-3.4 0zM142.3 203.3a1.1 1.1 0 1 0 2.2 0a1.1 1.1 0 1 0-2.2 0zM58.8 165.7a1.1 1.1 0 1 0 2.2 0a1.1 1.1 0 1 0-2.2 0zM251.5 28.0a1.5 1.5 0 1 0 3.0 0a1.5 1.5 0 1 0-3.0 0zM56.7 162.0a1.3 1.3 0 1 0 2.6 0a1.3 1.3 0 1 0-2.6 0zM233.1 138.6a1.7 1.7 0 1 0 3.4 0a1.7 1.7 0 1 0-3.4 0zM161.5 207.5a1.3 1.3 0 1 0 2.6 0a1.3 1.3 0 1 0-2.6 0zM231.4 204.0a1.5 1.5 0 1 0 3.0 0a1.5 1.5 0 1 0-3.0 0zM75.9 86.9a1.7 1.7 0 1 0 3.4 0a1.7 1.7 0 1 0-3.4 0zM100.8 176.3a1.1 1.1 0 1 0 2.2 0a1.1 1.1 0 1 0-2.2 0zM129.0 92.0a1.5 1.5 0 1 0 3.0 0a1.5 1.5 0 1 0-3.0 0zM90.0 201.1a1.5 1.5 0 1 0 3.0 0a1.5 1.5 0 1 0-3.0 0zM108.7 167.0a1.5 1.5 0 1 0 3.0 0a1.5 1.5 0 1 0-3.0 0zM60.2 222.3a1.5 1.5 0 1 0 3.0 0a1.5 1.5 0 1 0-3.0 0zM82.2 149.1a1.3 1.3 0 1 0 2.6 0a1.3 1.3 0 1 0-2.6 0zM205.4 106.9a1.1 1.1 0 1 0 2.2 0a1.1 1.1 0 1 0-2.2 0zM194.9 176.3a1.3 1.3 0 1 0 2.6 0a1.3 1.3 0 1 0-2.6 0zM240.0 182.4a1.5 1.5 0 1 0 3.0 0a1.5 1.5 0 1 0-3.0 0zM96.6 167.9a1.1 1.1 0 1 0 2.2 0a1.1 1.1 0 1 0-2.2 0zM64.8 180.7a1.1 1.1 0 1 0 2.2 0a1.1 1.1 0 1 0-2.2 0zM235.1 69.2a1.3 1.3 0 1 0 2.6 0a1.3 1.3 0 1 0-2.6 0zM133.5 128.0a1.7 1.7 0 1 0 3.4 0a1.7 1.7 0 1 0-3.4 0zM256.1 137.8a1.7 1.7 0 1 0 3.4 0a1.7 1.7 0 1 0-3.4 0zM199.1 160.9a1.1 1.1 0 1 0 2.2 0a1.1 1.1 0 1 0-2.2 0zM157.6 161.9a1.7 1.7 0 1 0 3.4 0a1.7 1.7 0 1 0-3.4 0z" fill="rgb(118,118,118)"/>
<path d="M138.5 106.9m-1.0 0a1.0 1.0 0 1 0 2.0 0a1.0 1.0 0 1 0-2.0 0zM92.6 109.9m-1.0 0a1.0 1.0 0 1 0 2.0 0a1.0 1.0 0 1 0-2.0 0zM137.1 88.8m-0.8 0a0.8 0.8 0 1 0 1.6 0a0.8 0.8 0 1 0-1.6 0zM117.7 125.5m-1.0 0a1.0 1.0 0 1 0 2.0 0a1.0 1.0 0 1 0-2.0 0zM103.5 86.2m-1.2 0a1.2 1.2 0 1 0 2.4 0a1.2 1.2 0 1 0-2.4 0zM123.7 86.0m-1.0 0a1.0 1.0 0 1 0 2.0 0a1.0 1.0 0 1 0-2.0 0zM131.3 88.7m-1.0 0a1.0 1.0 0 1 0 2.0 0a1.0 1.0 0 1 0-2.0 0zM99.1 120.9m-0.8 0a0.8 0.8 0 1 0 1.6 0a0.8 0.8 0 1 0-1.6 0zM112.5 81.0m-0.8 0a0.8 0.8 0 1 0 1.6 0a0.8 0.8 0 1 0-1.6 0zM101.0 117.7m-1.0 0a1.0 1.0 0 1 0 2.0 0a1.0 1.0 0 1 0-2.0 0zM100.3 88.6m-1.2 0a1.2 1.2 0 1 0 2.4 0a1.2 1.2 0 1 0-2.4 0zM132.9 92.6m-1.0 0a1.0 1.0 0 1 0 2.0 0a1.0 1.0 0 1 0-2.0 0zM112.2 123.5m-1.0 0a1.0 1.0 0 1 0 2.0 0a1.0 1.0 0 1 0-2.0 0zM95.0 112.1m-1.0 0a1.0 1.0 0 1 0 2.0 0a1.0 1.0 0 1 0-2.0 0zM103.3 124.6m-1.0 0a1.0 1.0 0 1 0 2.0 0a1.0 1.0 0 1 0-2.0 0zM109.8 121.1m-1.2 0a1.2 1.2 0 1 0 2.4 0a1.2 1.2 0 1 0-2.4 0zM138.7 105.5m-1.2 0a1.2 1.2 0 1 0 2.4 0a1.2 1.2 0 1 0-2.4 0zM131.6 87.5m-1.0 0a1.0 1.0 0 1 0 2.0 0a1.0 1.0 0 1 0-2.0 0zM121.0 84.0m-1.2 0a1.2 1.2 0 1 0 2.4 0a1.2 1.2 0 1 0-2.4 0zM141.7 101.8m-1.0 0a1.0 1.0 0 1 0 2.0 0a1.0 1.0 0 1 0-2.0 0zM143.8 111.1m-0.8 0a0.8 0.8 0 1 0 1.6 0a0.8 0.8 0 1 0-1.6 0zM140.0 113.0m-1.2 0a1.2 1.2 0 1 0 2.4 0a1.2 1.2 0 1 0-2.4 0zM119.1 79.1m-1.0 0a1.0 1.0 0 1 0 2.0 0a1.0 1.0 0 1 0-2.0 0zM99.2 122.7m-1.2 0a1.2 1.2 0 1 0 2.4 0a1.2 1.2 0 1 0-2.4 0zM102.1 123.4m-1.0 0a1.0 1.0 0 1 0 2.0 0a1.0 1.0 0 1 0-2.0 0zM129.2 83.1m-1.2 0a1.2 1.2 0 1 0 2.4 0a1.2 1.2 0 1 0-2.4 0zM127.5 80.9m-1.0 0a1.0 1.0 0 1 0 2.0 0a1.0 1.0 0 1 0-2.0 0zM143.2 99.4m-0.8 0a0.8 0.8 0 1 0 1.6 0a0.8 0.8 0 1 0-1.6 0zM99.6 113.3m-1.0 0a1.0 1.0 0 1 0 2.0 0a1.0 1.0 0 1 0-2.0 0zM106.3 82.4m-1.0 0a1.0 1.0 0 1 0 2.0 0a1.0 1.0 0 1 0-2.0 0zM99.6 107.3m-1.2 0a1.2 1.2 0 1 0 2.4 0a1.2 1.2 0 1 0-2.4 0zM111.9 127.1m-1.2 0a1.2 1.2 0 1 0 2.4 0a1.2 1.2 0 1 0-2.4 0zM117.2 131.1m-1.2 0a1.2 1.2 0 1 0 2.4 0a1.2 1.2 0 1 0-2.4 0zM113.3 85.9m-1.0 0a1.0 1.0 0 1 0 2.0 0a1.0 1.0 0 1 0-2.0 0zM104.0 116.5m-1.2 0a1.2 1.2 0 1 0 2.4 0a1.2 1.2 0 1 0-2.4 0zM129.8 125.1m-1.2 0a1.2 1.2 0 1 0 2.4 0a1.2 1.2 0 1 0-2.4 0zM122.0 78.6m-1.2 0a1.2 1.2 0 1 0 2.4 0a1.2 1.2 0 1 0-2.4 0zM121.8 81.1m-1.2 0a1.2 1.2 0 1 0 2.4 0a1.2 1.2 0 1 0-2.4 0zM142.2 111.6m-1.0 0a1.0 1.0 0 1 0 2.0 0a1.0 1.0 0 1 0-2.0 0zM127.4 85.8m-1.0 0a1.0 1.0 0 1 0 2.0 0a1.0 1.0 0 1 0-2.0 0zM105.1 88.1m-1.0 0a1.0 1.0 0 1 0 2.0 0a1.0 1.0 0 1 0-2.0 0zM114.7 122.7m-0.8 0a0.8 0.8 0 1 0 1.6 0a0.8 0.8 0 1 0-1.6 0zM100.0 100.3m-1.0 0a1.0 1.0 0 1 0 2.0 0a1.0 1.0 0 1 0-2.0 0zM128.7 126.4m-0.8 0a0.8 0.8 0 1 0 1.6 0a0.8 0.8 0 1 0-1.6 0zM123.9 78.5m-1.2 0a1.2 1.2 0 1 0 2.4 0a1.2 1.2 0 1 0-2.4 0zM114.4 128.2m-1.0 0a1.0 1.0 0 1 0 2.0 0a1.0 1.0 0 1 0-2.0 0zM137.8 108.4m-0.8 0a0.8 0.8 0 1 0 1.6 0a0.8 0.8 0 1 0-1.6 0zM125.5 127.6m-0.8 0a0.8 0.8 0 1 0 1.6 0a0.8 0.8 0 1 0-1.6 0zM121.6 128.3m-1.2 0a1.2 1.2 0 1 0 2.4 0a1.2 1.2 0 1 0-2.4 0zM101.5 122.4m-1.2 0a1.2 1.2 0 1 0 2.4 0a1.2 1.2 0 1 0-2.4 0zM98.9 92.0m-1.2 0a1.2 1.2 0 1 0 2.4 0a1.2 1.2 0 1 0-2.4 0zM126.9 82.5m-0.8 0a0.8 0.8 0 1 0 1.6 0a0.8 0.8 0 1 0-1.6 0zM141.8 110.6m-0.8 0a0.8 0.8 0 1 0 1.6 0a0.8 0.8 0 1 0-1.6 0zM108.5 84.6m-1.2 0a1.2 1.2 0 1 0 2.4 0a1.2 1.2 0 1 0-2.4 0zM98.3 89.0m-1.0 0a1.0 1.0 0 1 0 2.0 0a1.0 1.0 0 1 0-2.0 0zM108.0 84.8m-1.0 0a1.0 1.0 0 1 0 2.0 0a1.0 1.0 0 1 0-2.0 0zM97.9 97.7m-1.0 0a1.0 1.0 0 1 0 2.0 0a1.0 1.0 0 1 0-2.0 0zM120.3 85.5m-1.2 0a1.2 1.2 0 1 0 2.4 0a1.2 1.2 0 1 0-2.4 0zM143.3 115.1m-0.8 0a0.8 0.8 0 1 0 1.6 0a0.8 0.8 0 1 0-1.6 0zM102.0 125.0m-1.0 0a1.0 1.0 0 1 0 2.0 0a1.0 1.0 0 1 0-2.0 0zM100.3 87.0m-0.8 0a0.8 0.8 0 1 0 1.6 0a0.8 0.8 0 1 0-1.6 0zM130.7 80.5m-1.0 0a1.0 1.0 0 1 0 2.0 0a1.0 1.0 0 1 0-2.0 0zM96.8 99.2m-1.0 0a1.0 1.0 0 1 0 2.0 0a1.0 1.0 0 1 0-2.0 0zM115.0 84.0m-0.8 0a0.8 0.8 0 1 0 1.6 0a0.8 0.8 0 1 0-1.6 0zM136.9 96.7m-1.2 0a1.2 1.2 0 1 0 2.4 0a1.2 1.2 0 1 0-2.4 0zM104.0 91.5m-1.0 0a1.0 1.0 0 1 0 2.0 0a1.0 1.0 0 1 0-2.0 0zM138.0 116.0m-1.0 0a1.0 1.0 0 1 0 2.0 0a1.0 1.0 0 1 0-2.0 0zM141.2 117.5m-1.0 0a1.0 1.0 0 1 0 2.0 0a1.0 1.0 0 1 0-2.0 0zM119.4 85.3m-1.0 0a1.0 1.0 0 1 0 2.0 0a1.0 1.0 0 1 0-2.0 0zM125.6 83.0m-1.0 0a1.0 1.0 0 1 0 2.0 0a1.0 1.0 0 1 0-2.0 0zM128.1 81.3m-1.2 0a1.2 1.2 0 1 0 2.4 0a1.2 1.2 0 1 0-2.4 0zM134.3 122.1m-1.0 0a1.0 1.0 0 1 0 2.0 0a1.0 1.0 0 1 0-2.0 0zM133.9 92.0m-1.0 0a1.0 1.0 0 1 0 2.0 0a1.0 1.0 0 1 0-2.0 0zM104.8 82.0m-1.0 0a1.0 1.0 0 1 0 2.0 0a1.0 1.0 0 1 0-2.0 0zM100.1 88.4m-1.2 0a1.2 1.2 0 1 0 2.4 0a1.2 1.2 0 1 0-2.4 0zM122.1 127.1m-0.8 0a0.8 0.8 0 1 0 1.6 0a0.8 0.8 0 1 0-1.6 0zM125.8 122.0m-1.0 0a1.0 1.0 0 1 0 2.0 0a1.0 1.0 0 1 0-2.0 0zM143.7 103.2m-0.8 0a0.8 0.8 0 1 0 1.6 0a0.8 0.8 0 1 0-1.6 0zM129.5 119.8m-1.2 0a1.2 1.2 0 1 0 2.4 0a1.2 1.2 0 1 0-2.4 0zM128.3 129.3m-1.2 0a1.2 1.2 0 1 0 2.4 0a1.2 1.2 0 1 0-2.4 0zM128.2 87.7m-1.0 0a1.0 1.0 0 1 0 2.0 0a1.0 1.0 0 1 0-2.0 0zM105.6 120.3m-1.2 0a1.2 1.2 0 1 0 2.4 0a1.2 1.2 0 1 0-2.4 0zM97.2 94.7m-1.0 0a1.0 1.0 0 1 0 2.0 0a1.0 1.0 0 1 0-2.0 0zM132.6 83.2m-1.2 0a1.2 1.2 0 1 0 2.4 0a1.2 1.2 0 1 0-2.4 0zM130.1 119.6m-1.2 0a1.2 1.2 0 1 0 2.4 0a1.2 1.2 0 1 0-2.4 0zM126.6 123.0m-1.2 0a1.2 1.2 0 1 0 2.4 0a1.2 1.2 0 1 0-2.4 0zM131.1 88.0m-0.8 0a0.8 0.8 0 1 0 1.6 0a0.8 0.8 0 1 0-1.6 0zM97.4 102.1m-1.2 0a1.2 1.2 0 1 0 2.4 0a1.2 1.2 0 1 0-2.4 0zM95.6 100.9m-1.2 0a1.2 1.2 0 1 0 2.4 0a1.2 1.2 0 1 0-2.4 0zM130.4 124.3m-0.8 0a0.8 0.8 0 1 0 1.6 0a0.8 0.8 0 1 0-1.6 0zM131.1 88.2m-1.2 0a1.2 1.2 0 1 0 2.4 0a1.2 1.2 0 1 0-2.4 0zM140.3 93.1m-1.0 0a1.0 1.0 0 1 0 2.0 0a1.0 1.0 0 1 0-2.0 0zM128.9 88.7m-1.2 0a1.2 1.2 0 1 0 2.4 0a1.2 1.2 0 1 0-2.4 0zM93.2 111.7m-1.0 0a1.0 1.0 0 1 0 2.0 0a1.0 1.0 0 1 0-2.0 0zM96.6 118.6m-1.2 0a1.2 1.2 0 1 0 2.4 0a1.2 1.2 0 1 0-2.4 0zM110.9 82.1m-0.8 0a0.8 0.8 0 1 0 1.6 0a0.8 0.8 0 1 0-1.6 0zM100.4 113.0m-0.8 0a0.8 0.8 0 1 0 1.6 0a0.8 0.8 0 1 0-1.6 0zM125.9 84.1m-1.0 0a1.0 1.0 0 1 0 2.0 0a1.0 1.0 0 1 0-2.0 0zM121.9 83.1m-1.2 0a1.2 1.2 0 1 0 2.4 0a1.2 1.2 0 1 0-2.4 0zM98.9 111.3m-1.0 0a1.0 1.0 0 1 0 2.0 0a1.0 1.0 0 1 0-2.0 0zM119.0 77.4m-1.0 0a1.0 1.0 0 1 0 2.0 0a1.0 1.0 0 1 0-2.0 0zM134.1 89.1m-1.0 0a1.0 1.0 0 1 0 2.0 0a1.0 1.0 0 1 0-2.0 0zM134.9 84.1m-0.8 0a0.8 0.8 0 1 0 1.6 0a0.8 0.8 0 1 0-1.6 0zM123.8 80.2m-0.8 0a0.8 0.8 0 1 0 1.6 0a0.8 0.8 0 1 0-1.6 0zM141.4 95.6m-0.8 0a0.8 0.8 0 1 0 1.6 0a0.8 0.8 0 1 0-1.6 0zM117.3 84.9m-0.8 0a0.8 0.8 0 1 0 1.6 0a0.8 0.8 0 1 0-1.6 0zM132.5 91.4m-1.2 0a1.2 1.2 0 1 0 2.4 0a1.2 1.2 0 1 0-2.4 0zM108.9 87.0m-1.0 0a1.0 1.0 0 1 0 2.0 0a1.0 1.0 0 1 0-2.0 0zM108.4 80.4m-1.0 0a1.0 1.0 0 1 0 2.0 0a1.0 1.0 0 1 0-2.0 0zM107.0 87.0m-1.0 0a1.0 1.0 0 1 0 2.0 0a1.0 1.0 0 1 0-2.0 0z" fill="rgb(120,120,120)"/>
</g>
<circle cx="237.7" cy="133.8" r="1.98" fill="url(#k0)"/>
<circle cx="210" cy="148.7" r="1.98" fill="url(#k0)"/>
<circle cx="237.2" cy="219.2" r="1.98" fill="url(#k0)"/>
<circle cx="207.8" cy="205.6" r="1.98" fill="url(#k0)"/>
<circle cx="172" cy="30" r="1.98" fill="url(#k0)"/>
<circle cx="184.2" cy="27.6" r="1.98" fill="url(#k0)"/>
<circle cx="142.6" cy="42.2" r="2.11" fill="url(#k0)"/>
<circle cx="103" cy="92.7" r="2.24" fill="url(#k0)"/>
<circle cx="73.1" cy="27.8" r="2.24" fill="url(#k0)"/>
<circle cx="112.1" cy="28.7" r="2.24" fill="url(#k0)"/>
<circle cx="142.1" cy="76.3" r="2.24" fill="url(#k0)"/>
<circle cx="69.4" cy="98.1" r="2.24" fill="url(#k0)"/>
<circle cx="103.1" cy="152.9" r="2.24" fill="url(#k0)"/>
<circle cx="116.7" cy="155.6" r="2.24" fill="url(#k0)"/>
<circle cx="60.4" cy="210.2" r="2.24" fill="url(#k0)"/>
<circle cx="86.7" cy="212" r="2.24" fill="url(#k0)"/>
<circle cx="136.7" cy="222" r="2.24" fill="url(#k0)"/>
<circle cx="158.2" cy="176.5" r="2.24" fill="url(#k0)"/>
<circle cx="166.5" cy="200.1" r="2.24" fill="url(#k0)"/>
<circle cx="229.2" cy="136.2" r="2.24" fill="url(#k0)"/>
<circle cx="245" cy="215.5" r="2.24" fill="url(#k0)"/>
<circle cx="251.7" cy="108.5" r="2.24" fill="url(#k0)"/>
<circle cx="232.7" cy="97.2" r="2.24" fill="url(#k0)"/>
<circle cx="219.2" cy="26.7" r="2.24" fill="url(#k0)"/>
<circle cx="103" cy="48.7" r="2.38" fill="url(#k0)"/>
<circle cx="72.2" cy="138" r="2.38" fill="url(#k0)"/>
<circle cx="87.6" cy="103.9" r="2.38" fill="url(#k0)"/>
<circle cx="155.8" cy="134.7" r="2.38" fill="url(#k0)"/>
<circle cx="207.2" cy="139.6" r="2.38" fill="url(#k0)"/>
<circle cx="198.7" cy="185.6" r="2.38" fill="url(#k0)"/>
<circle cx="210.5" cy="187" r="2.38" fill="url(#k0)"/>
<circle cx="218.7" cy="185.9" r="2.38" fill="url(#k0)"/>
<circle cx="173.4" cy="63.2" r="2.38" fill="url(#k0)"/>
<circle cx="191.4" cy="40.3" r="2.38" fill="url(#k0)"/>
<circle cx="230.5" cy="49.1" r="2.38" fill="url(#k0)"/>
<circle cx="206" cy="51.2" r="2.38" fill="url(#k0)"/>
<circle cx="255.9" cy="99.4" r="2.38" fill="url(#k0)"/>
<circle cx="86.3" cy="61.8" r="2.64" fill="url(#k1)"/>
<circle cx="84" cy="73.2" r="2.64" fill="url(#k1)"/>
<circle cx="222.8" cy="81.4" r="2.64" fill="url(#k1)"/>
<circle cx="217.8" cy="84.5" r="2.64" fill="url(#k1)"/>
<circle cx="164.7" cy="217.7" r="2.64" fill="url(#k1)"/>
<circle cx="92.2" cy="218.4" r="2.64" fill="url(#k1)"/>
<circle cx="133.9" cy="43.6" r="2.9" fill="url(#k1)"/>
<circle cx="144.8" cy="58.7" r="2.9" fill="url(#k1)"/>
<circle cx="80.4" cy="127.8" r="2.9" fill="url(#k1)"/>
<circle cx="73.1" cy="148.9" r="2.9" fill="url(#k1)"/>
<circle cx="106.7" cy="214.4" r="2.9" fill="url(#k1)"/>
<circle cx="130.4" cy="211.1" r="2.9" fill="url(#k1)"/>
<circle cx="145.3" cy="204.2" r="2.9" fill="url(#k1)"/>
<circle cx="242.6" cy="146.5" r="2.9" fill="url(#k1)"/>
<circle cx="210.9" cy="63.1" r="2.9" fill="url(#k1)"/>
<circle cx="160.5" cy="64.1" r="2.9" fill="url(#k1)"/>
<circle cx="187.8" cy="221.4" r="2.9" fill="url(#k1)"/>
<circle cx="157.6" cy="217.5" r="2.9" fill="url(#k1)"/>
<circle cx="199.6" cy="122" r="2.9" fill="url(#k1)"/>
<circle cx="124.8" cy="125.4" r="2.9" fill="url(#k1)"/>
<circle cx="89.4" cy="51.8" r="3.17" fill="url(#k1)"/>
<circle cx="218.1" cy="55.4" r="3.17" fill="url(#k1)"/>
<circle cx="158" cy="152" r="3.17" fill="url(#k1)"/>
<circle cx="124.5" cy="126.5" r="3.3" fill="url(#k1)"/>
<circle cx="63.1" cy="116.6" r="3.3" fill="url(#k1)"/>
<circle cx="120.4" cy="138.4" r="3.3" fill="url(#k1)"/>
<circle cx="171.4" cy="130.2" r="3.3" fill="url(#k1)"/>
<circle cx="213.8" cy="135.1" r="3.3" fill="url(#k1)"/>
<circle cx="228.7" cy="159.2" r="3.3" fill="url(#k1)"/>
<circle cx="235.9" cy="82.3" r="3.3" fill="url(#k1)"/>
<circle cx="199.6" cy="77.8" r="3.3" fill="url(#k1)"/>
<circle cx="200" cy="86.8" r="3.3" fill="url(#k1)"/>
<circle cx="239.9" cy="74.9" r="3.56" fill="url(#k2)"/>
<circle cx="106.1" cy="38.5" r="3.56" fill="url(#k2)"/>
<circle cx="186.9" cy="109" r="3.56" fill="url(#k2)"/>
<circle cx="200.5" cy="120.5" r="3.56" fill="url(#k2)"/>
<circle cx="210.9" cy="106.3" r="3.83" fill="url(#k2)"/>
<circle cx="230.5" cy="76.7" r="3.96" fill="url(#k2)"/>
<circle cx="235.6" cy="105.9" r="3.96" fill="url(#k2)"/>
<circle cx="97.6" cy="32.4" r="4.09" fill="url(#k2)"/>
<circle cx="95.8" cy="55.8" r="4.09" fill="url(#k2)"/>
<circle cx="125.4" cy="81.2" r="4.09" fill="url(#k2)"/>
<circle cx="137.6" cy="149.6" r="4.09" fill="url(#k2)"/>
<circle cx="173.8" cy="107.2" r="4.36" fill="url(#k2)"/>
<circle cx="160.5" cy="152.5" r="4.75" fill="url(#k3)"/>
<circle cx="140.4" cy="180.5" r="4.75" fill="url(#k3)"/>
<circle cx="137.9" cy="34.2" r="5.02" fill="url(#k3)"/>
<circle cx="151.2" cy="49.1" r="5.02" fill="url(#k3)"/>
<circle cx="82.2" cy="31.4" r="5.28" fill="url(#k3)"/>
<circle cx="122.1" cy="40.3" r="5.28" fill="url(#k3)"/>
<circle cx="243.6" cy="62.7" r="5.28" fill="url(#k3)"/>
<circle cx="207.2" cy="93" r="5.28" fill="url(#k3)"/>
<circle cx="173.8" cy="90.3" r="5.28" fill="url(#k3)"/>
<circle cx="177.8" cy="153.2" r="5.28" fill="url(#k3)"/>
<circle cx="189.6" cy="159.6" r="5.28" fill="url(#k3)"/>
<circle cx="255.5" cy="193.8" r="5.28" fill="url(#k3)"/>
<circle cx="72.5" cy="119" r="5.54" fill="url(#k3)"/>
<circle cx="95.5" cy="136.9" r="5.81" fill="url(#k4)"/>
<circle cx="225" cy="210.1" r="5.81" fill="url(#k4)"/>
<circle cx="212.3" cy="29.4" r="5.94" fill="url(#k4)"/>
<circle cx="255.9" cy="149.6" r="5.94" fill="url(#k4)"/>
<circle cx="91.8" cy="70" r="6.47" fill="url(#k4)"/>
<circle cx="74" cy="169.6" r="6.47" fill="url(#k4)"/>
<circle cx="97.6" cy="82.3" r="7.66" fill="url(#k5)"/>
<circle cx="161.5" cy="73.6" r="8.18" fill="url(#k5)"/>
<circle cx="182.3" cy="81.4" r="10.82" fill="url(#k5)"/>
<circle cx="100.4" cy="187.8" r="10.82" fill="url(#k5)"/>
<circle cx="118.6" cy="104.3" r="17.6" fill="#87d2d2" fill-opacity="0.85"/>
<radialGradient id="xg"><stop offset="0" stop-color="#7a1a05"/><stop offset="0.76" stop-color="#7e1c06"/><stop offset="0.9" stop-color="#983a0e"/><stop offset="0.97" stop-color="#b86a22"/><stop offset="1" stop-color="#c8a050"/></radialGradient>
<circle cx="118.8" cy="104.3" r="16.2" fill="url(#xg)"/>
<circle cx="118.8" cy="104.3" r="17.7" fill="none" stroke="#3480c4" stroke-width="1.15" stroke-dasharray="2.4 1.1"/>
<line x1="158.3" y1="24.6" x2="158.3" y2="226.4" stroke="#151515" stroke-width="1.0" stroke-dasharray="4.4 2.4"/>
</g>
<text x="118.6" y="103.2" font-size="9" text-anchor="middle" fill="#000" stroke="#000" stroke-width="0.25">Xu</text>
<text x="118.6" y="112.5" font-size="9" text-anchor="middle" fill="#000" stroke="#000" stroke-width="0.25">Guangqi</text>
<text x="146.8" y="127.2" font-size="8.6" text-anchor="middle" fill="#000" font-weight="bold" stroke="#c8a848" stroke-width="0.4" paint-order="stroke">C2</text>
<path d="M158.3 122.8 L159 124.8 L161.1 124.8 L159.4 126 L160.1 128 L158.3 126.8 L156.5 128 L157.2 126 L155.5 124.8 L157.6 124.8Z" fill="#f52a2a" stroke="#f6d0d0" stroke-width="0.5" stroke-opacity="0.8"/>
<rect x="54.6" y="22.8" width="207.4" height="205.5" fill="#fff" fill-opacity="0" stroke="#b0b0b0" stroke-width="0.6"/>
<rect x="54.6" y="22.8" width="31.6" height="1.8" fill="#000"/>
<rect x="54.6" y="226.4" width="31.6" height="1.9" fill="#000"/>
<rect x="86.2" y="22.8" width="37.7" height="1.8" fill="#fff"/>
<rect x="86.2" y="226.4" width="37.7" height="1.9" fill="#fff"/>
<rect x="123.9" y="22.8" width="37.2" height="1.8" fill="#000"/>
<rect x="123.9" y="226.4" width="37.2" height="1.9" fill="#000"/>
<rect x="161.1" y="22.8" width="37.6" height="1.8" fill="#fff"/>
<rect x="161.1" y="226.4" width="37.6" height="1.9" fill="#fff"/>
<rect x="198.7" y="22.8" width="37.5" height="1.8" fill="#000"/>
<rect x="198.7" y="226.4" width="37.5" height="1.9" fill="#000"/>
<rect x="236.2" y="22.8" width="25.8" height="1.8" fill="#fff"/>
<rect x="236.2" y="226.4" width="25.8" height="1.9" fill="#fff"/>
<rect x="54.6" y="22.8" width="1.8" height="18.1" fill="#000"/>
<rect x="260.1" y="22.8" width="1.9" height="18.1" fill="#000"/>
<rect x="54.6" y="40.9" width="1.8" height="25.7" fill="#fff"/>
<rect x="260.1" y="40.9" width="1.9" height="25.7" fill="#fff"/>
<rect x="54.6" y="66.6" width="1.8" height="25.5" fill="#000"/>
<rect x="260.1" y="66.6" width="1.9" height="25.5" fill="#000"/>
<rect x="54.6" y="92.1" width="1.8" height="25.7" fill="#fff"/>
<rect x="260.1" y="92.1" width="1.9" height="25.7" fill="#fff"/>
<rect x="54.6" y="117.8" width="1.8" height="24.8" fill="#000"/>
<rect x="260.1" y="117.8" width="1.9" height="24.8" fill="#000"/>
<rect x="54.6" y="142.6" width="1.8" height="25.8" fill="#fff"/>
<rect x="260.1" y="142.6" width="1.9" height="25.8" fill="#fff"/>
<rect x="54.6" y="168.4" width="1.8" height="25" fill="#000"/>
<rect x="260.1" y="168.4" width="1.9" height="25" fill="#000"/>
<rect x="54.6" y="193.4" width="1.8" height="26.4" fill="#fff"/>
<rect x="260.1" y="193.4" width="1.9" height="26.4" fill="#fff"/>
<rect x="54.6" y="219.8" width="1.8" height="8.5" fill="#000"/>
<rect x="260.1" y="219.8" width="1.9" height="8.5" fill="#000"/>
<rect x="54.6" y="22.8" width="207.4" height="205.5" fill="none" stroke="#b0b0b0" stroke-width="0.5"/>
<rect x="56.4" y="24.6" width="203.7" height="201.8" fill="none" stroke="#999" stroke-width="0.4"/>
<line x1="52.3" y1="41.3" x2="54.6" y2="41.3" stroke="#999" stroke-width="0.7" />
<text x="50.9" y="44.9" font-size="9" text-anchor="end" fill="#000" >43°05'N</text>
<line x1="52.3" y1="92.2" x2="54.6" y2="92.2" stroke="#999" stroke-width="0.7" />
<text x="50.9" y="95.8" font-size="9" text-anchor="end" fill="#000" >43°04'N</text>
<line x1="52.3" y1="142.8" x2="54.6" y2="142.8" stroke="#999" stroke-width="0.7" />
<text x="50.9" y="146.4" font-size="9" text-anchor="end" fill="#000" >43°03'N</text>
<line x1="52.3" y1="193.8" x2="54.6" y2="193.8" stroke="#999" stroke-width="0.7" />
<text x="50.9" y="197.4" font-size="9" text-anchor="end" fill="#000" >43°02'N</text>
<line x1="123.9" y1="20.4" x2="123.9" y2="22.8" stroke="#999" stroke-width="0.7" />
<line x1="123.9" y1="228.3" x2="123.9" y2="230.7" stroke="#999" stroke-width="0.7" />
<text x="123.9" y="239.7" font-size="8.8" text-anchor="middle" fill="#000" >51°56'W</text>
<line x1="198.7" y1="20.4" x2="198.7" y2="22.8" stroke="#999" stroke-width="0.7" />
<line x1="198.7" y1="228.3" x2="198.7" y2="230.7" stroke="#999" stroke-width="0.7" />
<text x="198.7" y="239.7" font-size="8.8" text-anchor="middle" fill="#000" >51°54'W</text>
<defs><linearGradient id="cb"><stop offset="0.00" stop-color="#1e58a0"/><stop offset="0.05" stop-color="#2873b4"/><stop offset="0.10" stop-color="#378cc3"/><stop offset="0.15" stop-color="#55afcd"/><stop offset="0.20" stop-color="#87d2d2"/><stop offset="0.25" stop-color="#b4e4c8"/><stop offset="0.30" stop-color="#cde1a0"/><stop offset="0.34" stop-color="#d7dc94"/><stop offset="0.40" stop-color="#d7cd78"/><stop offset="0.50" stop-color="#caaf55"/><stop offset="0.60" stop-color="#be963c"/><stop offset="0.67" stop-color="#b4822d"/><stop offset="0.75" stop-color="#aa6e23"/><stop offset="0.85" stop-color="#964b14"/><stop offset="0.95" stop-color="#822d0a"/><stop offset="1.00" stop-color="#7a1e06"/></linearGradient></defs>
<rect x="56" y="246.5" width="204" height="8.6" fill="url(#cb)" stroke="#555" stroke-width="0.7"/>
<polygon points="260,246.5 265,250.8 260,255.1" fill="#7a1e06" stroke="#555" stroke-width="0.7"/>
<line x1="56" y1="255.1" x2="56" y2="258.6" stroke="#444" stroke-width="0.7" />
<line x1="69.6" y1="255.1" x2="69.6" y2="257.1" stroke="#444" stroke-width="0.7" />
<line x1="83.2" y1="255.1" x2="83.2" y2="257.1" stroke="#444" stroke-width="0.7" />
<line x1="96.8" y1="255.1" x2="96.8" y2="257.1" stroke="#444" stroke-width="0.7" />
<line x1="110.4" y1="255.1" x2="110.4" y2="257.1" stroke="#444" stroke-width="0.7" />
<line x1="124" y1="255.1" x2="124" y2="258.6" stroke="#444" stroke-width="0.7" />
<line x1="137.6" y1="255.1" x2="137.6" y2="257.1" stroke="#444" stroke-width="0.7" />
<line x1="151.2" y1="255.1" x2="151.2" y2="257.1" stroke="#444" stroke-width="0.7" />
<line x1="164.8" y1="255.1" x2="164.8" y2="257.1" stroke="#444" stroke-width="0.7" />
<line x1="178.4" y1="255.1" x2="178.4" y2="257.1" stroke="#444" stroke-width="0.7" />
<line x1="192" y1="255.1" x2="192" y2="258.6" stroke="#444" stroke-width="0.7" />
<line x1="205.6" y1="255.1" x2="205.6" y2="257.1" stroke="#444" stroke-width="0.7" />
<line x1="219.2" y1="255.1" x2="219.2" y2="257.1" stroke="#444" stroke-width="0.7" />
<line x1="232.8" y1="255.1" x2="232.8" y2="257.1" stroke="#444" stroke-width="0.7" />
<line x1="246.4" y1="255.1" x2="246.4" y2="257.1" stroke="#444" stroke-width="0.7" />
<line x1="260" y1="255.1" x2="260" y2="258.6" stroke="#444" stroke-width="0.7" />
<text x="57" y="268.2" font-size="9.4" text-anchor="middle" fill="#000" >0</text>
<text x="125" y="268.2" font-size="9.4" text-anchor="middle" fill="#000" >10</text>
<text x="193" y="268.2" font-size="9.4" text-anchor="middle" fill="#000" >20</text>
<text x="261" y="268.2" font-size="9.4" text-anchor="middle" fill="#000" >30</text>
<text x="158.3" y="278.7" font-size="11" text-anchor="middle" fill="#000" >Regolith thickness (m)</text>
<polygon points="288,23.8 287.4,23.8 287.4,29.1 285,32.7 281.5,34.5 283.9,35.1 285,36.9 285.6,38.7 285,41 286.8,42.8 283.9,47.6 285.6,48.8 285,50.6 286.8,53 285.6,55.3 284.5,57.1 286.2,58.9 285,61.3 281.5,63.1 279.7,64.3 275.5,66.6 270.8,67.8 270.8,78 281.5,80.3 286.8,80.9 287.4,82.7 285,84.5 287.4,86.3 285,88.1 281.5,89.3 285.6,90.5 286.8,92.4 285,96 286.8,99.5 283.9,105.5 285.6,107.9 283.9,112.6 285.6,115.6 284.5,118.6 287.4,123.3 283.9,130.5 282.7,134 287.4,137.6 286.2,141.2 281.5,144.8 287.4,146 285,148.3 270.8,150.7 270.8,154.3 282.7,154.9 286.8,156.7 286.2,160.1 285.6,162.9 286.2,166.6 281.9,170.2 286.2,172.1 275.8,176.4 286.2,179.4 286.8,181.3 285,184.9 284.4,189.8 286.2,192.3 283.1,197.2 286.8,199 280.7,202.7 282.5,204.5 285.6,207 286.8,209.4 286.2,211.9 274.6,217.4 286.2,219.2 285.6,221.7 287.4,225.3 287.4,226.3 288,226.3" fill="#d2d2d2" />
<polyline points="287.4,23.8 287.4,29.1 285,32.7 281.5,34.5 283.9,35.1 285,36.9 285.6,38.7 285,41 286.8,42.8 283.9,47.6 285.6,48.8 285,50.6 286.8,53 285.6,55.3 284.5,57.1 286.2,58.9 285,61.3 281.5,63.1 279.7,64.3 275.5,66.6 270.8,67.8 270.8,78 281.5,80.3 286.8,80.9 287.4,82.7 285,84.5 287.4,86.3 285,88.1 281.5,89.3 285.6,90.5 286.8,92.4 285,96 286.8,99.5 283.9,105.5 285.6,107.9 283.9,112.6 285.6,115.6 284.5,118.6 287.4,123.3 283.9,130.5 282.7,134 287.4,137.6 286.2,141.2 281.5,144.8 287.4,146 285,148.3 270.8,150.7 270.8,154.3 282.7,154.9 286.8,156.7 286.2,160.1 285.6,162.9 286.2,166.6 281.9,170.2 286.2,172.1 275.8,176.4 286.2,179.4 286.8,181.3 285,184.9 284.4,189.8 286.2,192.3 283.1,197.2 286.8,199 280.7,202.7 282.5,204.5 285.6,207 286.8,209.4 286.2,211.9 274.6,217.4 286.2,219.2 285.6,221.7 287.4,225.3 287.4,226.3" fill="none" stroke="#7a7a7a" stroke-width="0.7" stroke-linejoin="round" />
<polyline points="288.3,23.8 288.3,58 289.5,63.5 284,68 277.9,72.6 284,77.5 290.5,82 288.3,86 288.3,144 288.6,146 283.9,151.9 288.6,156.1 289.5,159 288.3,162 288,226.3" fill="none" stroke="#f08080" stroke-width="0.7" stroke-linejoin="round" />
<rect x="270.6" y="23.5" width="21.6" height="203.1" fill="none" stroke="#111" stroke-width="0.8"/>
<line x1="292.2" y1="23.5" x2="297" y2="23.5" stroke="#333" stroke-width="0.7" />
<line x1="292.2" y1="28.58" x2="294.6" y2="28.58" stroke="#333" stroke-width="0.7" />
<line x1="292.2" y1="33.66" x2="294.6" y2="33.66" stroke="#333" stroke-width="0.7" />
<line x1="292.2" y1="38.73" x2="294.6" y2="38.73" stroke="#333" stroke-width="0.7" />
<line x1="292.2" y1="43.81" x2="294.6" y2="43.81" stroke="#333" stroke-width="0.7" />
<line x1="292.2" y1="48.89" x2="297" y2="48.89" stroke="#333" stroke-width="0.7" />
<line x1="292.2" y1="53.97" x2="294.6" y2="53.97" stroke="#333" stroke-width="0.7" />
<line x1="292.2" y1="59.04" x2="294.6" y2="59.04" stroke="#333" stroke-width="0.7" />
<line x1="292.2" y1="64.12" x2="294.6" y2="64.12" stroke="#333" stroke-width="0.7" />
<line x1="292.2" y1="69.2" x2="294.6" y2="69.2" stroke="#333" stroke-width="0.7" />
<line x1="292.2" y1="74.28" x2="297" y2="74.28" stroke="#333" stroke-width="0.7" />
<line x1="292.2" y1="79.35" x2="294.6" y2="79.35" stroke="#333" stroke-width="0.7" />
<line x1="292.2" y1="84.43" x2="294.6" y2="84.43" stroke="#333" stroke-width="0.7" />
<line x1="292.2" y1="89.51" x2="294.6" y2="89.51" stroke="#333" stroke-width="0.7" />
<line x1="292.2" y1="94.59" x2="294.6" y2="94.59" stroke="#333" stroke-width="0.7" />
<line x1="292.2" y1="99.66" x2="297" y2="99.66" stroke="#333" stroke-width="0.7" />
<line x1="292.2" y1="104.74" x2="294.6" y2="104.74" stroke="#333" stroke-width="0.7" />
<line x1="292.2" y1="109.82" x2="294.6" y2="109.82" stroke="#333" stroke-width="0.7" />
<line x1="292.2" y1="114.89" x2="294.6" y2="114.89" stroke="#333" stroke-width="0.7" />
<line x1="292.2" y1="119.97" x2="294.6" y2="119.97" stroke="#333" stroke-width="0.7" />
<line x1="292.2" y1="125.05" x2="297" y2="125.05" stroke="#333" stroke-width="0.7" />
<line x1="292.2" y1="130.13" x2="294.6" y2="130.13" stroke="#333" stroke-width="0.7" />
<line x1="292.2" y1="135.21" x2="294.6" y2="135.21" stroke="#333" stroke-width="0.7" />
<line x1="292.2" y1="140.28" x2="294.6" y2="140.28" stroke="#333" stroke-width="0.7" />
<line x1="292.2" y1="145.36" x2="294.6" y2="145.36" stroke="#333" stroke-width="0.7" />
<line x1="292.2" y1="150.44" x2="297" y2="150.44" stroke="#333" stroke-width="0.7" />
<line x1="292.2" y1="155.51" x2="294.6" y2="155.51" stroke="#333" stroke-width="0.7" />
<line x1="292.2" y1="160.59" x2="294.6" y2="160.59" stroke="#333" stroke-width="0.7" />
<line x1="292.2" y1="165.67" x2="294.6" y2="165.67" stroke="#333" stroke-width="0.7" />
<line x1="292.2" y1="170.75" x2="294.6" y2="170.75" stroke="#333" stroke-width="0.7" />
<line x1="292.2" y1="175.82" x2="297" y2="175.82" stroke="#333" stroke-width="0.7" />
<line x1="292.2" y1="180.9" x2="294.6" y2="180.9" stroke="#333" stroke-width="0.7" />
<line x1="292.2" y1="185.98" x2="294.6" y2="185.98" stroke="#333" stroke-width="0.7" />
<line x1="292.2" y1="191.06" x2="294.6" y2="191.06" stroke="#333" stroke-width="0.7" />
<line x1="292.2" y1="196.14" x2="294.6" y2="196.14" stroke="#333" stroke-width="0.7" />
<line x1="292.2" y1="201.21" x2="297" y2="201.21" stroke="#333" stroke-width="0.7" />
<line x1="292.2" y1="206.29" x2="294.6" y2="206.29" stroke="#333" stroke-width="0.7" />
<line x1="292.2" y1="211.37" x2="294.6" y2="211.37" stroke="#333" stroke-width="0.7" />
<line x1="292.2" y1="216.44" x2="294.6" y2="216.44" stroke="#333" stroke-width="0.7" />
<line x1="292.2" y1="221.52" x2="294.6" y2="221.52" stroke="#333" stroke-width="0.7" />
<line x1="292.2" y1="226.6" x2="297" y2="226.6" stroke="#333" stroke-width="0.7" />
<text x="321.2" y="26.8" font-size="9.1" text-anchor="end" fill="#000" >1.00</text>
<text x="321.2" y="52.19" font-size="9.1" text-anchor="end" fill="#000" >0.75</text>
<text x="321.2" y="77.58" font-size="9.1" text-anchor="end" fill="#000" >0.50</text>
<text x="321.2" y="102.96" font-size="9.1" text-anchor="end" fill="#000" >0.25</text>
<text x="321.2" y="128.35" font-size="9.1" text-anchor="end" fill="#000" >0.00</text>
<text x="321.2" y="153.74" font-size="9.1" text-anchor="end" fill="#000" >−0.25</text>
<text x="321.2" y="179.12" font-size="9.1" text-anchor="end" fill="#000" >−0.50</text>
<text x="321.2" y="204.51" font-size="9.1" text-anchor="end" fill="#000" >−0.75</text>
<text x="321.2" y="229.9" font-size="9.1" text-anchor="end" fill="#000" >−1.00</text>
<line x1="270.82" y1="21.3" x2="270.82" y2="23.5" stroke="#444" stroke-width="0.7" />
<line x1="270.82" y1="226.6" x2="270.82" y2="228.8" stroke="#444" stroke-width="0.7" />
<line x1="274.2" y1="19.3" x2="274.2" y2="23.5" stroke="#999" stroke-width="0.7" />
<line x1="274.2" y1="226.6" x2="274.2" y2="230.8" stroke="#999" stroke-width="0.7" />
<line x1="277.57" y1="21.3" x2="277.57" y2="23.5" stroke="#444" stroke-width="0.7" />
<line x1="277.57" y1="226.6" x2="277.57" y2="228.8" stroke="#444" stroke-width="0.7" />
<line x1="280.95" y1="21.3" x2="280.95" y2="23.5" stroke="#444" stroke-width="0.7" />
<line x1="280.95" y1="226.6" x2="280.95" y2="228.8" stroke="#444" stroke-width="0.7" />
<line x1="284.32" y1="21.3" x2="284.32" y2="23.5" stroke="#444" stroke-width="0.7" />
<line x1="284.32" y1="226.6" x2="284.32" y2="228.8" stroke="#444" stroke-width="0.7" />
<line x1="287.7" y1="19.3" x2="287.7" y2="23.5" stroke="#999" stroke-width="0.7" />
<line x1="287.7" y1="226.6" x2="287.7" y2="230.8" stroke="#999" stroke-width="0.7" />
<line x1="291.07" y1="21.3" x2="291.07" y2="23.5" stroke="#444" stroke-width="0.7" />
<line x1="291.07" y1="226.6" x2="291.07" y2="228.8" stroke="#444" stroke-width="0.7" />
<text x="274.2" y="17.8" font-size="9" text-anchor="middle" fill="#000" >−20</text>
<text x="287.7" y="17.8" font-size="9" text-anchor="middle" fill="#000" >0</text>
<text x="281.2" y="7.6" font-size="10.8" text-anchor="middle" fill="#000" >Elevation (m)</text>
<text transform="translate(333.2,124.75) rotate(-90)" font-size="10.9" text-anchor="middle">Distance (km)</text></svg></body></html>
